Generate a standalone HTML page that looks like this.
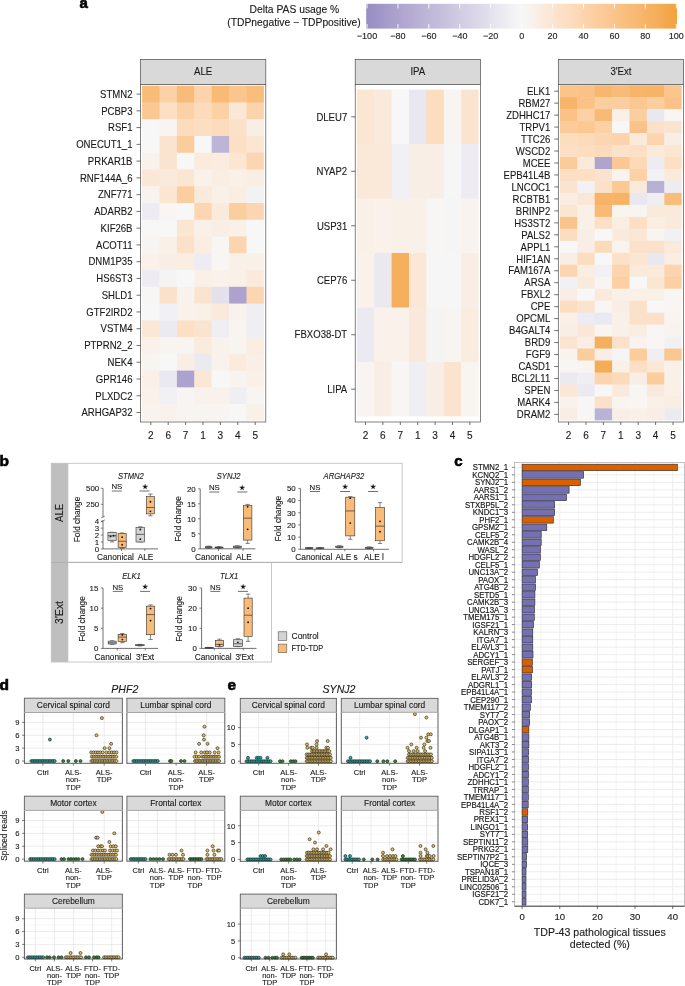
<!DOCTYPE html>
<html><head><meta charset="utf-8"><style>
html,body{margin:0;padding:0;background:#fff;}
body{width:685px;height:986px;overflow:hidden;}
svg{display:block;font-family:"Liberation Sans", sans-serif;will-change:transform;}
text{stroke:#1a1a1a;stroke-width:0.12px;}
</style></head><body>
<svg width="685" height="986" viewBox="0 0 685 986">
<rect width="685" height="986" fill="#fff"/>
<text x="79.5" y="8.3" font-size="15" text-anchor="start" fill="#000" font-weight="bold" style="stroke:#000;stroke-width:0.6px">a</text>
<text x="294.4" y="13.31" font-size="10.3" text-anchor="middle" fill="#1a1a1a">Delta PAS usage %</text>
<text x="294" y="25.51" font-size="10.3" text-anchor="middle" fill="#1a1a1a">(TDPnegative − TDPpositive)</text>
<defs><linearGradient id="cb" x1="0" x2="1" y1="0" y2="0"><stop offset="0" stop-color="#998ec3"/><stop offset="0.03" stop-color="#9e93c6"/><stop offset="0.05" stop-color="#a298c8"/><stop offset="0.07" stop-color="#a79dcb"/><stop offset="0.1" stop-color="#aca2cd"/><stop offset="0.12" stop-color="#b1a7d0"/><stop offset="0.15" stop-color="#b5acd3"/><stop offset="0.17" stop-color="#bab2d5"/><stop offset="0.2" stop-color="#bfb7d8"/><stop offset="0.23" stop-color="#c3bcda"/><stop offset="0.25" stop-color="#c8c1dd"/><stop offset="0.28" stop-color="#cdc7e0"/><stop offset="0.3" stop-color="#d1cce2"/><stop offset="0.33" stop-color="#d6d1e5"/><stop offset="0.35" stop-color="#dbd6e7"/><stop offset="0.38" stop-color="#dfdcea"/><stop offset="0.4" stop-color="#e4e1ed"/><stop offset="0.42" stop-color="#e9e7ef"/><stop offset="0.45" stop-color="#eeecf2"/><stop offset="0.47" stop-color="#f2f2f4"/><stop offset="0.5" stop-color="#f7f7f7"/><stop offset="0.53" stop-color="#f8f3ee"/><stop offset="0.55" stop-color="#f9eee5"/><stop offset="0.57" stop-color="#faeadb"/><stop offset="0.6" stop-color="#fbe6d2"/><stop offset="0.62" stop-color="#fbe1c9"/><stop offset="0.65" stop-color="#fcddc0"/><stop offset="0.68" stop-color="#fcd9b7"/><stop offset="0.7" stop-color="#fcd5ae"/><stop offset="0.72" stop-color="#fcd1a5"/><stop offset="0.75" stop-color="#fbcc9c"/><stop offset="0.78" stop-color="#fbc893"/><stop offset="0.8" stop-color="#fac48a"/><stop offset="0.82" stop-color="#fac081"/><stop offset="0.85" stop-color="#f9bc78"/><stop offset="0.88" stop-color="#f8b76f"/><stop offset="0.9" stop-color="#f7b366"/><stop offset="0.93" stop-color="#f5af5d"/><stop offset="0.95" stop-color="#f4ab54"/><stop offset="0.97" stop-color="#f3a74a"/><stop offset="1" stop-color="#f1a340"/></linearGradient></defs>
<rect x="366.2" y="3.8" width="310.8" height="24.8" fill="url(#cb)"/>
<line x1="367" y1="3.8" x2="367" y2="8.4" stroke="#ffffff" stroke-width="0.9"/>
<line x1="367" y1="24" x2="367" y2="28.6" stroke="#ffffff" stroke-width="0.9"/>
<text x="367" y="39.24" font-size="9" text-anchor="middle" fill="#222">−100</text>
<line x1="397.93" y1="3.8" x2="397.93" y2="8.4" stroke="#ffffff" stroke-width="0.9"/>
<line x1="397.93" y1="24" x2="397.93" y2="28.6" stroke="#ffffff" stroke-width="0.9"/>
<text x="397.93" y="39.24" font-size="9" text-anchor="middle" fill="#222">−80</text>
<line x1="428.86" y1="3.8" x2="428.86" y2="8.4" stroke="#ffffff" stroke-width="0.9"/>
<line x1="428.86" y1="24" x2="428.86" y2="28.6" stroke="#ffffff" stroke-width="0.9"/>
<text x="428.86" y="39.24" font-size="9" text-anchor="middle" fill="#222">−60</text>
<line x1="459.79" y1="3.8" x2="459.79" y2="8.4" stroke="#ffffff" stroke-width="0.9"/>
<line x1="459.79" y1="24" x2="459.79" y2="28.6" stroke="#ffffff" stroke-width="0.9"/>
<text x="459.79" y="39.24" font-size="9" text-anchor="middle" fill="#222">−40</text>
<line x1="490.72" y1="3.8" x2="490.72" y2="8.4" stroke="#ffffff" stroke-width="0.9"/>
<line x1="490.72" y1="24" x2="490.72" y2="28.6" stroke="#ffffff" stroke-width="0.9"/>
<text x="490.72" y="39.24" font-size="9" text-anchor="middle" fill="#222">−20</text>
<line x1="521.65" y1="3.8" x2="521.65" y2="8.4" stroke="#ffffff" stroke-width="0.9"/>
<line x1="521.65" y1="24" x2="521.65" y2="28.6" stroke="#ffffff" stroke-width="0.9"/>
<text x="521.65" y="39.24" font-size="9" text-anchor="middle" fill="#222">0</text>
<line x1="552.58" y1="3.8" x2="552.58" y2="8.4" stroke="#ffffff" stroke-width="0.9"/>
<line x1="552.58" y1="24" x2="552.58" y2="28.6" stroke="#ffffff" stroke-width="0.9"/>
<text x="552.58" y="39.24" font-size="9" text-anchor="middle" fill="#222">20</text>
<line x1="583.51" y1="3.8" x2="583.51" y2="8.4" stroke="#ffffff" stroke-width="0.9"/>
<line x1="583.51" y1="24" x2="583.51" y2="28.6" stroke="#ffffff" stroke-width="0.9"/>
<text x="583.51" y="39.24" font-size="9" text-anchor="middle" fill="#222">40</text>
<line x1="614.44" y1="3.8" x2="614.44" y2="8.4" stroke="#ffffff" stroke-width="0.9"/>
<line x1="614.44" y1="24" x2="614.44" y2="28.6" stroke="#ffffff" stroke-width="0.9"/>
<text x="614.44" y="39.24" font-size="9" text-anchor="middle" fill="#222">60</text>
<line x1="645.37" y1="3.8" x2="645.37" y2="8.4" stroke="#ffffff" stroke-width="0.9"/>
<line x1="645.37" y1="24" x2="645.37" y2="28.6" stroke="#ffffff" stroke-width="0.9"/>
<text x="645.37" y="39.24" font-size="9" text-anchor="middle" fill="#222">80</text>
<line x1="676.3" y1="3.8" x2="676.3" y2="8.4" stroke="#ffffff" stroke-width="0.9"/>
<line x1="676.3" y1="24" x2="676.3" y2="28.6" stroke="#ffffff" stroke-width="0.9"/>
<text x="676.3" y="39.24" font-size="9" text-anchor="middle" fill="#222">100</text>
<rect x="140.5" y="59.4" width="125.3" height="25" fill="#d9d9d9" stroke="#4d4d4d" stroke-width="0.7"/>
<text transform="translate(203.15 74.88) scale(0.92 1)" font-size="10.5" text-anchor="middle" fill="#1a1a1a">ALE</text>
<rect x="140.5" y="84.4" width="125.3" height="337.6" fill="#ffffff"/>
<rect x="142.1" y="85.7" width="17.9" height="17.26" fill="#f9bc78"/>
<rect x="159.5" y="85.7" width="17.9" height="17.26" fill="#fcd1a5"/>
<rect x="176.9" y="85.7" width="17.9" height="17.26" fill="#f9bc78"/>
<rect x="194.3" y="85.7" width="17.9" height="17.26" fill="#fcd3aa"/>
<rect x="211.7" y="85.7" width="17.9" height="17.26" fill="#f8ba75"/>
<rect x="229.1" y="85.7" width="17.9" height="17.26" fill="#fbc68e"/>
<rect x="246.5" y="85.7" width="17.4" height="17.26" fill="#f9bd7c"/>
<rect x="142.1" y="102.46" width="17.9" height="17.26" fill="#fbc893"/>
<rect x="159.5" y="102.46" width="17.9" height="17.26" fill="#fcdfc4"/>
<rect x="176.9" y="102.46" width="17.9" height="17.26" fill="#fcd1a5"/>
<rect x="194.3" y="102.46" width="17.9" height="17.26" fill="#fcdcbc"/>
<rect x="211.7" y="102.46" width="17.9" height="17.26" fill="#fcd1a5"/>
<rect x="229.1" y="102.46" width="17.9" height="17.26" fill="#fbe7d6"/>
<rect x="246.5" y="102.46" width="17.4" height="17.26" fill="#fcd3aa"/>
<rect x="142.1" y="119.22" width="17.9" height="17.26" fill="#f7f7f7"/>
<rect x="159.5" y="119.22" width="17.9" height="17.26" fill="#f8f4f1"/>
<rect x="176.9" y="119.22" width="17.9" height="17.26" fill="#fcdcbc"/>
<rect x="194.3" y="119.22" width="17.9" height="17.26" fill="#fcdec2"/>
<rect x="211.7" y="119.22" width="17.9" height="17.26" fill="#fcdcbc"/>
<rect x="229.1" y="119.22" width="17.9" height="17.26" fill="#fbe1c7"/>
<rect x="246.5" y="119.22" width="17.4" height="17.26" fill="#f9eee5"/>
<rect x="142.1" y="135.98" width="17.9" height="17.26" fill="#f7f7f7"/>
<rect x="159.5" y="135.98" width="17.9" height="17.26" fill="#fbe4cf"/>
<rect x="176.9" y="135.98" width="17.9" height="17.26" fill="#fbcc9c"/>
<rect x="194.3" y="135.98" width="17.9" height="17.26" fill="#f7f7f7"/>
<rect x="211.7" y="135.98" width="17.9" height="17.26" fill="#bdb5d7"/>
<rect x="229.1" y="135.98" width="17.9" height="17.26" fill="#fcdfc4"/>
<rect x="246.5" y="135.98" width="17.4" height="17.26" fill="#fbe6d2"/>
<rect x="142.1" y="152.74" width="17.9" height="17.26" fill="#f9f2ec"/>
<rect x="159.5" y="152.74" width="17.9" height="17.26" fill="#fbe4cf"/>
<rect x="176.9" y="152.74" width="17.9" height="17.26" fill="#f7f7f7"/>
<rect x="194.3" y="152.74" width="17.9" height="17.26" fill="#faebdd"/>
<rect x="211.7" y="152.74" width="17.9" height="17.26" fill="#faecdf"/>
<rect x="229.1" y="152.74" width="17.9" height="17.26" fill="#fbe6d2"/>
<rect x="246.5" y="152.74" width="17.4" height="17.26" fill="#fcd6b2"/>
<rect x="142.1" y="169.5" width="17.9" height="17.26" fill="#fbe7d6"/>
<rect x="159.5" y="169.5" width="17.9" height="17.26" fill="#faeadb"/>
<rect x="176.9" y="169.5" width="17.9" height="17.26" fill="#fbe6d2"/>
<rect x="194.3" y="169.5" width="17.9" height="17.26" fill="#f9f1ea"/>
<rect x="211.7" y="169.5" width="17.9" height="17.26" fill="#faede1"/>
<rect x="229.1" y="169.5" width="17.9" height="17.26" fill="#f9f0e8"/>
<rect x="246.5" y="169.5" width="17.4" height="17.26" fill="#faede1"/>
<rect x="142.1" y="186.26" width="17.9" height="17.26" fill="#f8f3ee"/>
<rect x="159.5" y="186.26" width="17.9" height="17.26" fill="#fbe6d2"/>
<rect x="176.9" y="186.26" width="17.9" height="17.26" fill="#fbcea0"/>
<rect x="194.3" y="186.26" width="17.9" height="17.26" fill="#faeadb"/>
<rect x="211.7" y="186.26" width="17.9" height="17.26" fill="#f9f0e8"/>
<rect x="229.1" y="186.26" width="17.9" height="17.26" fill="#faede1"/>
<rect x="246.5" y="186.26" width="17.4" height="17.26" fill="#f2f2f4"/>
<rect x="142.1" y="203.02" width="17.9" height="17.26" fill="#eeecf2"/>
<rect x="159.5" y="203.02" width="17.9" height="17.26" fill="#f8f5f3"/>
<rect x="176.9" y="203.02" width="17.9" height="17.26" fill="#f7f7f7"/>
<rect x="194.3" y="203.02" width="17.9" height="17.26" fill="#fcd6b2"/>
<rect x="211.7" y="203.02" width="17.9" height="17.26" fill="#faeadb"/>
<rect x="229.1" y="203.02" width="17.9" height="17.26" fill="#fbcea0"/>
<rect x="246.5" y="203.02" width="17.4" height="17.26" fill="#fcd6b2"/>
<rect x="142.1" y="219.78" width="17.9" height="17.26" fill="#f7f7f7"/>
<rect x="159.5" y="219.78" width="17.9" height="17.26" fill="#f7f7f7"/>
<rect x="176.9" y="219.78" width="17.9" height="17.26" fill="#fbe6d2"/>
<rect x="194.3" y="219.78" width="17.9" height="17.26" fill="#f9f0e8"/>
<rect x="211.7" y="219.78" width="17.9" height="17.26" fill="#f9eee5"/>
<rect x="229.1" y="219.78" width="17.9" height="17.26" fill="#f9f0e8"/>
<rect x="246.5" y="219.78" width="17.4" height="17.26" fill="#f7f7f7"/>
<rect x="142.1" y="236.54" width="17.9" height="17.26" fill="#f8f4f1"/>
<rect x="159.5" y="236.54" width="17.9" height="17.26" fill="#f9f0e8"/>
<rect x="176.9" y="236.54" width="17.9" height="17.26" fill="#fbe1c9"/>
<rect x="194.3" y="236.54" width="17.9" height="17.26" fill="#faede1"/>
<rect x="211.7" y="236.54" width="17.9" height="17.26" fill="#f8f5f3"/>
<rect x="229.1" y="236.54" width="17.9" height="17.26" fill="#fcd5ae"/>
<rect x="246.5" y="236.54" width="17.4" height="17.26" fill="#f7f7f7"/>
<rect x="142.1" y="253.3" width="17.9" height="17.26" fill="#f9f1ea"/>
<rect x="159.5" y="253.3" width="17.9" height="17.26" fill="#f9eee5"/>
<rect x="176.9" y="253.3" width="17.9" height="17.26" fill="#faede1"/>
<rect x="194.3" y="253.3" width="17.9" height="17.26" fill="#eeecf2"/>
<rect x="211.7" y="253.3" width="17.9" height="17.26" fill="#f8f5f3"/>
<rect x="229.1" y="253.3" width="17.9" height="17.26" fill="#f9f0e8"/>
<rect x="246.5" y="253.3" width="17.4" height="17.26" fill="#f9f0e8"/>
<rect x="142.1" y="270.06" width="17.9" height="17.26" fill="#eeecf2"/>
<rect x="159.5" y="270.06" width="17.9" height="17.26" fill="#f4f4f5"/>
<rect x="176.9" y="270.06" width="17.9" height="17.26" fill="#f7f7f7"/>
<rect x="194.3" y="270.06" width="17.9" height="17.26" fill="#f9f0e8"/>
<rect x="211.7" y="270.06" width="17.9" height="17.26" fill="#f9f1ea"/>
<rect x="229.1" y="270.06" width="17.9" height="17.26" fill="#f9f0e8"/>
<rect x="246.5" y="270.06" width="17.4" height="17.26" fill="#faeadb"/>
<rect x="142.1" y="286.82" width="17.9" height="17.26" fill="#f7f6f5"/>
<rect x="159.5" y="286.82" width="17.9" height="17.26" fill="#fbe1c9"/>
<rect x="176.9" y="286.82" width="17.9" height="17.26" fill="#f9f2ec"/>
<rect x="194.3" y="286.82" width="17.9" height="17.26" fill="#fbe4cf"/>
<rect x="211.7" y="286.82" width="17.9" height="17.26" fill="#e4e1ed"/>
<rect x="229.1" y="286.82" width="17.9" height="17.26" fill="#aca2cd"/>
<rect x="246.5" y="286.82" width="17.4" height="17.26" fill="#fcd6b2"/>
<rect x="142.1" y="303.58" width="17.9" height="17.26" fill="#f7f7f7"/>
<rect x="159.5" y="303.58" width="17.9" height="17.26" fill="#f1f0f4"/>
<rect x="176.9" y="303.58" width="17.9" height="17.26" fill="#f9f2ec"/>
<rect x="194.3" y="303.58" width="17.9" height="17.26" fill="#f9f0e8"/>
<rect x="211.7" y="303.58" width="17.9" height="17.26" fill="#faeadb"/>
<rect x="229.1" y="303.58" width="17.9" height="17.26" fill="#f9f2ec"/>
<rect x="246.5" y="303.58" width="17.4" height="17.26" fill="#efeef3"/>
<rect x="142.1" y="320.34" width="17.9" height="17.26" fill="#fbe7d6"/>
<rect x="159.5" y="320.34" width="17.9" height="17.26" fill="#eceaf1"/>
<rect x="176.9" y="320.34" width="17.9" height="17.26" fill="#fcdfc4"/>
<rect x="194.3" y="320.34" width="17.9" height="17.26" fill="#fbe4cf"/>
<rect x="211.7" y="320.34" width="17.9" height="17.26" fill="#efeef3"/>
<rect x="229.1" y="320.34" width="17.9" height="17.26" fill="#f8f4f0"/>
<rect x="246.5" y="320.34" width="17.4" height="17.26" fill="#efeef3"/>
<rect x="142.1" y="337.1" width="17.9" height="17.26" fill="#f9f1ea"/>
<rect x="159.5" y="337.1" width="17.9" height="17.26" fill="#f8f4f0"/>
<rect x="176.9" y="337.1" width="17.9" height="17.26" fill="#f8f4f1"/>
<rect x="194.3" y="337.1" width="17.9" height="17.26" fill="#faebdd"/>
<rect x="211.7" y="337.1" width="17.9" height="17.26" fill="#f9f2ec"/>
<rect x="229.1" y="337.1" width="17.9" height="17.26" fill="#f8f4f0"/>
<rect x="246.5" y="337.1" width="17.4" height="17.26" fill="#faede1"/>
<rect x="142.1" y="353.86" width="17.9" height="17.26" fill="#f8f4f0"/>
<rect x="159.5" y="353.86" width="17.9" height="17.26" fill="#f7f7f7"/>
<rect x="176.9" y="353.86" width="17.9" height="17.26" fill="#f9eee5"/>
<rect x="194.3" y="353.86" width="17.9" height="17.26" fill="#eceaf1"/>
<rect x="211.7" y="353.86" width="17.9" height="17.26" fill="#f9f2ec"/>
<rect x="229.1" y="353.86" width="17.9" height="17.26" fill="#faebdd"/>
<rect x="246.5" y="353.86" width="17.4" height="17.26" fill="#f9efe6"/>
<rect x="142.1" y="370.62" width="17.9" height="17.26" fill="#f9f0e8"/>
<rect x="159.5" y="370.62" width="17.9" height="17.26" fill="#eae8f0"/>
<rect x="176.9" y="370.62" width="17.9" height="17.26" fill="#aca2cd"/>
<rect x="194.3" y="370.62" width="17.9" height="17.26" fill="#fbe7d6"/>
<rect x="211.7" y="370.62" width="17.9" height="17.26" fill="#f7f7f7"/>
<rect x="229.1" y="370.62" width="17.9" height="17.26" fill="#f8f3ee"/>
<rect x="246.5" y="370.62" width="17.4" height="17.26" fill="#f9f0e8"/>
<rect x="142.1" y="387.38" width="17.9" height="17.26" fill="#f9f1ea"/>
<rect x="159.5" y="387.38" width="17.9" height="17.26" fill="#f1f0f4"/>
<rect x="176.9" y="387.38" width="17.9" height="17.26" fill="#f8f4f1"/>
<rect x="194.3" y="387.38" width="17.9" height="17.26" fill="#f9f2ec"/>
<rect x="211.7" y="387.38" width="17.9" height="17.26" fill="#f9f2ec"/>
<rect x="229.1" y="387.38" width="17.9" height="17.26" fill="#efeef3"/>
<rect x="246.5" y="387.38" width="17.4" height="17.26" fill="#f8f4f0"/>
<rect x="142.1" y="404.14" width="17.9" height="16.76" fill="#f8f3ee"/>
<rect x="159.5" y="404.14" width="17.9" height="16.76" fill="#f9f2ec"/>
<rect x="176.9" y="404.14" width="17.9" height="16.76" fill="#f8f4f1"/>
<rect x="194.3" y="404.14" width="17.9" height="16.76" fill="#f8f4f0"/>
<rect x="211.7" y="404.14" width="17.9" height="16.76" fill="#f8f4f1"/>
<rect x="229.1" y="404.14" width="17.9" height="16.76" fill="#f7f7f7"/>
<rect x="246.5" y="404.14" width="17.4" height="16.76" fill="#f9f0e8"/>
<rect x="140.5" y="84.4" width="125.3" height="337.6" fill="none" stroke="#4d4d4d" stroke-width="0.7"/>
<line x1="136.5" y1="94.08" x2="140.5" y2="94.08" stroke="#333" stroke-width="0.7"/>
<text transform="translate(132.5 97.82) scale(0.92 1)" font-size="10.4" text-anchor="end" fill="#1a1a1a">STMN2</text>
<line x1="136.5" y1="110.84" x2="140.5" y2="110.84" stroke="#333" stroke-width="0.7"/>
<text transform="translate(132.5 114.58) scale(0.92 1)" font-size="10.4" text-anchor="end" fill="#1a1a1a">PCBP3</text>
<line x1="136.5" y1="127.6" x2="140.5" y2="127.6" stroke="#333" stroke-width="0.7"/>
<text transform="translate(132.5 131.34) scale(0.92 1)" font-size="10.4" text-anchor="end" fill="#1a1a1a">RSF1</text>
<line x1="136.5" y1="144.36" x2="140.5" y2="144.36" stroke="#333" stroke-width="0.7"/>
<text transform="translate(132.5 148.1) scale(0.92 1)" font-size="10.4" text-anchor="end" fill="#1a1a1a">ONECUT1_1</text>
<line x1="136.5" y1="161.12" x2="140.5" y2="161.12" stroke="#333" stroke-width="0.7"/>
<text transform="translate(132.5 164.86) scale(0.92 1)" font-size="10.4" text-anchor="end" fill="#1a1a1a">PRKAR1B</text>
<line x1="136.5" y1="177.88" x2="140.5" y2="177.88" stroke="#333" stroke-width="0.7"/>
<text transform="translate(132.5 181.62) scale(0.92 1)" font-size="10.4" text-anchor="end" fill="#1a1a1a">RNF144A_6</text>
<line x1="136.5" y1="194.64" x2="140.5" y2="194.64" stroke="#333" stroke-width="0.7"/>
<text transform="translate(132.5 198.38) scale(0.92 1)" font-size="10.4" text-anchor="end" fill="#1a1a1a">ZNF771</text>
<line x1="136.5" y1="211.4" x2="140.5" y2="211.4" stroke="#333" stroke-width="0.7"/>
<text transform="translate(132.5 215.14) scale(0.92 1)" font-size="10.4" text-anchor="end" fill="#1a1a1a">ADARB2</text>
<line x1="136.5" y1="228.16" x2="140.5" y2="228.16" stroke="#333" stroke-width="0.7"/>
<text transform="translate(132.5 231.9) scale(0.92 1)" font-size="10.4" text-anchor="end" fill="#1a1a1a">KIF26B</text>
<line x1="136.5" y1="244.92" x2="140.5" y2="244.92" stroke="#333" stroke-width="0.7"/>
<text transform="translate(132.5 248.66) scale(0.92 1)" font-size="10.4" text-anchor="end" fill="#1a1a1a">ACOT11</text>
<line x1="136.5" y1="261.68" x2="140.5" y2="261.68" stroke="#333" stroke-width="0.7"/>
<text transform="translate(132.5 265.42) scale(0.92 1)" font-size="10.4" text-anchor="end" fill="#1a1a1a">DNM1P35</text>
<line x1="136.5" y1="278.44" x2="140.5" y2="278.44" stroke="#333" stroke-width="0.7"/>
<text transform="translate(132.5 282.18) scale(0.92 1)" font-size="10.4" text-anchor="end" fill="#1a1a1a">HS6ST3</text>
<line x1="136.5" y1="295.2" x2="140.5" y2="295.2" stroke="#333" stroke-width="0.7"/>
<text transform="translate(132.5 298.94) scale(0.92 1)" font-size="10.4" text-anchor="end" fill="#1a1a1a">SHLD1</text>
<line x1="136.5" y1="311.96" x2="140.5" y2="311.96" stroke="#333" stroke-width="0.7"/>
<text transform="translate(132.5 315.7) scale(0.92 1)" font-size="10.4" text-anchor="end" fill="#1a1a1a">GTF2IRD2</text>
<line x1="136.5" y1="328.72" x2="140.5" y2="328.72" stroke="#333" stroke-width="0.7"/>
<text transform="translate(132.5 332.46) scale(0.92 1)" font-size="10.4" text-anchor="end" fill="#1a1a1a">VSTM4</text>
<line x1="136.5" y1="345.48" x2="140.5" y2="345.48" stroke="#333" stroke-width="0.7"/>
<text transform="translate(132.5 349.22) scale(0.92 1)" font-size="10.4" text-anchor="end" fill="#1a1a1a">PTPRN2_2</text>
<line x1="136.5" y1="362.24" x2="140.5" y2="362.24" stroke="#333" stroke-width="0.7"/>
<text transform="translate(132.5 365.98) scale(0.92 1)" font-size="10.4" text-anchor="end" fill="#1a1a1a">NEK4</text>
<line x1="136.5" y1="379" x2="140.5" y2="379" stroke="#333" stroke-width="0.7"/>
<text transform="translate(132.5 382.74) scale(0.92 1)" font-size="10.4" text-anchor="end" fill="#1a1a1a">GPR146</text>
<line x1="136.5" y1="395.76" x2="140.5" y2="395.76" stroke="#333" stroke-width="0.7"/>
<text transform="translate(132.5 399.5) scale(0.92 1)" font-size="10.4" text-anchor="end" fill="#1a1a1a">PLXDC2</text>
<line x1="136.5" y1="412.52" x2="140.5" y2="412.52" stroke="#333" stroke-width="0.7"/>
<text transform="translate(132.5 416.26) scale(0.92 1)" font-size="10.4" text-anchor="end" fill="#1a1a1a">ARHGAP32</text>
<line x1="150.8" y1="422" x2="150.8" y2="425" stroke="#333" stroke-width="0.7"/>
<text x="150.8" y="438.8" font-size="10" text-anchor="middle" fill="#1a1a1a">2</text>
<line x1="168.2" y1="422" x2="168.2" y2="425" stroke="#333" stroke-width="0.7"/>
<text x="168.2" y="438.8" font-size="10" text-anchor="middle" fill="#1a1a1a">6</text>
<line x1="185.6" y1="422" x2="185.6" y2="425" stroke="#333" stroke-width="0.7"/>
<text x="185.6" y="438.8" font-size="10" text-anchor="middle" fill="#1a1a1a">7</text>
<line x1="203" y1="422" x2="203" y2="425" stroke="#333" stroke-width="0.7"/>
<text x="203" y="438.8" font-size="10" text-anchor="middle" fill="#1a1a1a">1</text>
<line x1="220.4" y1="422" x2="220.4" y2="425" stroke="#333" stroke-width="0.7"/>
<text x="220.4" y="438.8" font-size="10" text-anchor="middle" fill="#1a1a1a">3</text>
<line x1="237.8" y1="422" x2="237.8" y2="425" stroke="#333" stroke-width="0.7"/>
<text x="237.8" y="438.8" font-size="10" text-anchor="middle" fill="#1a1a1a">4</text>
<line x1="255.2" y1="422" x2="255.2" y2="425" stroke="#333" stroke-width="0.7"/>
<text x="255.2" y="438.8" font-size="10" text-anchor="middle" fill="#1a1a1a">5</text>
<rect x="355.2" y="59.4" width="125.3" height="25" fill="#d9d9d9" stroke="#4d4d4d" stroke-width="0.7"/>
<text transform="translate(417.85 74.88) scale(0.92 1)" font-size="10.5" text-anchor="middle" fill="#1a1a1a">IPA</text>
<rect x="355.2" y="84.4" width="125.3" height="337.6" fill="#ffffff"/>
<rect x="356.8" y="89.6" width="17.9" height="54.97" fill="#fbe6d2"/>
<rect x="374.2" y="89.6" width="17.9" height="54.97" fill="#faeadb"/>
<rect x="391.6" y="89.6" width="17.9" height="54.97" fill="#f7f7f7"/>
<rect x="409" y="89.6" width="17.9" height="54.97" fill="#e9e7ef"/>
<rect x="426.4" y="89.6" width="17.9" height="54.97" fill="#fcddc0"/>
<rect x="443.8" y="89.6" width="17.9" height="54.97" fill="#f8f4f1"/>
<rect x="461.2" y="89.6" width="17.4" height="54.97" fill="#fbe4cf"/>
<rect x="356.8" y="144.07" width="17.9" height="54.97" fill="#fae8d8"/>
<rect x="374.2" y="144.07" width="17.9" height="54.97" fill="#fae8d8"/>
<rect x="391.6" y="144.07" width="17.9" height="54.97" fill="#f1f0f4"/>
<rect x="409" y="144.07" width="17.9" height="54.97" fill="#f9eee5"/>
<rect x="426.4" y="144.07" width="17.9" height="54.97" fill="#f9eee5"/>
<rect x="443.8" y="144.07" width="17.9" height="54.97" fill="#f6f6f6"/>
<rect x="461.2" y="144.07" width="17.4" height="54.97" fill="#eeecf2"/>
<rect x="356.8" y="198.54" width="17.9" height="54.97" fill="#f9f0e8"/>
<rect x="374.2" y="198.54" width="17.9" height="54.97" fill="#f9f1ea"/>
<rect x="391.6" y="198.54" width="17.9" height="54.97" fill="#f9f0e8"/>
<rect x="409" y="198.54" width="17.9" height="54.97" fill="#f9f0e8"/>
<rect x="426.4" y="198.54" width="17.9" height="54.97" fill="#f7f6f5"/>
<rect x="443.8" y="198.54" width="17.9" height="54.97" fill="#f5f5f6"/>
<rect x="461.2" y="198.54" width="17.4" height="54.97" fill="#f8f3ee"/>
<rect x="356.8" y="253.01" width="17.9" height="54.97" fill="#f9f1ea"/>
<rect x="374.2" y="253.01" width="17.9" height="54.97" fill="#ebe9f0"/>
<rect x="391.6" y="253.01" width="17.9" height="54.97" fill="#f5af5d"/>
<rect x="409" y="253.01" width="17.9" height="54.97" fill="#fbe7d6"/>
<rect x="426.4" y="253.01" width="17.9" height="54.97" fill="#f6f6f6"/>
<rect x="443.8" y="253.01" width="17.9" height="54.97" fill="#f6f6f6"/>
<rect x="461.2" y="253.01" width="17.4" height="54.97" fill="#f9eee5"/>
<rect x="356.8" y="307.48" width="17.9" height="54.97" fill="#eceaf1"/>
<rect x="374.2" y="307.48" width="17.9" height="54.97" fill="#f9f1ea"/>
<rect x="391.6" y="307.48" width="17.9" height="54.97" fill="#f9f1ea"/>
<rect x="409" y="307.48" width="17.9" height="54.97" fill="#fae9da"/>
<rect x="426.4" y="307.48" width="17.9" height="54.97" fill="#f4f4f5"/>
<rect x="443.8" y="307.48" width="17.9" height="54.97" fill="#f8f4f1"/>
<rect x="461.2" y="307.48" width="17.4" height="54.97" fill="#faecdf"/>
<rect x="356.8" y="361.95" width="17.9" height="54.47" fill="#f8f4f1"/>
<rect x="374.2" y="361.95" width="17.9" height="54.47" fill="#f9eee5"/>
<rect x="391.6" y="361.95" width="17.9" height="54.47" fill="#f7f6f5"/>
<rect x="409" y="361.95" width="17.9" height="54.47" fill="#efeef3"/>
<rect x="426.4" y="361.95" width="17.9" height="54.47" fill="#f9eee5"/>
<rect x="443.8" y="361.95" width="17.9" height="54.47" fill="#fbe4cf"/>
<rect x="461.2" y="361.95" width="17.4" height="54.47" fill="#f8f4f0"/>
<rect x="355.2" y="84.4" width="125.3" height="337.6" fill="none" stroke="#4d4d4d" stroke-width="0.7"/>
<line x1="351.2" y1="116.83" x2="355.2" y2="116.83" stroke="#333" stroke-width="0.7"/>
<text transform="translate(347.2 120.58) scale(0.92 1)" font-size="10.4" text-anchor="end" fill="#1a1a1a">DLEU7</text>
<line x1="351.2" y1="171.31" x2="355.2" y2="171.31" stroke="#333" stroke-width="0.7"/>
<text transform="translate(347.2 175.05) scale(0.92 1)" font-size="10.4" text-anchor="end" fill="#1a1a1a">NYAP2</text>
<line x1="351.2" y1="225.78" x2="355.2" y2="225.78" stroke="#333" stroke-width="0.7"/>
<text transform="translate(347.2 229.52) scale(0.92 1)" font-size="10.4" text-anchor="end" fill="#1a1a1a">USP31</text>
<line x1="351.2" y1="280.25" x2="355.2" y2="280.25" stroke="#333" stroke-width="0.7"/>
<text transform="translate(347.2 283.99) scale(0.92 1)" font-size="10.4" text-anchor="end" fill="#1a1a1a">CEP76</text>
<line x1="351.2" y1="334.72" x2="355.2" y2="334.72" stroke="#333" stroke-width="0.7"/>
<text transform="translate(347.2 338.46) scale(0.92 1)" font-size="10.4" text-anchor="end" fill="#1a1a1a">FBXO38-DT</text>
<line x1="351.2" y1="389.18" x2="355.2" y2="389.18" stroke="#333" stroke-width="0.7"/>
<text transform="translate(347.2 392.93) scale(0.92 1)" font-size="10.4" text-anchor="end" fill="#1a1a1a">LIPA</text>
<line x1="365.5" y1="422" x2="365.5" y2="425" stroke="#333" stroke-width="0.7"/>
<text x="365.5" y="438.8" font-size="10" text-anchor="middle" fill="#1a1a1a">2</text>
<line x1="382.9" y1="422" x2="382.9" y2="425" stroke="#333" stroke-width="0.7"/>
<text x="382.9" y="438.8" font-size="10" text-anchor="middle" fill="#1a1a1a">6</text>
<line x1="400.3" y1="422" x2="400.3" y2="425" stroke="#333" stroke-width="0.7"/>
<text x="400.3" y="438.8" font-size="10" text-anchor="middle" fill="#1a1a1a">7</text>
<line x1="417.7" y1="422" x2="417.7" y2="425" stroke="#333" stroke-width="0.7"/>
<text x="417.7" y="438.8" font-size="10" text-anchor="middle" fill="#1a1a1a">1</text>
<line x1="435.1" y1="422" x2="435.1" y2="425" stroke="#333" stroke-width="0.7"/>
<text x="435.1" y="438.8" font-size="10" text-anchor="middle" fill="#1a1a1a">3</text>
<line x1="452.5" y1="422" x2="452.5" y2="425" stroke="#333" stroke-width="0.7"/>
<text x="452.5" y="438.8" font-size="10" text-anchor="middle" fill="#1a1a1a">4</text>
<line x1="469.9" y1="422" x2="469.9" y2="425" stroke="#333" stroke-width="0.7"/>
<text x="469.9" y="438.8" font-size="10" text-anchor="middle" fill="#1a1a1a">5</text>
<rect x="558.3" y="59.4" width="125.3" height="25" fill="#d9d9d9" stroke="#4d4d4d" stroke-width="0.7"/>
<text transform="translate(620.95 74.88) scale(0.92 1)" font-size="10.5" text-anchor="middle" fill="#1a1a1a">3′Ext</text>
<rect x="558.3" y="84.4" width="125.3" height="337.6" fill="#ffffff"/>
<rect x="559.9" y="85.2" width="17.9" height="12.47" fill="#fac48a"/>
<rect x="577.3" y="85.2" width="17.9" height="12.47" fill="#fac287"/>
<rect x="594.7" y="85.2" width="17.9" height="12.47" fill="#f8b76f"/>
<rect x="612.1" y="85.2" width="17.9" height="12.47" fill="#f9bc78"/>
<rect x="629.5" y="85.2" width="17.9" height="12.47" fill="#f7b56a"/>
<rect x="646.9" y="85.2" width="17.9" height="12.47" fill="#f7b366"/>
<rect x="664.3" y="85.2" width="17.4" height="12.47" fill="#fbc68e"/>
<rect x="559.9" y="97.17" width="17.9" height="12.47" fill="#f7b56a"/>
<rect x="577.3" y="97.17" width="17.9" height="12.47" fill="#fac287"/>
<rect x="594.7" y="97.17" width="17.9" height="12.47" fill="#fbcea0"/>
<rect x="612.1" y="97.17" width="17.9" height="12.47" fill="#fbcea0"/>
<rect x="629.5" y="97.17" width="17.9" height="12.47" fill="#fbc893"/>
<rect x="646.9" y="97.17" width="17.9" height="12.47" fill="#fbcea0"/>
<rect x="664.3" y="97.17" width="17.4" height="12.47" fill="#fac287"/>
<rect x="559.9" y="109.14" width="17.9" height="12.47" fill="#fac287"/>
<rect x="577.3" y="109.14" width="17.9" height="12.47" fill="#fcd1a5"/>
<rect x="594.7" y="109.14" width="17.9" height="12.47" fill="#f8ba75"/>
<rect x="612.1" y="109.14" width="17.9" height="12.47" fill="#f9f0e8"/>
<rect x="629.5" y="109.14" width="17.9" height="12.47" fill="#fbcea0"/>
<rect x="646.9" y="109.14" width="17.9" height="12.47" fill="#e9e7ef"/>
<rect x="664.3" y="109.14" width="17.4" height="12.47" fill="#f8f5f3"/>
<rect x="559.9" y="121.11" width="17.9" height="12.47" fill="#fbcb99"/>
<rect x="577.3" y="121.11" width="17.9" height="12.47" fill="#fbc893"/>
<rect x="594.7" y="121.11" width="17.9" height="12.47" fill="#fcd1a5"/>
<rect x="612.1" y="121.11" width="17.9" height="12.47" fill="#f7f7f7"/>
<rect x="629.5" y="121.11" width="17.9" height="12.47" fill="#fac287"/>
<rect x="646.9" y="121.11" width="17.9" height="12.47" fill="#fbe1c9"/>
<rect x="664.3" y="121.11" width="17.4" height="12.47" fill="#fbe4cf"/>
<rect x="559.9" y="133.08" width="17.9" height="12.47" fill="#fcddc0"/>
<rect x="577.3" y="133.08" width="17.9" height="12.47" fill="#fcdbbb"/>
<rect x="594.7" y="133.08" width="17.9" height="12.47" fill="#fcd6b2"/>
<rect x="612.1" y="133.08" width="17.9" height="12.47" fill="#fcd3aa"/>
<rect x="629.5" y="133.08" width="17.9" height="12.47" fill="#faeadb"/>
<rect x="646.9" y="133.08" width="17.9" height="12.47" fill="#fcd5ae"/>
<rect x="664.3" y="133.08" width="17.4" height="12.47" fill="#f9eee5"/>
<rect x="559.9" y="145.05" width="17.9" height="12.47" fill="#fcdfc4"/>
<rect x="577.3" y="145.05" width="17.9" height="12.47" fill="#fcddc0"/>
<rect x="594.7" y="145.05" width="17.9" height="12.47" fill="#fcdbbb"/>
<rect x="612.1" y="145.05" width="17.9" height="12.47" fill="#fbe2cb"/>
<rect x="629.5" y="145.05" width="17.9" height="12.47" fill="#fcdfc4"/>
<rect x="646.9" y="145.05" width="17.9" height="12.47" fill="#faeadb"/>
<rect x="664.3" y="145.05" width="17.4" height="12.47" fill="#fbe6d2"/>
<rect x="559.9" y="157.02" width="17.9" height="12.47" fill="#fbcb99"/>
<rect x="577.3" y="157.02" width="17.9" height="12.47" fill="#faeadb"/>
<rect x="594.7" y="157.02" width="17.9" height="12.47" fill="#aea4ce"/>
<rect x="612.1" y="157.02" width="17.9" height="12.47" fill="#fbc893"/>
<rect x="629.5" y="157.02" width="17.9" height="12.47" fill="#fcd9b7"/>
<rect x="646.9" y="157.02" width="17.9" height="12.47" fill="#eeecf2"/>
<rect x="664.3" y="157.02" width="17.4" height="12.47" fill="#fcdfc4"/>
<rect x="559.9" y="168.99" width="17.9" height="12.47" fill="#fcdfc4"/>
<rect x="577.3" y="168.99" width="17.9" height="12.47" fill="#fcdfc4"/>
<rect x="594.7" y="168.99" width="17.9" height="12.47" fill="#fbe4cf"/>
<rect x="612.1" y="168.99" width="17.9" height="12.47" fill="#f8f3ee"/>
<rect x="629.5" y="168.99" width="17.9" height="12.47" fill="#fcd1a5"/>
<rect x="646.9" y="168.99" width="17.9" height="12.47" fill="#f2f2f4"/>
<rect x="664.3" y="168.99" width="17.4" height="12.47" fill="#faeadb"/>
<rect x="559.9" y="180.96" width="17.9" height="12.47" fill="#fbe4cf"/>
<rect x="577.3" y="180.96" width="17.9" height="12.47" fill="#f2f2f4"/>
<rect x="594.7" y="180.96" width="17.9" height="12.47" fill="#fbe1c9"/>
<rect x="612.1" y="180.96" width="17.9" height="12.47" fill="#fbc996"/>
<rect x="629.5" y="180.96" width="17.9" height="12.47" fill="#faeadb"/>
<rect x="646.9" y="180.96" width="17.9" height="12.47" fill="#b9b1d5"/>
<rect x="664.3" y="180.96" width="17.4" height="12.47" fill="#eeecf2"/>
<rect x="559.9" y="192.93" width="17.9" height="12.47" fill="#faede1"/>
<rect x="577.3" y="192.93" width="17.9" height="12.47" fill="#fbe7d6"/>
<rect x="594.7" y="192.93" width="17.9" height="12.47" fill="#f7b467"/>
<rect x="612.1" y="192.93" width="17.9" height="12.47" fill="#f7b467"/>
<rect x="629.5" y="192.93" width="17.9" height="12.47" fill="#e9e7ef"/>
<rect x="646.9" y="192.93" width="17.9" height="12.47" fill="#efeef3"/>
<rect x="664.3" y="192.93" width="17.4" height="12.47" fill="#f9bc7a"/>
<rect x="559.9" y="204.9" width="17.9" height="12.47" fill="#fbe6d2"/>
<rect x="577.3" y="204.9" width="17.9" height="12.47" fill="#f9f0e8"/>
<rect x="594.7" y="204.9" width="17.9" height="12.47" fill="#f8ba75"/>
<rect x="612.1" y="204.9" width="17.9" height="12.47" fill="#f8f4f0"/>
<rect x="629.5" y="204.9" width="17.9" height="12.47" fill="#f8f4f0"/>
<rect x="646.9" y="204.9" width="17.9" height="12.47" fill="#faeadb"/>
<rect x="664.3" y="204.9" width="17.4" height="12.47" fill="#faeadb"/>
<rect x="559.9" y="216.87" width="17.9" height="12.47" fill="#fac58d"/>
<rect x="577.3" y="216.87" width="17.9" height="12.47" fill="#f9f0e8"/>
<rect x="594.7" y="216.87" width="17.9" height="12.47" fill="#fcdfc4"/>
<rect x="612.1" y="216.87" width="17.9" height="12.47" fill="#faede1"/>
<rect x="629.5" y="216.87" width="17.9" height="12.47" fill="#fcdfc4"/>
<rect x="646.9" y="216.87" width="17.9" height="12.47" fill="#faede1"/>
<rect x="664.3" y="216.87" width="17.4" height="12.47" fill="#faeadb"/>
<rect x="559.9" y="228.84" width="17.9" height="12.47" fill="#fcddc0"/>
<rect x="577.3" y="228.84" width="17.9" height="12.47" fill="#f9eee5"/>
<rect x="594.7" y="228.84" width="17.9" height="12.47" fill="#f7f7f7"/>
<rect x="612.1" y="228.84" width="17.9" height="12.47" fill="#faeadb"/>
<rect x="629.5" y="228.84" width="17.9" height="12.47" fill="#fbe7d6"/>
<rect x="646.9" y="228.84" width="17.9" height="12.47" fill="#f8f4f0"/>
<rect x="664.3" y="228.84" width="17.4" height="12.47" fill="#f1f0f4"/>
<rect x="559.9" y="240.81" width="17.9" height="12.47" fill="#f7f7f7"/>
<rect x="577.3" y="240.81" width="17.9" height="12.47" fill="#f9eee5"/>
<rect x="594.7" y="240.81" width="17.9" height="12.47" fill="#fcdbbb"/>
<rect x="612.1" y="240.81" width="17.9" height="12.47" fill="#f8f3ee"/>
<rect x="629.5" y="240.81" width="17.9" height="12.47" fill="#fbe1c9"/>
<rect x="646.9" y="240.81" width="17.9" height="12.47" fill="#fbe1c9"/>
<rect x="664.3" y="240.81" width="17.4" height="12.47" fill="#faeadb"/>
<rect x="559.9" y="252.78" width="17.9" height="12.47" fill="#f9eee5"/>
<rect x="577.3" y="252.78" width="17.9" height="12.47" fill="#fcddc0"/>
<rect x="594.7" y="252.78" width="17.9" height="12.47" fill="#f7f7f7"/>
<rect x="612.1" y="252.78" width="17.9" height="12.47" fill="#fbe1c9"/>
<rect x="629.5" y="252.78" width="17.9" height="12.47" fill="#fbe6d2"/>
<rect x="646.9" y="252.78" width="17.9" height="12.47" fill="#e9e7ef"/>
<rect x="664.3" y="252.78" width="17.4" height="12.47" fill="#faede1"/>
<rect x="559.9" y="264.75" width="17.9" height="12.47" fill="#fcd4ad"/>
<rect x="577.3" y="264.75" width="17.9" height="12.47" fill="#faede1"/>
<rect x="594.7" y="264.75" width="17.9" height="12.47" fill="#f1f0f4"/>
<rect x="612.1" y="264.75" width="17.9" height="12.47" fill="#fcd4ad"/>
<rect x="629.5" y="264.75" width="17.9" height="12.47" fill="#faeadb"/>
<rect x="646.9" y="264.75" width="17.9" height="12.47" fill="#faeadb"/>
<rect x="664.3" y="264.75" width="17.4" height="12.47" fill="#fcd4ad"/>
<rect x="559.9" y="276.72" width="17.9" height="12.47" fill="#f1f0f4"/>
<rect x="577.3" y="276.72" width="17.9" height="12.47" fill="#faeadb"/>
<rect x="594.7" y="276.72" width="17.9" height="12.47" fill="#f8f4f1"/>
<rect x="612.1" y="276.72" width="17.9" height="12.47" fill="#fcd0a4"/>
<rect x="629.5" y="276.72" width="17.9" height="12.47" fill="#f7f7f7"/>
<rect x="646.9" y="276.72" width="17.9" height="12.47" fill="#fbe6d2"/>
<rect x="664.3" y="276.72" width="17.4" height="12.47" fill="#fcd0a4"/>
<rect x="559.9" y="288.69" width="17.9" height="12.47" fill="#f9eee5"/>
<rect x="577.3" y="288.69" width="17.9" height="12.47" fill="#f7f7f7"/>
<rect x="594.7" y="288.69" width="17.9" height="12.47" fill="#faeadb"/>
<rect x="612.1" y="288.69" width="17.9" height="12.47" fill="#f9f0e8"/>
<rect x="629.5" y="288.69" width="17.9" height="12.47" fill="#f9f0e8"/>
<rect x="646.9" y="288.69" width="17.9" height="12.47" fill="#f9f0e8"/>
<rect x="664.3" y="288.69" width="17.4" height="12.47" fill="#f8f5f3"/>
<rect x="559.9" y="300.66" width="17.9" height="12.47" fill="#fcddc0"/>
<rect x="577.3" y="300.66" width="17.9" height="12.47" fill="#fbe4cf"/>
<rect x="594.7" y="300.66" width="17.9" height="12.47" fill="#f8f5f3"/>
<rect x="612.1" y="300.66" width="17.9" height="12.47" fill="#f9eee5"/>
<rect x="629.5" y="300.66" width="17.9" height="12.47" fill="#fbe1c9"/>
<rect x="646.9" y="300.66" width="17.9" height="12.47" fill="#f7f7f7"/>
<rect x="664.3" y="300.66" width="17.4" height="12.47" fill="#f8f5f3"/>
<rect x="559.9" y="312.63" width="17.9" height="12.47" fill="#f9f0e8"/>
<rect x="577.3" y="312.63" width="17.9" height="12.47" fill="#eeecf2"/>
<rect x="594.7" y="312.63" width="17.9" height="12.47" fill="#eae8f0"/>
<rect x="612.1" y="312.63" width="17.9" height="12.47" fill="#f9f0e8"/>
<rect x="629.5" y="312.63" width="17.9" height="12.47" fill="#fbe1c9"/>
<rect x="646.9" y="312.63" width="17.9" height="12.47" fill="#fbe1c9"/>
<rect x="664.3" y="312.63" width="17.4" height="12.47" fill="#f8f4f0"/>
<rect x="559.9" y="324.6" width="17.9" height="12.47" fill="#f9eee5"/>
<rect x="577.3" y="324.6" width="17.9" height="12.47" fill="#fbe7d6"/>
<rect x="594.7" y="324.6" width="17.9" height="12.47" fill="#f8f4f0"/>
<rect x="612.1" y="324.6" width="17.9" height="12.47" fill="#f9f0e8"/>
<rect x="629.5" y="324.6" width="17.9" height="12.47" fill="#faede1"/>
<rect x="646.9" y="324.6" width="17.9" height="12.47" fill="#f7f6f5"/>
<rect x="664.3" y="324.6" width="17.4" height="12.47" fill="#f8f3ee"/>
<rect x="559.9" y="336.57" width="17.9" height="12.47" fill="#fbe4cf"/>
<rect x="577.3" y="336.57" width="17.9" height="12.47" fill="#f9eee5"/>
<rect x="594.7" y="336.57" width="17.9" height="12.47" fill="#f5b05e"/>
<rect x="612.1" y="336.57" width="17.9" height="12.47" fill="#fbe1c9"/>
<rect x="629.5" y="336.57" width="17.9" height="12.47" fill="#f8f3ee"/>
<rect x="646.9" y="336.57" width="17.9" height="12.47" fill="#f8f5f3"/>
<rect x="664.3" y="336.57" width="17.4" height="12.47" fill="#f1f0f4"/>
<rect x="559.9" y="348.54" width="17.9" height="12.47" fill="#f8f3ee"/>
<rect x="577.3" y="348.54" width="17.9" height="12.47" fill="#fbcd9d"/>
<rect x="594.7" y="348.54" width="17.9" height="12.47" fill="#f9eee5"/>
<rect x="612.1" y="348.54" width="17.9" height="12.47" fill="#f5f5f6"/>
<rect x="629.5" y="348.54" width="17.9" height="12.47" fill="#fbcd9d"/>
<rect x="646.9" y="348.54" width="17.9" height="12.47" fill="#efeef3"/>
<rect x="664.3" y="348.54" width="17.4" height="12.47" fill="#fbc791"/>
<rect x="559.9" y="360.51" width="17.9" height="12.47" fill="#f8f5f3"/>
<rect x="577.3" y="360.51" width="17.9" height="12.47" fill="#f8f4f0"/>
<rect x="594.7" y="360.51" width="17.9" height="12.47" fill="#f4ac56"/>
<rect x="612.1" y="360.51" width="17.9" height="12.47" fill="#f9f0e8"/>
<rect x="629.5" y="360.51" width="17.9" height="12.47" fill="#fcdfc4"/>
<rect x="646.9" y="360.51" width="17.9" height="12.47" fill="#fbe7d6"/>
<rect x="664.3" y="360.51" width="17.4" height="12.47" fill="#f9f0e8"/>
<rect x="559.9" y="372.48" width="17.9" height="12.47" fill="#eceaf1"/>
<rect x="577.3" y="372.48" width="17.9" height="12.47" fill="#efeef3"/>
<rect x="594.7" y="372.48" width="17.9" height="12.47" fill="#fcd4ad"/>
<rect x="612.1" y="372.48" width="17.9" height="12.47" fill="#fcdbbb"/>
<rect x="629.5" y="372.48" width="17.9" height="12.47" fill="#f9eee5"/>
<rect x="646.9" y="372.48" width="17.9" height="12.47" fill="#fbcd9d"/>
<rect x="664.3" y="372.48" width="17.4" height="12.47" fill="#f9f0e8"/>
<rect x="559.9" y="384.45" width="17.9" height="12.47" fill="#fbe7d6"/>
<rect x="577.3" y="384.45" width="17.9" height="12.47" fill="#eceaf1"/>
<rect x="594.7" y="384.45" width="17.9" height="12.47" fill="#f7f7f7"/>
<rect x="612.1" y="384.45" width="17.9" height="12.47" fill="#faeadb"/>
<rect x="629.5" y="384.45" width="17.9" height="12.47" fill="#f7f6f5"/>
<rect x="646.9" y="384.45" width="17.9" height="12.47" fill="#faeadb"/>
<rect x="664.3" y="384.45" width="17.4" height="12.47" fill="#f9f0e8"/>
<rect x="559.9" y="396.42" width="17.9" height="12.47" fill="#f9f2ec"/>
<rect x="577.3" y="396.42" width="17.9" height="12.47" fill="#f7f6f5"/>
<rect x="594.7" y="396.42" width="17.9" height="12.47" fill="#fbe1c9"/>
<rect x="612.1" y="396.42" width="17.9" height="12.47" fill="#f8f4f0"/>
<rect x="629.5" y="396.42" width="17.9" height="12.47" fill="#f8f5f3"/>
<rect x="646.9" y="396.42" width="17.9" height="12.47" fill="#f9f0e8"/>
<rect x="664.3" y="396.42" width="17.4" height="12.47" fill="#faede1"/>
<rect x="559.9" y="408.39" width="17.9" height="11.97" fill="#f9eee5"/>
<rect x="577.3" y="408.39" width="17.9" height="11.97" fill="#f7f6f5"/>
<rect x="594.7" y="408.39" width="17.9" height="11.97" fill="#bbb3d6"/>
<rect x="612.1" y="408.39" width="17.9" height="11.97" fill="#f9eee5"/>
<rect x="629.5" y="408.39" width="17.9" height="11.97" fill="#f9f0e8"/>
<rect x="646.9" y="408.39" width="17.9" height="11.97" fill="#f9eee5"/>
<rect x="664.3" y="408.39" width="17.4" height="11.97" fill="#eceaf1"/>
<rect x="558.3" y="84.4" width="125.3" height="337.6" fill="none" stroke="#4d4d4d" stroke-width="0.7"/>
<line x1="554.3" y1="91.19" x2="558.3" y2="91.19" stroke="#333" stroke-width="0.7"/>
<text transform="translate(550.3 94.93) scale(0.92 1)" font-size="10.4" text-anchor="end" fill="#1a1a1a">ELK1</text>
<line x1="554.3" y1="103.16" x2="558.3" y2="103.16" stroke="#333" stroke-width="0.7"/>
<text transform="translate(550.3 106.9) scale(0.92 1)" font-size="10.4" text-anchor="end" fill="#1a1a1a">RBM27</text>
<line x1="554.3" y1="115.12" x2="558.3" y2="115.12" stroke="#333" stroke-width="0.7"/>
<text transform="translate(550.3 118.87) scale(0.92 1)" font-size="10.4" text-anchor="end" fill="#1a1a1a">ZDHHC17</text>
<line x1="554.3" y1="127.09" x2="558.3" y2="127.09" stroke="#333" stroke-width="0.7"/>
<text transform="translate(550.3 130.84) scale(0.92 1)" font-size="10.4" text-anchor="end" fill="#1a1a1a">TRPV1</text>
<line x1="554.3" y1="139.06" x2="558.3" y2="139.06" stroke="#333" stroke-width="0.7"/>
<text transform="translate(550.3 142.81) scale(0.92 1)" font-size="10.4" text-anchor="end" fill="#1a1a1a">TTC26</text>
<line x1="554.3" y1="151.04" x2="558.3" y2="151.04" stroke="#333" stroke-width="0.7"/>
<text transform="translate(550.3 154.78) scale(0.92 1)" font-size="10.4" text-anchor="end" fill="#1a1a1a">WSCD2</text>
<line x1="554.3" y1="163" x2="558.3" y2="163" stroke="#333" stroke-width="0.7"/>
<text transform="translate(550.3 166.75) scale(0.92 1)" font-size="10.4" text-anchor="end" fill="#1a1a1a">MCEE</text>
<line x1="554.3" y1="174.98" x2="558.3" y2="174.98" stroke="#333" stroke-width="0.7"/>
<text transform="translate(550.3 178.72) scale(0.92 1)" font-size="10.4" text-anchor="end" fill="#1a1a1a">EPB41L4B</text>
<line x1="554.3" y1="186.94" x2="558.3" y2="186.94" stroke="#333" stroke-width="0.7"/>
<text transform="translate(550.3 190.69) scale(0.92 1)" font-size="10.4" text-anchor="end" fill="#1a1a1a">LNCOC1</text>
<line x1="554.3" y1="198.92" x2="558.3" y2="198.92" stroke="#333" stroke-width="0.7"/>
<text transform="translate(550.3 202.66) scale(0.92 1)" font-size="10.4" text-anchor="end" fill="#1a1a1a">RCBTB1</text>
<line x1="554.3" y1="210.88" x2="558.3" y2="210.88" stroke="#333" stroke-width="0.7"/>
<text transform="translate(550.3 214.63) scale(0.92 1)" font-size="10.4" text-anchor="end" fill="#1a1a1a">BRINP2</text>
<line x1="554.3" y1="222.86" x2="558.3" y2="222.86" stroke="#333" stroke-width="0.7"/>
<text transform="translate(550.3 226.6) scale(0.92 1)" font-size="10.4" text-anchor="end" fill="#1a1a1a">HS3ST2</text>
<line x1="554.3" y1="234.82" x2="558.3" y2="234.82" stroke="#333" stroke-width="0.7"/>
<text transform="translate(550.3 238.57) scale(0.92 1)" font-size="10.4" text-anchor="end" fill="#1a1a1a">PALS2</text>
<line x1="554.3" y1="246.8" x2="558.3" y2="246.8" stroke="#333" stroke-width="0.7"/>
<text transform="translate(550.3 250.54) scale(0.92 1)" font-size="10.4" text-anchor="end" fill="#1a1a1a">APPL1</text>
<line x1="554.3" y1="258.76" x2="558.3" y2="258.76" stroke="#333" stroke-width="0.7"/>
<text transform="translate(550.3 262.51) scale(0.92 1)" font-size="10.4" text-anchor="end" fill="#1a1a1a">HIF1AN</text>
<line x1="554.3" y1="270.74" x2="558.3" y2="270.74" stroke="#333" stroke-width="0.7"/>
<text transform="translate(550.3 274.48) scale(0.92 1)" font-size="10.4" text-anchor="end" fill="#1a1a1a">FAM167A</text>
<line x1="554.3" y1="282.71" x2="558.3" y2="282.71" stroke="#333" stroke-width="0.7"/>
<text transform="translate(550.3 286.45) scale(0.92 1)" font-size="10.4" text-anchor="end" fill="#1a1a1a">ARSA</text>
<line x1="554.3" y1="294.68" x2="558.3" y2="294.68" stroke="#333" stroke-width="0.7"/>
<text transform="translate(550.3 298.42) scale(0.92 1)" font-size="10.4" text-anchor="end" fill="#1a1a1a">FBXL2</text>
<line x1="554.3" y1="306.65" x2="558.3" y2="306.65" stroke="#333" stroke-width="0.7"/>
<text transform="translate(550.3 310.39) scale(0.92 1)" font-size="10.4" text-anchor="end" fill="#1a1a1a">CPE</text>
<line x1="554.3" y1="318.62" x2="558.3" y2="318.62" stroke="#333" stroke-width="0.7"/>
<text transform="translate(550.3 322.36) scale(0.92 1)" font-size="10.4" text-anchor="end" fill="#1a1a1a">OPCML</text>
<line x1="554.3" y1="330.59" x2="558.3" y2="330.59" stroke="#333" stroke-width="0.7"/>
<text transform="translate(550.3 334.33) scale(0.92 1)" font-size="10.4" text-anchor="end" fill="#1a1a1a">B4GALT4</text>
<line x1="554.3" y1="342.56" x2="558.3" y2="342.56" stroke="#333" stroke-width="0.7"/>
<text transform="translate(550.3 346.3) scale(0.92 1)" font-size="10.4" text-anchor="end" fill="#1a1a1a">BRD9</text>
<line x1="554.3" y1="354.52" x2="558.3" y2="354.52" stroke="#333" stroke-width="0.7"/>
<text transform="translate(550.3 358.27) scale(0.92 1)" font-size="10.4" text-anchor="end" fill="#1a1a1a">FGF9</text>
<line x1="554.3" y1="366.5" x2="558.3" y2="366.5" stroke="#333" stroke-width="0.7"/>
<text transform="translate(550.3 370.24) scale(0.92 1)" font-size="10.4" text-anchor="end" fill="#1a1a1a">CASD1</text>
<line x1="554.3" y1="378.47" x2="558.3" y2="378.47" stroke="#333" stroke-width="0.7"/>
<text transform="translate(550.3 382.21) scale(0.92 1)" font-size="10.4" text-anchor="end" fill="#1a1a1a">BCL2L11</text>
<line x1="554.3" y1="390.44" x2="558.3" y2="390.44" stroke="#333" stroke-width="0.7"/>
<text transform="translate(550.3 394.18) scale(0.92 1)" font-size="10.4" text-anchor="end" fill="#1a1a1a">SPEN</text>
<line x1="554.3" y1="402.41" x2="558.3" y2="402.41" stroke="#333" stroke-width="0.7"/>
<text transform="translate(550.3 406.15) scale(0.92 1)" font-size="10.4" text-anchor="end" fill="#1a1a1a">MARK4</text>
<line x1="554.3" y1="414.38" x2="558.3" y2="414.38" stroke="#333" stroke-width="0.7"/>
<text transform="translate(550.3 418.12) scale(0.92 1)" font-size="10.4" text-anchor="end" fill="#1a1a1a">DRAM2</text>
<line x1="568.6" y1="422" x2="568.6" y2="425" stroke="#333" stroke-width="0.7"/>
<text x="568.6" y="438.8" font-size="10" text-anchor="middle" fill="#1a1a1a">2</text>
<line x1="586" y1="422" x2="586" y2="425" stroke="#333" stroke-width="0.7"/>
<text x="586" y="438.8" font-size="10" text-anchor="middle" fill="#1a1a1a">6</text>
<line x1="603.4" y1="422" x2="603.4" y2="425" stroke="#333" stroke-width="0.7"/>
<text x="603.4" y="438.8" font-size="10" text-anchor="middle" fill="#1a1a1a">7</text>
<line x1="620.8" y1="422" x2="620.8" y2="425" stroke="#333" stroke-width="0.7"/>
<text x="620.8" y="438.8" font-size="10" text-anchor="middle" fill="#1a1a1a">1</text>
<line x1="638.2" y1="422" x2="638.2" y2="425" stroke="#333" stroke-width="0.7"/>
<text x="638.2" y="438.8" font-size="10" text-anchor="middle" fill="#1a1a1a">3</text>
<line x1="655.6" y1="422" x2="655.6" y2="425" stroke="#333" stroke-width="0.7"/>
<text x="655.6" y="438.8" font-size="10" text-anchor="middle" fill="#1a1a1a">4</text>
<line x1="673" y1="422" x2="673" y2="425" stroke="#333" stroke-width="0.7"/>
<text x="673" y="438.8" font-size="10" text-anchor="middle" fill="#1a1a1a">5</text>
<text x="-0.6" y="466.1" font-size="15.5" text-anchor="start" fill="#000" font-weight="bold" style="stroke:#000;stroke-width:0.6px">b</text>
<rect x="51.3" y="463.3" width="350.9" height="99.1" fill="#ffffff" stroke="#c2c2c2" stroke-width="0.9"/>
<rect x="51.3" y="562.4" width="220.2" height="99.6" fill="#ffffff" stroke="#c2c2c2" stroke-width="0.9"/>
<rect x="51.3" y="463.3" width="16.6" height="198.7" fill="#bfbfbf"/>
<line x1="51.3" y1="562.4" x2="402.2" y2="562.4" stroke="#b0b0b0" stroke-width="1"/>
<line x1="67.9" y1="463.3" x2="67.9" y2="662" stroke="#b3b3b3" stroke-width="0.6"/>
<text transform="translate(62.96 512.9) rotate(-90) scale(0.87 1)" font-size="11" text-anchor="middle" fill="#1a1a1a">ALE</text>
<text transform="translate(62.96 612.5) rotate(-90) scale(0.94 1)" font-size="11" text-anchor="middle" fill="#1a1a1a">3’Ext</text>
<text transform="translate(130.8 478.85) scale(0.93 1)" font-size="8.2" text-anchor="middle" fill="#1a1a1a" font-style="italic">STMN2</text>
<line x1="103" y1="488.3" x2="103" y2="517" stroke="#333" stroke-width="0.7"/>
<line x1="101.2" y1="517.8" x2="104.8" y2="516.2" stroke="#333" stroke-width="0.6"/>
<line x1="101.2" y1="521.6" x2="104.8" y2="520" stroke="#333" stroke-width="0.6"/>
<line x1="103" y1="520.8" x2="103" y2="548.9" stroke="#333" stroke-width="0.7"/>
<line x1="100.8" y1="488.3" x2="103" y2="488.3" stroke="#333" stroke-width="0.6"/>
<text x="99.2" y="491.14" font-size="7.9" text-anchor="end" fill="#222">500</text>
<line x1="100.8" y1="504.3" x2="103" y2="504.3" stroke="#333" stroke-width="0.6"/>
<text x="99.2" y="507.14" font-size="7.9" text-anchor="end" fill="#222">250</text>
<line x1="100.8" y1="548.9" x2="103" y2="548.9" stroke="#333" stroke-width="0.6"/>
<text x="99.2" y="551.74" font-size="7.9" text-anchor="end" fill="#222">0</text>
<line x1="100.8" y1="541.98" x2="103" y2="541.98" stroke="#333" stroke-width="0.6"/>
<text x="99.2" y="544.82" font-size="7.9" text-anchor="end" fill="#222">1</text>
<line x1="100.8" y1="535.06" x2="103" y2="535.06" stroke="#333" stroke-width="0.6"/>
<text x="99.2" y="537.9" font-size="7.9" text-anchor="end" fill="#222">2</text>
<line x1="100.8" y1="528.14" x2="103" y2="528.14" stroke="#333" stroke-width="0.6"/>
<text x="99.2" y="530.98" font-size="7.9" text-anchor="end" fill="#222">3</text>
<line x1="100.8" y1="521.22" x2="103" y2="521.22" stroke="#333" stroke-width="0.6"/>
<text x="99.2" y="524.06" font-size="7.9" text-anchor="end" fill="#222">4</text>
<line x1="103" y1="548.9" x2="158" y2="548.9" stroke="#333" stroke-width="0.7"/>
<line x1="121.5" y1="548.9" x2="121.5" y2="551" stroke="#333" stroke-width="0.6"/>
<line x1="144.8" y1="548.9" x2="144.8" y2="551" stroke="#333" stroke-width="0.6"/>
<text transform="translate(79.89 519.5) rotate(-90) scale(1 1)" font-size="8.3" text-anchor="middle" fill="#1a1a1a">Fold change</text>
<text x="115.4" y="560.19" font-size="8.3" text-anchor="middle" fill="#1a1a1a">Canonical</text>
<text x="145.5" y="560.19" font-size="8.3" text-anchor="middle" fill="#1a1a1a">ALE</text>
<line x1="112.05" y1="532.29" x2="112.05" y2="532.29" stroke="#333" stroke-width="0.6"/>
<line x1="112.05" y1="540.6" x2="112.05" y2="541.98" stroke="#333" stroke-width="0.6"/>
<line x1="109.85" y1="532.29" x2="114.25" y2="532.29" stroke="#333" stroke-width="0.6"/>
<line x1="109.85" y1="541.98" x2="114.25" y2="541.98" stroke="#333" stroke-width="0.6"/>
<rect x="107.9" y="532.29" width="8.3" height="8.3" fill="#d3d3d3" stroke="#333" stroke-width="0.6"/>
<line x1="107.9" y1="535.75" x2="116.2" y2="535.75" stroke="#333" stroke-width="0.7"/>
<circle cx="110.55" cy="536.44" r="0.9" fill="#111"/>
<circle cx="113.55" cy="535.75" r="0.9" fill="#111"/>
<line x1="122.15" y1="532.98" x2="122.15" y2="533.68" stroke="#333" stroke-width="0.6"/>
<line x1="122.15" y1="547.52" x2="122.15" y2="548.21" stroke="#333" stroke-width="0.6"/>
<line x1="119.95" y1="532.98" x2="124.35" y2="532.98" stroke="#333" stroke-width="0.6"/>
<line x1="119.95" y1="548.21" x2="124.35" y2="548.21" stroke="#333" stroke-width="0.6"/>
<rect x="118.1" y="533.68" width="8.1" height="13.84" fill="#f9bb78" stroke="#333" stroke-width="0.6"/>
<line x1="118.1" y1="541.29" x2="126.2" y2="541.29" stroke="#333" stroke-width="0.7"/>
<circle cx="122.15" cy="537.14" r="0.9" fill="#111"/>
<circle cx="122.15" cy="544.75" r="0.9" fill="#111"/>
<line x1="140.3" y1="526.76" x2="140.3" y2="527.45" stroke="#333" stroke-width="0.6"/>
<line x1="140.3" y1="541.98" x2="140.3" y2="541.98" stroke="#333" stroke-width="0.6"/>
<line x1="138.1" y1="526.76" x2="142.5" y2="526.76" stroke="#333" stroke-width="0.6"/>
<line x1="138.1" y1="541.98" x2="142.5" y2="541.98" stroke="#333" stroke-width="0.6"/>
<rect x="136" y="527.45" width="8.6" height="14.53" fill="#d3d3d3" stroke="#333" stroke-width="0.6"/>
<line x1="136" y1="534.37" x2="144.6" y2="534.37" stroke="#333" stroke-width="0.7"/>
<circle cx="140.3" cy="529.52" r="0.9" fill="#111"/>
<circle cx="140.3" cy="539.21" r="0.9" fill="#111"/>
<line x1="150.4" y1="494.06" x2="150.4" y2="496.62" stroke="#333" stroke-width="0.6"/>
<line x1="150.4" y1="513.9" x2="150.4" y2="515.82" stroke="#333" stroke-width="0.6"/>
<line x1="148.2" y1="494.06" x2="152.6" y2="494.06" stroke="#333" stroke-width="0.6"/>
<line x1="148.2" y1="515.82" x2="152.6" y2="515.82" stroke="#333" stroke-width="0.6"/>
<rect x="146.4" y="496.62" width="8" height="17.28" fill="#f9bb78" stroke="#333" stroke-width="0.6"/>
<line x1="146.4" y1="507.5" x2="154.4" y2="507.5" stroke="#333" stroke-width="0.7"/>
<circle cx="150.4" cy="501.74" r="0.9" fill="#111"/>
<circle cx="150.4" cy="511.34" r="0.9" fill="#111"/>
<text x="116.8" y="489.11" font-size="7.8" text-anchor="middle" fill="#1a1a1a">NS</text>
<line x1="111.8" y1="491" x2="121.8" y2="491" stroke="#222" stroke-width="0.65"/>
<text x="144.5" y="488.66" font-size="7.4" text-anchor="middle" fill="#111">★</text>
<line x1="139.5" y1="491" x2="149.5" y2="491" stroke="#222" stroke-width="0.65"/>
<text transform="translate(228.6 478.85) scale(0.93 1)" font-size="8.2" text-anchor="middle" fill="#1a1a1a" font-style="italic">SYNJ2</text>
<line x1="200.2" y1="488.8" x2="200.2" y2="548.8" stroke="#333" stroke-width="0.7"/>
<line x1="198" y1="548.8" x2="200.2" y2="548.8" stroke="#333" stroke-width="0.6"/>
<text x="195.7" y="551.64" font-size="7.9" text-anchor="end" fill="#222">0</text>
<line x1="198" y1="533.8" x2="200.2" y2="533.8" stroke="#333" stroke-width="0.6"/>
<text x="195.7" y="536.64" font-size="7.9" text-anchor="end" fill="#222">5</text>
<line x1="198" y1="518.8" x2="200.2" y2="518.8" stroke="#333" stroke-width="0.6"/>
<text x="195.7" y="521.64" font-size="7.9" text-anchor="end" fill="#222">10</text>
<line x1="198" y1="503.8" x2="200.2" y2="503.8" stroke="#333" stroke-width="0.6"/>
<text x="195.7" y="506.64" font-size="7.9" text-anchor="end" fill="#222">15</text>
<line x1="198" y1="488.8" x2="200.2" y2="488.8" stroke="#333" stroke-width="0.6"/>
<text x="195.7" y="491.64" font-size="7.9" text-anchor="end" fill="#222">20</text>
<line x1="200.2" y1="548.8" x2="255.4" y2="548.8" stroke="#333" stroke-width="0.7"/>
<text transform="translate(181.29 519) rotate(-90) scale(1 1)" font-size="8.3" text-anchor="middle" fill="#1a1a1a">Fold change</text>
<text x="213.4" y="560.19" font-size="8.3" text-anchor="middle" fill="#1a1a1a">Canonical</text>
<text x="243.9" y="560.19" font-size="8.3" text-anchor="middle" fill="#1a1a1a">ALE</text>
<line x1="218.5" y1="548.8" x2="218.5" y2="551" stroke="#333" stroke-width="0.6"/>
<line x1="243" y1="548.8" x2="243" y2="551" stroke="#333" stroke-width="0.6"/>
<line x1="208.65" y1="546.1" x2="208.65" y2="546.7" stroke="#333" stroke-width="0.6"/>
<line x1="208.65" y1="547.9" x2="208.65" y2="548.2" stroke="#333" stroke-width="0.6"/>
<line x1="206.45" y1="546.1" x2="210.85" y2="546.1" stroke="#333" stroke-width="0.6"/>
<line x1="206.45" y1="548.2" x2="210.85" y2="548.2" stroke="#333" stroke-width="0.6"/>
<rect x="205.3" y="546.7" width="6.7" height="1.2" fill="#d3d3d3" stroke="#333" stroke-width="0.6"/>
<line x1="205.3" y1="547.3" x2="212" y2="547.3" stroke="#333" stroke-width="0.7"/>
<line x1="219" y1="546.7" x2="219" y2="547" stroke="#333" stroke-width="0.6"/>
<line x1="219" y1="547.9" x2="219" y2="548.2" stroke="#333" stroke-width="0.6"/>
<line x1="216.8" y1="546.7" x2="221.2" y2="546.7" stroke="#333" stroke-width="0.6"/>
<line x1="216.8" y1="548.2" x2="221.2" y2="548.2" stroke="#333" stroke-width="0.6"/>
<rect x="215" y="547" width="8" height="0.9" fill="#f9bb78" stroke="#333" stroke-width="0.6"/>
<line x1="215" y1="547.6" x2="223" y2="547.6" stroke="#333" stroke-width="0.7"/>
<line x1="237.45" y1="545.8" x2="237.45" y2="546.1" stroke="#333" stroke-width="0.6"/>
<line x1="237.45" y1="547.6" x2="237.45" y2="547.9" stroke="#333" stroke-width="0.6"/>
<line x1="235.25" y1="545.8" x2="239.65" y2="545.8" stroke="#333" stroke-width="0.6"/>
<line x1="235.25" y1="547.9" x2="239.65" y2="547.9" stroke="#333" stroke-width="0.6"/>
<rect x="233.4" y="546.1" width="8.1" height="1.5" fill="#d3d3d3" stroke="#333" stroke-width="0.6"/>
<line x1="233.4" y1="547" x2="241.5" y2="547" stroke="#333" stroke-width="0.7"/>
<line x1="247.65" y1="504.4" x2="247.65" y2="505.6" stroke="#333" stroke-width="0.6"/>
<line x1="247.65" y1="540.1" x2="247.65" y2="543.4" stroke="#333" stroke-width="0.6"/>
<line x1="245.45" y1="504.4" x2="249.85" y2="504.4" stroke="#333" stroke-width="0.6"/>
<line x1="245.45" y1="543.4" x2="249.85" y2="543.4" stroke="#333" stroke-width="0.6"/>
<rect x="243.4" y="505.6" width="8.5" height="34.5" fill="#f9bb78" stroke="#333" stroke-width="0.6"/>
<line x1="243.4" y1="518.2" x2="251.9" y2="518.2" stroke="#333" stroke-width="0.7"/>
<circle cx="247.65" cy="506.8" r="0.9" fill="#111"/>
<circle cx="247.65" cy="529.3" r="0.9" fill="#111"/>
<text x="214.3" y="490.11" font-size="7.8" text-anchor="middle" fill="#1a1a1a">NS</text>
<line x1="209.3" y1="492" x2="219.3" y2="492" stroke="#222" stroke-width="0.65"/>
<text x="242.3" y="489.66" font-size="7.4" text-anchor="middle" fill="#111">★</text>
<line x1="237.3" y1="492" x2="247.3" y2="492" stroke="#222" stroke-width="0.65"/>
<text transform="translate(343.9 478.95) scale(0.93 1)" font-size="8.2" text-anchor="middle" fill="#1a1a1a" font-style="italic">ARGHAP32</text>
<line x1="300.4" y1="488.4" x2="300.4" y2="549.3" stroke="#333" stroke-width="0.7"/>
<line x1="298.2" y1="549.3" x2="300.4" y2="549.3" stroke="#333" stroke-width="0.6"/>
<text x="295.7" y="552.14" font-size="7.9" text-anchor="end" fill="#222">0</text>
<line x1="298.2" y1="537.12" x2="300.4" y2="537.12" stroke="#333" stroke-width="0.6"/>
<text x="295.7" y="539.96" font-size="7.9" text-anchor="end" fill="#222">10</text>
<line x1="298.2" y1="524.94" x2="300.4" y2="524.94" stroke="#333" stroke-width="0.6"/>
<text x="295.7" y="527.78" font-size="7.9" text-anchor="end" fill="#222">20</text>
<line x1="298.2" y1="512.76" x2="300.4" y2="512.76" stroke="#333" stroke-width="0.6"/>
<text x="295.7" y="515.6" font-size="7.9" text-anchor="end" fill="#222">30</text>
<line x1="298.2" y1="500.58" x2="300.4" y2="500.58" stroke="#333" stroke-width="0.6"/>
<text x="295.7" y="503.42" font-size="7.9" text-anchor="end" fill="#222">40</text>
<line x1="298.2" y1="488.4" x2="300.4" y2="488.4" stroke="#333" stroke-width="0.6"/>
<text x="295.7" y="491.24" font-size="7.9" text-anchor="end" fill="#222">50</text>
<line x1="300.4" y1="549.3" x2="389.1" y2="549.3" stroke="#333" stroke-width="0.7"/>
<text transform="translate(281.19 518.6) rotate(-90) scale(1 1)" font-size="8.3" text-anchor="middle" fill="#1a1a1a">Fold change</text>
<text x="313.8" y="560.19" font-size="8.3" text-anchor="middle" fill="#1a1a1a">Canonical</text>
<text x="346.6" y="560.19" font-size="8.3" text-anchor="middle" fill="#1a1a1a">ALE s</text>
<text x="374" y="560.19" font-size="8.3" text-anchor="middle" fill="#1a1a1a">ALE l</text>
<line x1="314.8" y1="549.3" x2="314.8" y2="551.4" stroke="#333" stroke-width="0.6"/>
<line x1="344.8" y1="549.3" x2="344.8" y2="551.4" stroke="#333" stroke-width="0.6"/>
<line x1="373.5" y1="549.3" x2="373.5" y2="551.4" stroke="#333" stroke-width="0.6"/>
<line x1="309.25" y1="547.47" x2="309.25" y2="547.72" stroke="#333" stroke-width="0.6"/>
<line x1="309.25" y1="548.33" x2="309.25" y2="548.57" stroke="#333" stroke-width="0.6"/>
<line x1="307.05" y1="547.47" x2="311.45" y2="547.47" stroke="#333" stroke-width="0.6"/>
<line x1="307.05" y1="548.57" x2="311.45" y2="548.57" stroke="#333" stroke-width="0.6"/>
<rect x="305.5" y="547.72" width="7.5" height="0.61" fill="#d3d3d3" stroke="#333" stroke-width="0.6"/>
<line x1="305.5" y1="548.08" x2="313" y2="548.08" stroke="#333" stroke-width="0.7"/>
<line x1="320" y1="547.59" x2="320" y2="547.84" stroke="#333" stroke-width="0.6"/>
<line x1="320" y1="548.33" x2="320" y2="548.57" stroke="#333" stroke-width="0.6"/>
<line x1="317.8" y1="547.59" x2="322.2" y2="547.59" stroke="#333" stroke-width="0.6"/>
<line x1="317.8" y1="548.57" x2="322.2" y2="548.57" stroke="#333" stroke-width="0.6"/>
<rect x="316" y="547.84" width="8" height="0.6" fill="#f9bb78" stroke="#333" stroke-width="0.6"/>
<line x1="316" y1="548.08" x2="324" y2="548.08" stroke="#333" stroke-width="0.7"/>
<line x1="339.35" y1="545.77" x2="339.35" y2="546.13" stroke="#333" stroke-width="0.6"/>
<line x1="339.35" y1="547.47" x2="339.35" y2="547.84" stroke="#333" stroke-width="0.6"/>
<line x1="337.15" y1="545.77" x2="341.55" y2="545.77" stroke="#333" stroke-width="0.6"/>
<line x1="337.15" y1="547.84" x2="341.55" y2="547.84" stroke="#333" stroke-width="0.6"/>
<rect x="335.7" y="546.13" width="7.3" height="1.34" fill="#d3d3d3" stroke="#333" stroke-width="0.6"/>
<line x1="335.7" y1="546.86" x2="343" y2="546.86" stroke="#333" stroke-width="0.7"/>
<line x1="350.25" y1="496.68" x2="350.25" y2="497.17" stroke="#333" stroke-width="0.6"/>
<line x1="350.25" y1="535.9" x2="350.25" y2="539.31" stroke="#333" stroke-width="0.6"/>
<line x1="348.05" y1="496.68" x2="352.45" y2="496.68" stroke="#333" stroke-width="0.6"/>
<line x1="348.05" y1="539.31" x2="352.45" y2="539.31" stroke="#333" stroke-width="0.6"/>
<rect x="345.7" y="497.17" width="9.1" height="38.73" fill="#f9bb78" stroke="#333" stroke-width="0.6"/>
<line x1="345.7" y1="510.93" x2="354.8" y2="510.93" stroke="#333" stroke-width="0.7"/>
<circle cx="350.25" cy="498.14" r="0.9" fill="#111"/>
<circle cx="350.25" cy="523.11" r="0.9" fill="#111"/>
<line x1="369.2" y1="546.86" x2="369.2" y2="547.23" stroke="#333" stroke-width="0.6"/>
<line x1="369.2" y1="548.33" x2="369.2" y2="548.69" stroke="#333" stroke-width="0.6"/>
<line x1="367" y1="546.86" x2="371.4" y2="546.86" stroke="#333" stroke-width="0.6"/>
<line x1="367" y1="548.69" x2="371.4" y2="548.69" stroke="#333" stroke-width="0.6"/>
<rect x="365.4" y="547.23" width="7.6" height="1.1" fill="#d3d3d3" stroke="#333" stroke-width="0.6"/>
<line x1="365.4" y1="547.84" x2="373" y2="547.84" stroke="#333" stroke-width="0.7"/>
<line x1="380" y1="502.65" x2="380" y2="507.52" stroke="#333" stroke-width="0.6"/>
<line x1="380" y1="540.77" x2="380" y2="543.45" stroke="#333" stroke-width="0.6"/>
<line x1="377.8" y1="502.65" x2="382.2" y2="502.65" stroke="#333" stroke-width="0.6"/>
<line x1="377.8" y1="543.45" x2="382.2" y2="543.45" stroke="#333" stroke-width="0.6"/>
<rect x="375.4" y="507.52" width="9.2" height="33.25" fill="#f9bb78" stroke="#333" stroke-width="0.6"/>
<line x1="375.4" y1="526.16" x2="384.6" y2="526.16" stroke="#333" stroke-width="0.7"/>
<circle cx="380" cy="521.29" r="0.9" fill="#111"/>
<circle cx="380" cy="531.64" r="0.9" fill="#111"/>
<text x="315" y="489.61" font-size="7.8" text-anchor="middle" fill="#1a1a1a">NS</text>
<line x1="310" y1="491.5" x2="320" y2="491.5" stroke="#222" stroke-width="0.65"/>
<text x="345.1" y="489.16" font-size="7.4" text-anchor="middle" fill="#111">★</text>
<line x1="340.1" y1="491.5" x2="350.1" y2="491.5" stroke="#222" stroke-width="0.65"/>
<text x="373.1" y="489.16" font-size="7.4" text-anchor="middle" fill="#111">★</text>
<line x1="368.1" y1="491.5" x2="378.1" y2="491.5" stroke="#222" stroke-width="0.65"/>
<text transform="translate(131.5 579.05) scale(0.93 1)" font-size="8.2" text-anchor="middle" fill="#1a1a1a" font-style="italic">ELK1</text>
<line x1="103" y1="588" x2="103" y2="648.4" stroke="#333" stroke-width="0.7"/>
<line x1="100.8" y1="648.4" x2="103" y2="648.4" stroke="#333" stroke-width="0.6"/>
<text x="98.3" y="651.24" font-size="7.9" text-anchor="end" fill="#222">0</text>
<line x1="100.8" y1="628.26" x2="103" y2="628.26" stroke="#333" stroke-width="0.6"/>
<text x="98.3" y="631.11" font-size="7.9" text-anchor="end" fill="#222">5</text>
<line x1="100.8" y1="608.13" x2="103" y2="608.13" stroke="#333" stroke-width="0.6"/>
<text x="98.3" y="610.97" font-size="7.9" text-anchor="end" fill="#222">10</text>
<line x1="100.8" y1="588" x2="103" y2="588" stroke="#333" stroke-width="0.6"/>
<text x="98.3" y="590.84" font-size="7.9" text-anchor="end" fill="#222">15</text>
<line x1="103" y1="648.4" x2="158" y2="648.4" stroke="#333" stroke-width="0.7"/>
<text transform="translate(84.59 619) rotate(-90) scale(1 1)" font-size="8.3" text-anchor="middle" fill="#1a1a1a">Fold change</text>
<text x="113" y="659.69" font-size="8.3" text-anchor="middle" fill="#1a1a1a">Canonical</text>
<text x="145.1" y="659.69" font-size="8.3" text-anchor="middle" fill="#1a1a1a">3′Ext</text>
<line x1="117.3" y1="648.4" x2="117.3" y2="650.5" stroke="#333" stroke-width="0.6"/>
<line x1="145.3" y1="648.4" x2="145.3" y2="650.5" stroke="#333" stroke-width="0.6"/>
<line x1="112.2" y1="640.75" x2="112.2" y2="641.15" stroke="#333" stroke-width="0.6"/>
<line x1="112.2" y1="643.97" x2="112.2" y2="644.37" stroke="#333" stroke-width="0.6"/>
<line x1="110" y1="640.75" x2="114.4" y2="640.75" stroke="#333" stroke-width="0.6"/>
<line x1="110" y1="644.37" x2="114.4" y2="644.37" stroke="#333" stroke-width="0.6"/>
<rect x="108.2" y="641.15" width="8" height="2.82" fill="#d3d3d3" stroke="#333" stroke-width="0.6"/>
<line x1="108.2" y1="642.76" x2="116.2" y2="642.76" stroke="#333" stroke-width="0.7"/>
<line x1="122.35" y1="633.5" x2="122.35" y2="634.31" stroke="#333" stroke-width="0.6"/>
<line x1="122.35" y1="641.55" x2="122.35" y2="642.76" stroke="#333" stroke-width="0.6"/>
<line x1="120.15" y1="633.5" x2="124.55" y2="633.5" stroke="#333" stroke-width="0.6"/>
<line x1="120.15" y1="642.76" x2="124.55" y2="642.76" stroke="#333" stroke-width="0.6"/>
<rect x="118.1" y="634.31" width="8.5" height="7.25" fill="#f9bb78" stroke="#333" stroke-width="0.6"/>
<line x1="118.1" y1="637.12" x2="126.6" y2="637.12" stroke="#333" stroke-width="0.7"/>
<circle cx="122.35" cy="635.11" r="0.9" fill="#111"/>
<circle cx="122.35" cy="639.54" r="0.9" fill="#111"/>
<line x1="139.9" y1="644.37" x2="139.9" y2="644.78" stroke="#333" stroke-width="0.6"/>
<line x1="139.9" y1="645.58" x2="139.9" y2="645.98" stroke="#333" stroke-width="0.6"/>
<line x1="137.7" y1="644.37" x2="142.1" y2="644.37" stroke="#333" stroke-width="0.6"/>
<line x1="137.7" y1="645.98" x2="142.1" y2="645.98" stroke="#333" stroke-width="0.6"/>
<rect x="135.5" y="644.78" width="8.8" height="0.81" fill="#d3d3d3" stroke="#333" stroke-width="0.6"/>
<line x1="135.5" y1="645.18" x2="144.3" y2="645.18" stroke="#333" stroke-width="0.7"/>
<line x1="150.55" y1="604.91" x2="150.55" y2="606.12" stroke="#333" stroke-width="0.6"/>
<line x1="150.55" y1="634.71" x2="150.55" y2="639.54" stroke="#333" stroke-width="0.6"/>
<line x1="148.35" y1="604.91" x2="152.75" y2="604.91" stroke="#333" stroke-width="0.6"/>
<line x1="148.35" y1="639.54" x2="152.75" y2="639.54" stroke="#333" stroke-width="0.6"/>
<rect x="146.4" y="606.12" width="8.3" height="28.59" fill="#f9bb78" stroke="#333" stroke-width="0.6"/>
<line x1="146.4" y1="614.57" x2="154.7" y2="614.57" stroke="#333" stroke-width="0.7"/>
<circle cx="150.55" cy="608.53" r="0.9" fill="#111"/>
<circle cx="150.55" cy="620.61" r="0.9" fill="#111"/>
<text x="117.8" y="589.51" font-size="7.8" text-anchor="middle" fill="#1a1a1a">NS</text>
<line x1="112.8" y1="591.4" x2="122.8" y2="591.4" stroke="#222" stroke-width="0.65"/>
<text x="145.1" y="589.06" font-size="7.4" text-anchor="middle" fill="#111">★</text>
<line x1="140.1" y1="591.4" x2="150.1" y2="591.4" stroke="#222" stroke-width="0.65"/>
<text transform="translate(229.2 579.05) scale(0.93 1)" font-size="8.2" text-anchor="middle" fill="#1a1a1a" font-style="italic">TLX1</text>
<line x1="201.6" y1="588" x2="201.6" y2="648.4" stroke="#333" stroke-width="0.7"/>
<line x1="199.4" y1="648.4" x2="201.6" y2="648.4" stroke="#333" stroke-width="0.6"/>
<text x="196.9" y="651.24" font-size="7.9" text-anchor="end" fill="#222">0</text>
<line x1="199.4" y1="628.27" x2="201.6" y2="628.27" stroke="#333" stroke-width="0.6"/>
<text x="196.9" y="631.11" font-size="7.9" text-anchor="end" fill="#222">10</text>
<line x1="199.4" y1="608.14" x2="201.6" y2="608.14" stroke="#333" stroke-width="0.6"/>
<text x="196.9" y="610.98" font-size="7.9" text-anchor="end" fill="#222">20</text>
<line x1="199.4" y1="588.01" x2="201.6" y2="588.01" stroke="#333" stroke-width="0.6"/>
<text x="196.9" y="590.85" font-size="7.9" text-anchor="end" fill="#222">30</text>
<line x1="201.6" y1="648.4" x2="256.5" y2="648.4" stroke="#333" stroke-width="0.7"/>
<text transform="translate(182.09 619) rotate(-90) scale(1 1)" font-size="8.3" text-anchor="middle" fill="#1a1a1a">Fold change</text>
<text x="213.2" y="659.69" font-size="8.3" text-anchor="middle" fill="#1a1a1a">Canonical</text>
<text x="244.5" y="659.69" font-size="8.3" text-anchor="middle" fill="#1a1a1a">3′Ext</text>
<line x1="214.3" y1="648.4" x2="214.3" y2="650.5" stroke="#333" stroke-width="0.6"/>
<line x1="243.2" y1="648.4" x2="243.2" y2="650.5" stroke="#333" stroke-width="0.6"/>
<line x1="209.15" y1="647.39" x2="209.15" y2="647.59" stroke="#333" stroke-width="0.6"/>
<line x1="209.15" y1="648" x2="209.15" y2="648.2" stroke="#333" stroke-width="0.6"/>
<line x1="206.95" y1="647.39" x2="211.35" y2="647.39" stroke="#333" stroke-width="0.6"/>
<line x1="206.95" y1="648.2" x2="211.35" y2="648.2" stroke="#333" stroke-width="0.6"/>
<rect x="205.1" y="647.59" width="8.1" height="0.6" fill="#d3d3d3" stroke="#333" stroke-width="0.6"/>
<line x1="205.1" y1="647.8" x2="213.2" y2="647.8" stroke="#333" stroke-width="0.7"/>
<line x1="219.45" y1="639.14" x2="219.45" y2="640.35" stroke="#333" stroke-width="0.6"/>
<line x1="219.45" y1="646.39" x2="219.45" y2="646.79" stroke="#333" stroke-width="0.6"/>
<line x1="217.25" y1="639.14" x2="221.65" y2="639.14" stroke="#333" stroke-width="0.6"/>
<line x1="217.25" y1="646.79" x2="221.65" y2="646.79" stroke="#333" stroke-width="0.6"/>
<rect x="215.3" y="640.35" width="8.3" height="6.04" fill="#f9bb78" stroke="#333" stroke-width="0.6"/>
<line x1="215.3" y1="644.37" x2="223.6" y2="644.37" stroke="#333" stroke-width="0.7"/>
<circle cx="219.45" cy="644.78" r="0.9" fill="#111"/>
<line x1="237.95" y1="638.74" x2="237.95" y2="639.74" stroke="#333" stroke-width="0.6"/>
<line x1="237.95" y1="646.39" x2="237.95" y2="646.59" stroke="#333" stroke-width="0.6"/>
<line x1="235.75" y1="638.74" x2="240.15" y2="638.74" stroke="#333" stroke-width="0.6"/>
<line x1="235.75" y1="646.59" x2="240.15" y2="646.59" stroke="#333" stroke-width="0.6"/>
<rect x="233.3" y="639.74" width="9.3" height="6.64" fill="#d3d3d3" stroke="#333" stroke-width="0.6"/>
<line x1="233.3" y1="643.77" x2="242.6" y2="643.77" stroke="#333" stroke-width="0.7"/>
<circle cx="237.95" cy="642.36" r="0.9" fill="#111"/>
<line x1="248.1" y1="594.05" x2="248.1" y2="598.07" stroke="#333" stroke-width="0.6"/>
<line x1="248.1" y1="636.32" x2="248.1" y2="641.35" stroke="#333" stroke-width="0.6"/>
<line x1="245.9" y1="594.05" x2="250.3" y2="594.05" stroke="#333" stroke-width="0.6"/>
<line x1="245.9" y1="641.35" x2="250.3" y2="641.35" stroke="#333" stroke-width="0.6"/>
<rect x="244" y="598.07" width="8.2" height="38.25" fill="#f9bb78" stroke="#333" stroke-width="0.6"/>
<line x1="244" y1="615.19" x2="252.2" y2="615.19" stroke="#333" stroke-width="0.7"/>
<circle cx="248.1" cy="608.14" r="0.9" fill="#111"/>
<circle cx="248.1" cy="622.23" r="0.9" fill="#111"/>
<text x="215.3" y="589.51" font-size="7.8" text-anchor="middle" fill="#1a1a1a">NS</text>
<line x1="210.3" y1="591.4" x2="220.3" y2="591.4" stroke="#222" stroke-width="0.65"/>
<text x="242.9" y="589.06" font-size="7.4" text-anchor="middle" fill="#111">★</text>
<line x1="237.9" y1="591.4" x2="247.9" y2="591.4" stroke="#222" stroke-width="0.65"/>
<rect x="278.2" y="631.8" width="8.6" height="8.6" fill="#d3d3d3" stroke="#555" stroke-width="0.6"/>
<rect x="278.2" y="644.1" width="8.6" height="8.6" fill="#f9bb78" stroke="#555" stroke-width="0.6"/>
<text transform="translate(291.6 639.3) scale(0.98 1)" font-size="8.6" text-anchor="start" fill="#1a1a1a">Control</text>
<text transform="translate(291.6 651.42) scale(0.88 1)" font-size="8.4" text-anchor="start" fill="#1a1a1a">FTD-TDP</text>
<text x="454.3" y="466.3" font-size="15" text-anchor="start" fill="#000" font-weight="bold" style="stroke:#000;stroke-width:0.6px">c</text>
<rect x="514.5" y="462.4" width="170.1" height="443.8" fill="#ffffff"/>
<line x1="522.1" y1="462.4" x2="522.1" y2="906.2" stroke="#ebebeb" stroke-width="0.9"/>
<line x1="540.93" y1="462.4" x2="540.93" y2="906.2" stroke="#ebebeb" stroke-width="0.5"/>
<line x1="559.75" y1="462.4" x2="559.75" y2="906.2" stroke="#ebebeb" stroke-width="0.9"/>
<line x1="578.58" y1="462.4" x2="578.58" y2="906.2" stroke="#ebebeb" stroke-width="0.5"/>
<line x1="597.4" y1="462.4" x2="597.4" y2="906.2" stroke="#ebebeb" stroke-width="0.9"/>
<line x1="616.23" y1="462.4" x2="616.23" y2="906.2" stroke="#ebebeb" stroke-width="0.5"/>
<line x1="635.05" y1="462.4" x2="635.05" y2="906.2" stroke="#ebebeb" stroke-width="0.9"/>
<line x1="653.88" y1="462.4" x2="653.88" y2="906.2" stroke="#ebebeb" stroke-width="0.5"/>
<line x1="672.7" y1="462.4" x2="672.7" y2="906.2" stroke="#ebebeb" stroke-width="0.9"/>
<line x1="514.5" y1="467.35" x2="684.6" y2="467.35" stroke="#ebebeb" stroke-width="0.9"/>
<line x1="514.5" y1="474.84" x2="684.6" y2="474.84" stroke="#ebebeb" stroke-width="0.9"/>
<line x1="514.5" y1="482.33" x2="684.6" y2="482.33" stroke="#ebebeb" stroke-width="0.9"/>
<line x1="514.5" y1="489.82" x2="684.6" y2="489.82" stroke="#ebebeb" stroke-width="0.9"/>
<line x1="514.5" y1="497.31" x2="684.6" y2="497.31" stroke="#ebebeb" stroke-width="0.9"/>
<line x1="514.5" y1="504.8" x2="684.6" y2="504.8" stroke="#ebebeb" stroke-width="0.9"/>
<line x1="514.5" y1="512.29" x2="684.6" y2="512.29" stroke="#ebebeb" stroke-width="0.9"/>
<line x1="514.5" y1="519.78" x2="684.6" y2="519.78" stroke="#ebebeb" stroke-width="0.9"/>
<line x1="514.5" y1="527.27" x2="684.6" y2="527.27" stroke="#ebebeb" stroke-width="0.9"/>
<line x1="514.5" y1="534.76" x2="684.6" y2="534.76" stroke="#ebebeb" stroke-width="0.9"/>
<line x1="514.5" y1="542.25" x2="684.6" y2="542.25" stroke="#ebebeb" stroke-width="0.9"/>
<line x1="514.5" y1="549.74" x2="684.6" y2="549.74" stroke="#ebebeb" stroke-width="0.9"/>
<line x1="514.5" y1="557.23" x2="684.6" y2="557.23" stroke="#ebebeb" stroke-width="0.9"/>
<line x1="514.5" y1="564.72" x2="684.6" y2="564.72" stroke="#ebebeb" stroke-width="0.9"/>
<line x1="514.5" y1="572.21" x2="684.6" y2="572.21" stroke="#ebebeb" stroke-width="0.9"/>
<line x1="514.5" y1="579.7" x2="684.6" y2="579.7" stroke="#ebebeb" stroke-width="0.9"/>
<line x1="514.5" y1="587.19" x2="684.6" y2="587.19" stroke="#ebebeb" stroke-width="0.9"/>
<line x1="514.5" y1="594.68" x2="684.6" y2="594.68" stroke="#ebebeb" stroke-width="0.9"/>
<line x1="514.5" y1="602.17" x2="684.6" y2="602.17" stroke="#ebebeb" stroke-width="0.9"/>
<line x1="514.5" y1="609.66" x2="684.6" y2="609.66" stroke="#ebebeb" stroke-width="0.9"/>
<line x1="514.5" y1="617.15" x2="684.6" y2="617.15" stroke="#ebebeb" stroke-width="0.9"/>
<line x1="514.5" y1="624.64" x2="684.6" y2="624.64" stroke="#ebebeb" stroke-width="0.9"/>
<line x1="514.5" y1="632.13" x2="684.6" y2="632.13" stroke="#ebebeb" stroke-width="0.9"/>
<line x1="514.5" y1="639.62" x2="684.6" y2="639.62" stroke="#ebebeb" stroke-width="0.9"/>
<line x1="514.5" y1="647.11" x2="684.6" y2="647.11" stroke="#ebebeb" stroke-width="0.9"/>
<line x1="514.5" y1="654.6" x2="684.6" y2="654.6" stroke="#ebebeb" stroke-width="0.9"/>
<line x1="514.5" y1="662.09" x2="684.6" y2="662.09" stroke="#ebebeb" stroke-width="0.9"/>
<line x1="514.5" y1="669.58" x2="684.6" y2="669.58" stroke="#ebebeb" stroke-width="0.9"/>
<line x1="514.5" y1="677.07" x2="684.6" y2="677.07" stroke="#ebebeb" stroke-width="0.9"/>
<line x1="514.5" y1="684.56" x2="684.6" y2="684.56" stroke="#ebebeb" stroke-width="0.9"/>
<line x1="514.5" y1="692.05" x2="684.6" y2="692.05" stroke="#ebebeb" stroke-width="0.9"/>
<line x1="514.5" y1="699.54" x2="684.6" y2="699.54" stroke="#ebebeb" stroke-width="0.9"/>
<line x1="514.5" y1="707.03" x2="684.6" y2="707.03" stroke="#ebebeb" stroke-width="0.9"/>
<line x1="514.5" y1="714.52" x2="684.6" y2="714.52" stroke="#ebebeb" stroke-width="0.9"/>
<line x1="514.5" y1="722.01" x2="684.6" y2="722.01" stroke="#ebebeb" stroke-width="0.9"/>
<line x1="514.5" y1="729.5" x2="684.6" y2="729.5" stroke="#ebebeb" stroke-width="0.9"/>
<line x1="514.5" y1="736.99" x2="684.6" y2="736.99" stroke="#ebebeb" stroke-width="0.9"/>
<line x1="514.5" y1="744.48" x2="684.6" y2="744.48" stroke="#ebebeb" stroke-width="0.9"/>
<line x1="514.5" y1="751.97" x2="684.6" y2="751.97" stroke="#ebebeb" stroke-width="0.9"/>
<line x1="514.5" y1="759.46" x2="684.6" y2="759.46" stroke="#ebebeb" stroke-width="0.9"/>
<line x1="514.5" y1="766.95" x2="684.6" y2="766.95" stroke="#ebebeb" stroke-width="0.9"/>
<line x1="514.5" y1="774.44" x2="684.6" y2="774.44" stroke="#ebebeb" stroke-width="0.9"/>
<line x1="514.5" y1="781.93" x2="684.6" y2="781.93" stroke="#ebebeb" stroke-width="0.9"/>
<line x1="514.5" y1="789.42" x2="684.6" y2="789.42" stroke="#ebebeb" stroke-width="0.9"/>
<line x1="514.5" y1="796.91" x2="684.6" y2="796.91" stroke="#ebebeb" stroke-width="0.9"/>
<line x1="514.5" y1="804.4" x2="684.6" y2="804.4" stroke="#ebebeb" stroke-width="0.9"/>
<line x1="514.5" y1="811.89" x2="684.6" y2="811.89" stroke="#ebebeb" stroke-width="0.9"/>
<line x1="514.5" y1="819.38" x2="684.6" y2="819.38" stroke="#ebebeb" stroke-width="0.9"/>
<line x1="514.5" y1="826.87" x2="684.6" y2="826.87" stroke="#ebebeb" stroke-width="0.9"/>
<line x1="514.5" y1="834.36" x2="684.6" y2="834.36" stroke="#ebebeb" stroke-width="0.9"/>
<line x1="514.5" y1="841.85" x2="684.6" y2="841.85" stroke="#ebebeb" stroke-width="0.9"/>
<line x1="514.5" y1="849.34" x2="684.6" y2="849.34" stroke="#ebebeb" stroke-width="0.9"/>
<line x1="514.5" y1="856.83" x2="684.6" y2="856.83" stroke="#ebebeb" stroke-width="0.9"/>
<line x1="514.5" y1="864.32" x2="684.6" y2="864.32" stroke="#ebebeb" stroke-width="0.9"/>
<line x1="514.5" y1="871.81" x2="684.6" y2="871.81" stroke="#ebebeb" stroke-width="0.9"/>
<line x1="514.5" y1="879.3" x2="684.6" y2="879.3" stroke="#ebebeb" stroke-width="0.9"/>
<line x1="514.5" y1="886.79" x2="684.6" y2="886.79" stroke="#ebebeb" stroke-width="0.9"/>
<line x1="514.5" y1="894.28" x2="684.6" y2="894.28" stroke="#ebebeb" stroke-width="0.9"/>
<line x1="514.5" y1="901.77" x2="684.6" y2="901.77" stroke="#ebebeb" stroke-width="0.9"/>
<rect x="522.1" y="464.2" width="155.2" height="6.5" fill="#d95f02" stroke="#262626" stroke-width="0.6"/>
<rect x="522.1" y="471.69" width="61.5" height="6.5" fill="#7570b3" stroke="#262626" stroke-width="0.6"/>
<rect x="522.1" y="479.18" width="58.4" height="6.5" fill="#d95f02" stroke="#262626" stroke-width="0.6"/>
<rect x="522.1" y="486.67" width="47" height="6.5" fill="#7570b3" stroke="#262626" stroke-width="0.6"/>
<rect x="522.1" y="494.16" width="44.5" height="6.5" fill="#7570b3" stroke="#262626" stroke-width="0.6"/>
<rect x="522.1" y="501.65" width="32.6" height="6.5" fill="#7570b3" stroke="#262626" stroke-width="0.6"/>
<rect x="522.1" y="509.14" width="32.6" height="6.5" fill="#7570b3" stroke="#262626" stroke-width="0.6"/>
<rect x="522.1" y="516.63" width="31.2" height="6.5" fill="#d95f02" stroke="#262626" stroke-width="0.6"/>
<rect x="522.1" y="524.12" width="24.7" height="6.5" fill="#7570b3" stroke="#262626" stroke-width="0.6"/>
<rect x="522.1" y="531.61" width="19.1" height="6.5" fill="#7570b3" stroke="#262626" stroke-width="0.6"/>
<rect x="522.1" y="539.1" width="19.1" height="6.5" fill="#7570b3" stroke="#262626" stroke-width="0.6"/>
<rect x="522.1" y="546.59" width="18.3" height="6.5" fill="#7570b3" stroke="#262626" stroke-width="0.6"/>
<rect x="522.1" y="554.08" width="18.2" height="6.5" fill="#7570b3" stroke="#262626" stroke-width="0.6"/>
<rect x="522.1" y="561.57" width="17.2" height="6.5" fill="#7570b3" stroke="#262626" stroke-width="0.6"/>
<rect x="522.1" y="569.06" width="15.4" height="6.5" fill="#7570b3" stroke="#262626" stroke-width="0.6"/>
<rect x="522.1" y="576.55" width="13.4" height="6.5" fill="#7570b3" stroke="#262626" stroke-width="0.6"/>
<rect x="522.1" y="584.04" width="13.5" height="6.5" fill="#7570b3" stroke="#262626" stroke-width="0.6"/>
<rect x="522.1" y="591.53" width="12.8" height="6.5" fill="#7570b3" stroke="#262626" stroke-width="0.6"/>
<rect x="522.1" y="599.02" width="12.8" height="6.5" fill="#7570b3" stroke="#262626" stroke-width="0.6"/>
<rect x="522.1" y="606.51" width="12.4" height="6.5" fill="#7570b3" stroke="#262626" stroke-width="0.6"/>
<rect x="522.1" y="614" width="12.2" height="6.5" fill="#7570b3" stroke="#262626" stroke-width="0.6"/>
<rect x="522.1" y="621.49" width="11.4" height="6.5" fill="#7570b3" stroke="#262626" stroke-width="0.6"/>
<rect x="522.1" y="628.98" width="10.7" height="6.5" fill="#7570b3" stroke="#262626" stroke-width="0.6"/>
<rect x="522.1" y="636.47" width="10.7" height="6.5" fill="#7570b3" stroke="#262626" stroke-width="0.6"/>
<rect x="522.1" y="643.96" width="10.7" height="6.5" fill="#7570b3" stroke="#262626" stroke-width="0.6"/>
<rect x="522.1" y="651.45" width="10.9" height="6.5" fill="#7570b3" stroke="#262626" stroke-width="0.6"/>
<rect x="522.1" y="658.94" width="10.4" height="6.5" fill="#d95f02" stroke="#262626" stroke-width="0.6"/>
<rect x="522.1" y="666.43" width="10.4" height="6.5" fill="#d95f02" stroke="#262626" stroke-width="0.6"/>
<rect x="522.1" y="673.92" width="9.6" height="6.5" fill="#7570b3" stroke="#262626" stroke-width="0.6"/>
<rect x="522.1" y="681.41" width="9.6" height="6.5" fill="#7570b3" stroke="#262626" stroke-width="0.6"/>
<rect x="522.1" y="688.9" width="9.4" height="6.5" fill="#7570b3" stroke="#262626" stroke-width="0.6"/>
<rect x="522.1" y="696.39" width="9.4" height="6.5" fill="#7570b3" stroke="#262626" stroke-width="0.6"/>
<rect x="522.1" y="703.88" width="8.3" height="6.5" fill="#7570b3" stroke="#262626" stroke-width="0.6"/>
<rect x="522.1" y="711.37" width="7.6" height="6.5" fill="#7570b3" stroke="#262626" stroke-width="0.6"/>
<rect x="522.1" y="718.86" width="7.6" height="6.5" fill="#7570b3" stroke="#262626" stroke-width="0.6"/>
<rect x="522.1" y="726.35" width="6.8" height="6.5" fill="#d95f02" stroke="#262626" stroke-width="0.6"/>
<rect x="522.1" y="733.84" width="6.8" height="6.5" fill="#7570b3" stroke="#262626" stroke-width="0.6"/>
<rect x="522.1" y="741.33" width="6.8" height="6.5" fill="#7570b3" stroke="#262626" stroke-width="0.6"/>
<rect x="522.1" y="748.82" width="6.6" height="6.5" fill="#7570b3" stroke="#262626" stroke-width="0.6"/>
<rect x="522.1" y="756.31" width="6.5" height="6.5" fill="#7570b3" stroke="#262626" stroke-width="0.6"/>
<rect x="522.1" y="763.8" width="6.5" height="6.5" fill="#7570b3" stroke="#262626" stroke-width="0.6"/>
<rect x="522.1" y="771.29" width="6.4" height="6.5" fill="#7570b3" stroke="#262626" stroke-width="0.6"/>
<rect x="522.1" y="778.78" width="6.3" height="6.5" fill="#7570b3" stroke="#262626" stroke-width="0.6"/>
<rect x="522.1" y="786.27" width="6.2" height="6.5" fill="#7570b3" stroke="#262626" stroke-width="0.6"/>
<rect x="522.1" y="793.76" width="6.2" height="6.5" fill="#7570b3" stroke="#262626" stroke-width="0.6"/>
<rect x="522.1" y="801.25" width="6.1" height="6.5" fill="#7570b3" stroke="#262626" stroke-width="0.6"/>
<rect x="522.1" y="808.74" width="5.7" height="6.5" fill="#d95f02" stroke="#262626" stroke-width="0.6"/>
<rect x="522.1" y="816.23" width="5.6" height="6.5" fill="#7570b3" stroke="#262626" stroke-width="0.6"/>
<rect x="522.1" y="823.72" width="5.6" height="6.5" fill="#7570b3" stroke="#262626" stroke-width="0.6"/>
<rect x="522.1" y="831.21" width="5.6" height="6.5" fill="#7570b3" stroke="#262626" stroke-width="0.6"/>
<rect x="522.1" y="838.7" width="5.7" height="6.5" fill="#7570b3" stroke="#262626" stroke-width="0.6"/>
<rect x="522.1" y="846.19" width="5.7" height="6.5" fill="#7570b3" stroke="#262626" stroke-width="0.6"/>
<rect x="522.1" y="853.68" width="4.5" height="6.5" fill="#7570b3" stroke="#262626" stroke-width="0.6"/>
<rect x="522.1" y="861.17" width="4.5" height="6.5" fill="#7570b3" stroke="#262626" stroke-width="0.6"/>
<rect x="522.1" y="868.66" width="3.9" height="6.5" fill="#7570b3" stroke="#262626" stroke-width="0.6"/>
<rect x="522.1" y="876.15" width="3.9" height="6.5" fill="#7570b3" stroke="#262626" stroke-width="0.6"/>
<rect x="522.1" y="883.64" width="3.9" height="6.5" fill="#7570b3" stroke="#262626" stroke-width="0.6"/>
<rect x="522.1" y="891.13" width="3.9" height="6.5" fill="#7570b3" stroke="#262626" stroke-width="0.6"/>
<rect x="522.1" y="898.62" width="3.9" height="6.5" fill="#7570b3" stroke="#262626" stroke-width="0.6"/>
<rect x="514.5" y="462.4" width="170.1" height="443.8" fill="none" stroke="#b3b3b3" stroke-width="0.8"/>
<line x1="514.5" y1="906.2" x2="684.6" y2="906.2" stroke="#333" stroke-width="0.9"/>
<line x1="511.9" y1="467.35" x2="514.5" y2="467.35" stroke="#333" stroke-width="0.6"/>
<text transform="translate(508.0 470.45) scale(0.91 1)" font-size="8.6" text-anchor="end" fill="#1a1a1a" style="stroke-width:0.18px">STMN2_1</text>
<line x1="511.9" y1="474.84" x2="514.5" y2="474.84" stroke="#333" stroke-width="0.6"/>
<text transform="translate(508.0 477.94) scale(0.91 1)" font-size="8.6" text-anchor="end" fill="#1a1a1a" style="stroke-width:0.18px">KCNQ2_1</text>
<line x1="511.9" y1="482.33" x2="514.5" y2="482.33" stroke="#333" stroke-width="0.6"/>
<text transform="translate(508.0 485.43) scale(0.91 1)" font-size="8.6" text-anchor="end" fill="#1a1a1a" style="stroke-width:0.18px">SYNJ2_1</text>
<line x1="511.9" y1="489.82" x2="514.5" y2="489.82" stroke="#333" stroke-width="0.6"/>
<text transform="translate(508.0 492.92) scale(0.91 1)" font-size="8.6" text-anchor="end" fill="#1a1a1a" style="stroke-width:0.18px">AARS1_2</text>
<line x1="511.9" y1="497.31" x2="514.5" y2="497.31" stroke="#333" stroke-width="0.6"/>
<text transform="translate(508.0 500.41) scale(0.91 1)" font-size="8.6" text-anchor="end" fill="#1a1a1a" style="stroke-width:0.18px">AARS1_1</text>
<line x1="511.9" y1="504.8" x2="514.5" y2="504.8" stroke="#333" stroke-width="0.6"/>
<text transform="translate(508.0 507.9) scale(0.91 1)" font-size="8.6" text-anchor="end" fill="#1a1a1a" style="stroke-width:0.18px">STXBP5L_2</text>
<line x1="511.9" y1="512.29" x2="514.5" y2="512.29" stroke="#333" stroke-width="0.6"/>
<text transform="translate(508.0 515.39) scale(0.91 1)" font-size="8.6" text-anchor="end" fill="#1a1a1a" style="stroke-width:0.18px">KNDC1_3</text>
<line x1="511.9" y1="519.78" x2="514.5" y2="519.78" stroke="#333" stroke-width="0.6"/>
<text transform="translate(508.0 522.88) scale(0.91 1)" font-size="8.6" text-anchor="end" fill="#1a1a1a" style="stroke-width:0.18px">PHF2_1</text>
<line x1="511.9" y1="527.27" x2="514.5" y2="527.27" stroke="#333" stroke-width="0.6"/>
<text transform="translate(508.0 530.37) scale(0.91 1)" font-size="8.6" text-anchor="end" fill="#1a1a1a" style="stroke-width:0.18px">GPSM2_1</text>
<line x1="511.9" y1="534.76" x2="514.5" y2="534.76" stroke="#333" stroke-width="0.6"/>
<text transform="translate(508.0 537.86) scale(0.91 1)" font-size="8.6" text-anchor="end" fill="#1a1a1a" style="stroke-width:0.18px">CELF5_2</text>
<line x1="511.9" y1="542.25" x2="514.5" y2="542.25" stroke="#333" stroke-width="0.6"/>
<text transform="translate(508.0 545.35) scale(0.91 1)" font-size="8.6" text-anchor="end" fill="#1a1a1a" style="stroke-width:0.18px">CAMK2B_4</text>
<line x1="511.9" y1="549.74" x2="514.5" y2="549.74" stroke="#333" stroke-width="0.6"/>
<text transform="translate(508.0 552.84) scale(0.91 1)" font-size="8.6" text-anchor="end" fill="#1a1a1a" style="stroke-width:0.18px">WASL_2</text>
<line x1="511.9" y1="557.23" x2="514.5" y2="557.23" stroke="#333" stroke-width="0.6"/>
<text transform="translate(508.0 560.33) scale(0.91 1)" font-size="8.6" text-anchor="end" fill="#1a1a1a" style="stroke-width:0.18px">HDGFL2_2</text>
<line x1="511.9" y1="564.72" x2="514.5" y2="564.72" stroke="#333" stroke-width="0.6"/>
<text transform="translate(508.0 567.82) scale(0.91 1)" font-size="8.6" text-anchor="end" fill="#1a1a1a" style="stroke-width:0.18px">CELF5_1</text>
<line x1="511.9" y1="572.21" x2="514.5" y2="572.21" stroke="#333" stroke-width="0.6"/>
<text transform="translate(508.0 575.31) scale(0.91 1)" font-size="8.6" text-anchor="end" fill="#1a1a1a" style="stroke-width:0.18px">UNC13A_2</text>
<line x1="511.9" y1="579.7" x2="514.5" y2="579.7" stroke="#333" stroke-width="0.6"/>
<text transform="translate(508.0 582.8) scale(0.91 1)" font-size="8.6" text-anchor="end" fill="#1a1a1a" style="stroke-width:0.18px">PAOX_1</text>
<line x1="511.9" y1="587.19" x2="514.5" y2="587.19" stroke="#333" stroke-width="0.6"/>
<text transform="translate(508.0 590.29) scale(0.91 1)" font-size="8.6" text-anchor="end" fill="#1a1a1a" style="stroke-width:0.18px">ATG4B_2</text>
<line x1="511.9" y1="594.68" x2="514.5" y2="594.68" stroke="#333" stroke-width="0.6"/>
<text transform="translate(508.0 597.78) scale(0.91 1)" font-size="8.6" text-anchor="end" fill="#1a1a1a" style="stroke-width:0.18px">SETD5_1</text>
<line x1="511.9" y1="602.17" x2="514.5" y2="602.17" stroke="#333" stroke-width="0.6"/>
<text transform="translate(508.0 605.27) scale(0.91 1)" font-size="8.6" text-anchor="end" fill="#1a1a1a" style="stroke-width:0.18px">CAMK2B_3</text>
<line x1="511.9" y1="609.66" x2="514.5" y2="609.66" stroke="#333" stroke-width="0.6"/>
<text transform="translate(508.0 612.76) scale(0.91 1)" font-size="8.6" text-anchor="end" fill="#1a1a1a" style="stroke-width:0.18px">UNC13A_3</text>
<line x1="511.9" y1="617.15" x2="514.5" y2="617.15" stroke="#333" stroke-width="0.6"/>
<text transform="translate(508.0 620.25) scale(0.91 1)" font-size="8.6" text-anchor="end" fill="#1a1a1a" style="stroke-width:0.18px">TMEM175_1</text>
<line x1="511.9" y1="624.64" x2="514.5" y2="624.64" stroke="#333" stroke-width="0.6"/>
<text transform="translate(508.0 627.74) scale(0.91 1)" font-size="8.6" text-anchor="end" fill="#1a1a1a" style="stroke-width:0.18px">IGSF21_1</text>
<line x1="511.9" y1="632.13" x2="514.5" y2="632.13" stroke="#333" stroke-width="0.6"/>
<text transform="translate(508.0 635.23) scale(0.91 1)" font-size="8.6" text-anchor="end" fill="#1a1a1a" style="stroke-width:0.18px">KALRN_3</text>
<line x1="511.9" y1="639.62" x2="514.5" y2="639.62" stroke="#333" stroke-width="0.6"/>
<text transform="translate(508.0 642.72) scale(0.91 1)" font-size="8.6" text-anchor="end" fill="#1a1a1a" style="stroke-width:0.18px">ITGA7_1</text>
<line x1="511.9" y1="647.11" x2="514.5" y2="647.11" stroke="#333" stroke-width="0.6"/>
<text transform="translate(508.0 650.21) scale(0.91 1)" font-size="8.6" text-anchor="end" fill="#1a1a1a" style="stroke-width:0.18px">ELAVL3_1</text>
<line x1="511.9" y1="654.6" x2="514.5" y2="654.6" stroke="#333" stroke-width="0.6"/>
<text transform="translate(508.0 657.7) scale(0.91 1)" font-size="8.6" text-anchor="end" fill="#1a1a1a" style="stroke-width:0.18px">ADCY1_1</text>
<line x1="511.9" y1="662.09" x2="514.5" y2="662.09" stroke="#333" stroke-width="0.6"/>
<text transform="translate(508.0 665.19) scale(0.91 1)" font-size="8.6" text-anchor="end" fill="#1a1a1a" style="stroke-width:0.18px">SERGEF_3</text>
<line x1="511.9" y1="669.58" x2="514.5" y2="669.58" stroke="#333" stroke-width="0.6"/>
<text transform="translate(508.0 672.68) scale(0.91 1)" font-size="8.6" text-anchor="end" fill="#1a1a1a" style="stroke-width:0.18px">PATJ_1</text>
<line x1="511.9" y1="677.07" x2="514.5" y2="677.07" stroke="#333" stroke-width="0.6"/>
<text transform="translate(508.0 680.17) scale(0.91 1)" font-size="8.6" text-anchor="end" fill="#1a1a1a" style="stroke-width:0.18px">ELAVL3_2</text>
<line x1="511.9" y1="684.56" x2="514.5" y2="684.56" stroke="#333" stroke-width="0.6"/>
<text transform="translate(508.0 687.66) scale(0.91 1)" font-size="8.6" text-anchor="end" fill="#1a1a1a" style="stroke-width:0.18px">ADGRL1_1</text>
<line x1="511.9" y1="692.05" x2="514.5" y2="692.05" stroke="#333" stroke-width="0.6"/>
<text transform="translate(508.0 695.15) scale(0.91 1)" font-size="8.6" text-anchor="end" fill="#1a1a1a" style="stroke-width:0.18px">EPB41L4A_1</text>
<line x1="511.9" y1="699.54" x2="514.5" y2="699.54" stroke="#333" stroke-width="0.6"/>
<text transform="translate(508.0 702.64) scale(0.91 1)" font-size="8.6" text-anchor="end" fill="#1a1a1a" style="stroke-width:0.18px">CEP290_1</text>
<line x1="511.9" y1="707.03" x2="514.5" y2="707.03" stroke="#333" stroke-width="0.6"/>
<text transform="translate(508.0 710.13) scale(0.91 1)" font-size="8.6" text-anchor="end" fill="#1a1a1a" style="stroke-width:0.18px">TMEM117_2</text>
<line x1="511.9" y1="714.52" x2="514.5" y2="714.52" stroke="#333" stroke-width="0.6"/>
<text transform="translate(508.0 717.62) scale(0.91 1)" font-size="8.6" text-anchor="end" fill="#1a1a1a" style="stroke-width:0.18px">SYT7_2</text>
<line x1="511.9" y1="722.01" x2="514.5" y2="722.01" stroke="#333" stroke-width="0.6"/>
<text transform="translate(508.0 725.11) scale(0.91 1)" font-size="8.6" text-anchor="end" fill="#1a1a1a" style="stroke-width:0.18px">PAOX_2</text>
<line x1="511.9" y1="729.5" x2="514.5" y2="729.5" stroke="#333" stroke-width="0.6"/>
<text transform="translate(508.0 732.6) scale(0.91 1)" font-size="8.6" text-anchor="end" fill="#1a1a1a" style="stroke-width:0.18px">DLGAP1_1</text>
<line x1="511.9" y1="736.99" x2="514.5" y2="736.99" stroke="#333" stroke-width="0.6"/>
<text transform="translate(508.0 740.09) scale(0.91 1)" font-size="8.6" text-anchor="end" fill="#1a1a1a" style="stroke-width:0.18px">ATG4B_1</text>
<line x1="511.9" y1="744.48" x2="514.5" y2="744.48" stroke="#333" stroke-width="0.6"/>
<text transform="translate(508.0 747.58) scale(0.91 1)" font-size="8.6" text-anchor="end" fill="#1a1a1a" style="stroke-width:0.18px">AKT3_2</text>
<line x1="511.9" y1="751.97" x2="514.5" y2="751.97" stroke="#333" stroke-width="0.6"/>
<text transform="translate(508.0 755.07) scale(0.91 1)" font-size="8.6" text-anchor="end" fill="#1a1a1a" style="stroke-width:0.18px">SIPA1L3_1</text>
<line x1="511.9" y1="759.46" x2="514.5" y2="759.46" stroke="#333" stroke-width="0.6"/>
<text transform="translate(508.0 762.56) scale(0.91 1)" font-size="8.6" text-anchor="end" fill="#1a1a1a" style="stroke-width:0.18px">ITGA7_2</text>
<line x1="511.9" y1="766.95" x2="514.5" y2="766.95" stroke="#333" stroke-width="0.6"/>
<text transform="translate(508.0 770.05) scale(0.91 1)" font-size="8.6" text-anchor="end" fill="#1a1a1a" style="stroke-width:0.18px">HDGFL2_1</text>
<line x1="511.9" y1="774.44" x2="514.5" y2="774.44" stroke="#333" stroke-width="0.6"/>
<text transform="translate(508.0 777.54) scale(0.91 1)" font-size="8.6" text-anchor="end" fill="#1a1a1a" style="stroke-width:0.18px">ADCY1_2</text>
<line x1="511.9" y1="781.93" x2="514.5" y2="781.93" stroke="#333" stroke-width="0.6"/>
<text transform="translate(508.0 785.03) scale(0.91 1)" font-size="8.6" text-anchor="end" fill="#1a1a1a" style="stroke-width:0.18px">ZDHHC1_1</text>
<line x1="511.9" y1="789.42" x2="514.5" y2="789.42" stroke="#333" stroke-width="0.6"/>
<text transform="translate(508.0 792.52) scale(0.91 1)" font-size="8.6" text-anchor="end" fill="#1a1a1a" style="stroke-width:0.18px">TRRAP_1</text>
<line x1="511.9" y1="796.91" x2="514.5" y2="796.91" stroke="#333" stroke-width="0.6"/>
<text transform="translate(508.0 800.01) scale(0.91 1)" font-size="8.6" text-anchor="end" fill="#1a1a1a" style="stroke-width:0.18px">TMEM117_1</text>
<line x1="511.9" y1="804.4" x2="514.5" y2="804.4" stroke="#333" stroke-width="0.6"/>
<text transform="translate(508.0 807.5) scale(0.91 1)" font-size="8.6" text-anchor="end" fill="#1a1a1a" style="stroke-width:0.18px">EPB41L4A_2</text>
<line x1="511.9" y1="811.89" x2="514.5" y2="811.89" stroke="#333" stroke-width="0.6"/>
<text transform="translate(508.0 814.99) scale(0.91 1)" font-size="8.6" text-anchor="end" fill="#1a1a1a" style="stroke-width:0.18px">RSF1_2</text>
<line x1="511.9" y1="819.38" x2="514.5" y2="819.38" stroke="#333" stroke-width="0.6"/>
<text transform="translate(508.0 822.48) scale(0.91 1)" font-size="8.6" text-anchor="end" fill="#1a1a1a" style="stroke-width:0.18px">PREX1_1</text>
<line x1="511.9" y1="826.87" x2="514.5" y2="826.87" stroke="#333" stroke-width="0.6"/>
<text transform="translate(508.0 829.97) scale(0.91 1)" font-size="8.6" text-anchor="end" fill="#1a1a1a" style="stroke-width:0.18px">LINGO1_1</text>
<line x1="511.9" y1="834.36" x2="514.5" y2="834.36" stroke="#333" stroke-width="0.6"/>
<text transform="translate(508.0 837.46) scale(0.91 1)" font-size="8.6" text-anchor="end" fill="#1a1a1a" style="stroke-width:0.18px">SYT7_1</text>
<line x1="511.9" y1="841.85" x2="514.5" y2="841.85" stroke="#333" stroke-width="0.6"/>
<text transform="translate(508.0 844.95) scale(0.91 1)" font-size="8.6" text-anchor="end" fill="#1a1a1a" style="stroke-width:0.18px">SEPTIN11_2</text>
<line x1="511.9" y1="849.34" x2="514.5" y2="849.34" stroke="#333" stroke-width="0.6"/>
<text transform="translate(508.0 852.44) scale(0.91 1)" font-size="8.6" text-anchor="end" fill="#1a1a1a" style="stroke-width:0.18px">PRKG2_1</text>
<line x1="511.9" y1="856.83" x2="514.5" y2="856.83" stroke="#333" stroke-width="0.6"/>
<text transform="translate(508.0 859.93) scale(0.91 1)" font-size="8.6" text-anchor="end" fill="#1a1a1a" style="stroke-width:0.18px">SEPTIN7P2_1</text>
<line x1="511.9" y1="864.32" x2="514.5" y2="864.32" stroke="#333" stroke-width="0.6"/>
<text transform="translate(508.0 867.42) scale(0.91 1)" font-size="8.6" text-anchor="end" fill="#1a1a1a" style="stroke-width:0.18px">IQCE_3</text>
<line x1="511.9" y1="871.81" x2="514.5" y2="871.81" stroke="#333" stroke-width="0.6"/>
<text transform="translate(508.0 874.91) scale(0.91 1)" font-size="8.6" text-anchor="end" fill="#1a1a1a" style="stroke-width:0.18px">TSPAN18_1</text>
<line x1="511.9" y1="879.3" x2="514.5" y2="879.3" stroke="#333" stroke-width="0.6"/>
<text transform="translate(508.0 882.4) scale(0.91 1)" font-size="8.6" text-anchor="end" fill="#1a1a1a" style="stroke-width:0.18px">PRELID3A_2</text>
<line x1="511.9" y1="886.79" x2="514.5" y2="886.79" stroke="#333" stroke-width="0.6"/>
<text transform="translate(508.0 889.89) scale(0.91 1)" font-size="8.6" text-anchor="end" fill="#1a1a1a" style="stroke-width:0.18px">LINC02506_1</text>
<line x1="511.9" y1="894.28" x2="514.5" y2="894.28" stroke="#333" stroke-width="0.6"/>
<text transform="translate(508.0 897.38) scale(0.91 1)" font-size="8.6" text-anchor="end" fill="#1a1a1a" style="stroke-width:0.18px">IGSF21_2</text>
<line x1="511.9" y1="901.77" x2="514.5" y2="901.77" stroke="#333" stroke-width="0.6"/>
<text transform="translate(508.0 904.87) scale(0.91 1)" font-size="8.6" text-anchor="end" fill="#1a1a1a" style="stroke-width:0.18px">CDK7_1</text>
<line x1="522.1" y1="906.2" x2="522.1" y2="909" stroke="#333" stroke-width="0.7"/>
<text x="522.1" y="920.06" font-size="9.6" text-anchor="middle" fill="#1a1a1a">0</text>
<line x1="559.75" y1="906.2" x2="559.75" y2="909" stroke="#333" stroke-width="0.7"/>
<text x="559.75" y="920.06" font-size="9.6" text-anchor="middle" fill="#1a1a1a">10</text>
<line x1="597.4" y1="906.2" x2="597.4" y2="909" stroke="#333" stroke-width="0.7"/>
<text x="597.4" y="920.06" font-size="9.6" text-anchor="middle" fill="#1a1a1a">20</text>
<line x1="635.05" y1="906.2" x2="635.05" y2="909" stroke="#333" stroke-width="0.7"/>
<text x="635.05" y="920.06" font-size="9.6" text-anchor="middle" fill="#1a1a1a">30</text>
<line x1="672.7" y1="906.2" x2="672.7" y2="909" stroke="#333" stroke-width="0.7"/>
<text x="672.7" y="920.06" font-size="9.6" text-anchor="middle" fill="#1a1a1a">40</text>
<text x="599.8" y="936.22" font-size="10.6" text-anchor="middle" fill="#1a1a1a">TDP-43 pathological tissues</text>
<text x="599.8" y="947.62" font-size="10.6" text-anchor="middle" fill="#1a1a1a">detected (%)</text>
<text x="-0.4" y="689.6" font-size="15.5" text-anchor="start" fill="#000" font-weight="bold" style="stroke:#000;stroke-width:0.6px">d</text>
<text x="227.6" y="690.2" font-size="15.5" text-anchor="start" fill="#000" font-weight="bold" style="stroke:#000;stroke-width:0.6px">e</text>
<text x="124.8" y="692.62" font-size="10.6" text-anchor="middle" fill="#1a1a1a" font-style="italic">PHF2</text>
<text x="339" y="692.62" font-size="10.6" text-anchor="middle" fill="#1a1a1a" font-style="italic">SYNJ2</text>
<text transform="translate(7.29 835.6) rotate(-90) scale(1 1)" font-size="8.3" text-anchor="middle" fill="#1a1a1a">Spliced reads</text>
<rect x="24.4" y="698.2" width="98" height="14.3" fill="#d9d9d9"/>
<line x1="24.05" y1="698.2" x2="122.75" y2="698.2" stroke="#333" stroke-width="0.7"/>
<line x1="24.4" y1="698.2" x2="24.4" y2="712.5" stroke="#333" stroke-width="0.7"/>
<line x1="122.4" y1="698.2" x2="122.4" y2="712.5" stroke="#333" stroke-width="0.7"/>
<text x="73.4" y="707.77" font-size="8.4" text-anchor="middle" fill="#1a1a1a">Cervical spinal cord</text>
<rect x="24.4" y="712.5" width="98" height="50.8" fill="#ffffff"/>
<line x1="24.4" y1="754.57" x2="122.4" y2="754.57" stroke="#f0f0f0" stroke-width="0.5"/>
<line x1="24.4" y1="741.7" x2="122.4" y2="741.7" stroke="#f0f0f0" stroke-width="0.5"/>
<line x1="24.4" y1="728.83" x2="122.4" y2="728.83" stroke="#f0f0f0" stroke-width="0.5"/>
<line x1="24.4" y1="715.96" x2="122.4" y2="715.96" stroke="#f0f0f0" stroke-width="0.5"/>
<line x1="24.4" y1="761" x2="122.4" y2="761" stroke="#e6e6e6" stroke-width="0.8"/>
<line x1="24.4" y1="748.13" x2="122.4" y2="748.13" stroke="#e6e6e6" stroke-width="0.8"/>
<line x1="24.4" y1="735.26" x2="122.4" y2="735.26" stroke="#e6e6e6" stroke-width="0.8"/>
<line x1="24.4" y1="722.39" x2="122.4" y2="722.39" stroke="#e6e6e6" stroke-width="0.8"/>
<line x1="42.9" y1="712.5" x2="42.9" y2="763.3" stroke="#e6e6e6" stroke-width="0.8"/>
<line x1="73.3" y1="712.5" x2="73.3" y2="763.3" stroke="#e6e6e6" stroke-width="0.8"/>
<line x1="104.2" y1="712.5" x2="104.2" y2="763.3" stroke="#e6e6e6" stroke-width="0.8"/>
<circle cx="31.4" cy="761" r="1.5" fill="#22a8a0" stroke="#1a1a1a" stroke-width="0.6"/>
<circle cx="33.06" cy="761" r="1.5" fill="#22a8a0" stroke="#1a1a1a" stroke-width="0.6"/>
<circle cx="34.73" cy="761" r="1.5" fill="#22a8a0" stroke="#1a1a1a" stroke-width="0.6"/>
<circle cx="36.39" cy="761" r="1.5" fill="#22a8a0" stroke="#1a1a1a" stroke-width="0.6"/>
<circle cx="38.06" cy="761" r="1.5" fill="#22a8a0" stroke="#1a1a1a" stroke-width="0.6"/>
<circle cx="39.72" cy="761" r="1.5" fill="#22a8a0" stroke="#1a1a1a" stroke-width="0.6"/>
<circle cx="41.39" cy="761" r="1.5" fill="#22a8a0" stroke="#1a1a1a" stroke-width="0.6"/>
<circle cx="43.05" cy="761" r="1.5" fill="#22a8a0" stroke="#1a1a1a" stroke-width="0.6"/>
<circle cx="44.71" cy="761" r="1.5" fill="#22a8a0" stroke="#1a1a1a" stroke-width="0.6"/>
<circle cx="46.38" cy="761" r="1.5" fill="#22a8a0" stroke="#1a1a1a" stroke-width="0.6"/>
<circle cx="48.04" cy="761" r="1.5" fill="#22a8a0" stroke="#1a1a1a" stroke-width="0.6"/>
<circle cx="49.71" cy="761" r="1.5" fill="#22a8a0" stroke="#1a1a1a" stroke-width="0.6"/>
<circle cx="51.37" cy="761" r="1.5" fill="#22a8a0" stroke="#1a1a1a" stroke-width="0.6"/>
<circle cx="53.04" cy="761" r="1.5" fill="#22a8a0" stroke="#1a1a1a" stroke-width="0.6"/>
<circle cx="54.7" cy="761" r="1.5" fill="#22a8a0" stroke="#1a1a1a" stroke-width="0.6"/>
<circle cx="49.9" cy="739.55" r="1.5" fill="#22a8a0" stroke="#1a1a1a" stroke-width="0.6"/>
<circle cx="63.2" cy="761" r="1.5" fill="#2d8a34" stroke="#1a1a1a" stroke-width="0.6"/>
<circle cx="68.3" cy="761" r="1.5" fill="#2d8a34" stroke="#1a1a1a" stroke-width="0.6"/>
<circle cx="75.9" cy="761" r="1.5" fill="#2d8a34" stroke="#1a1a1a" stroke-width="0.6"/>
<circle cx="80.5" cy="761" r="1.5" fill="#2d8a34" stroke="#1a1a1a" stroke-width="0.6"/>
<circle cx="91.5" cy="761" r="1.5" fill="#e6bf58" stroke="#1a1a1a" stroke-width="0.6"/>
<circle cx="93.16" cy="761" r="1.5" fill="#e6bf58" stroke="#1a1a1a" stroke-width="0.6"/>
<circle cx="94.82" cy="761" r="1.5" fill="#e6bf58" stroke="#1a1a1a" stroke-width="0.6"/>
<circle cx="96.48" cy="761" r="1.5" fill="#e6bf58" stroke="#1a1a1a" stroke-width="0.6"/>
<circle cx="98.14" cy="761" r="1.5" fill="#e6bf58" stroke="#1a1a1a" stroke-width="0.6"/>
<circle cx="99.8" cy="761" r="1.5" fill="#e6bf58" stroke="#1a1a1a" stroke-width="0.6"/>
<circle cx="101.46" cy="761" r="1.5" fill="#e6bf58" stroke="#1a1a1a" stroke-width="0.6"/>
<circle cx="103.12" cy="761" r="1.5" fill="#e6bf58" stroke="#1a1a1a" stroke-width="0.6"/>
<circle cx="104.78" cy="761" r="1.5" fill="#e6bf58" stroke="#1a1a1a" stroke-width="0.6"/>
<circle cx="106.44" cy="761" r="1.5" fill="#e6bf58" stroke="#1a1a1a" stroke-width="0.6"/>
<circle cx="108.1" cy="761" r="1.5" fill="#e6bf58" stroke="#1a1a1a" stroke-width="0.6"/>
<circle cx="109.76" cy="761" r="1.5" fill="#e6bf58" stroke="#1a1a1a" stroke-width="0.6"/>
<circle cx="111.42" cy="761" r="1.5" fill="#e6bf58" stroke="#1a1a1a" stroke-width="0.6"/>
<circle cx="113.08" cy="761" r="1.5" fill="#e6bf58" stroke="#1a1a1a" stroke-width="0.6"/>
<circle cx="114.74" cy="761" r="1.5" fill="#e6bf58" stroke="#1a1a1a" stroke-width="0.6"/>
<circle cx="116.4" cy="761" r="1.5" fill="#e6bf58" stroke="#1a1a1a" stroke-width="0.6"/>
<circle cx="91.9" cy="756.71" r="1.5" fill="#e6bf58" stroke="#1a1a1a" stroke-width="0.6"/>
<circle cx="93.64" cy="756.71" r="1.5" fill="#e6bf58" stroke="#1a1a1a" stroke-width="0.6"/>
<circle cx="95.39" cy="756.71" r="1.5" fill="#e6bf58" stroke="#1a1a1a" stroke-width="0.6"/>
<circle cx="97.13" cy="756.71" r="1.5" fill="#e6bf58" stroke="#1a1a1a" stroke-width="0.6"/>
<circle cx="98.87" cy="756.71" r="1.5" fill="#e6bf58" stroke="#1a1a1a" stroke-width="0.6"/>
<circle cx="100.61" cy="756.71" r="1.5" fill="#e6bf58" stroke="#1a1a1a" stroke-width="0.6"/>
<circle cx="102.36" cy="756.71" r="1.5" fill="#e6bf58" stroke="#1a1a1a" stroke-width="0.6"/>
<circle cx="104.1" cy="756.71" r="1.5" fill="#e6bf58" stroke="#1a1a1a" stroke-width="0.6"/>
<circle cx="105.84" cy="756.71" r="1.5" fill="#e6bf58" stroke="#1a1a1a" stroke-width="0.6"/>
<circle cx="107.59" cy="756.71" r="1.5" fill="#e6bf58" stroke="#1a1a1a" stroke-width="0.6"/>
<circle cx="109.33" cy="756.71" r="1.5" fill="#e6bf58" stroke="#1a1a1a" stroke-width="0.6"/>
<circle cx="111.07" cy="756.71" r="1.5" fill="#e6bf58" stroke="#1a1a1a" stroke-width="0.6"/>
<circle cx="112.81" cy="756.71" r="1.5" fill="#e6bf58" stroke="#1a1a1a" stroke-width="0.6"/>
<circle cx="114.56" cy="756.71" r="1.5" fill="#e6bf58" stroke="#1a1a1a" stroke-width="0.6"/>
<circle cx="116.3" cy="756.71" r="1.5" fill="#e6bf58" stroke="#1a1a1a" stroke-width="0.6"/>
<circle cx="91.2" cy="752.42" r="1.5" fill="#e6bf58" stroke="#1a1a1a" stroke-width="0.6"/>
<circle cx="93.5" cy="752.42" r="1.5" fill="#e6bf58" stroke="#1a1a1a" stroke-width="0.6"/>
<circle cx="95.8" cy="752.42" r="1.5" fill="#e6bf58" stroke="#1a1a1a" stroke-width="0.6"/>
<circle cx="98.1" cy="752.42" r="1.5" fill="#e6bf58" stroke="#1a1a1a" stroke-width="0.6"/>
<circle cx="100.4" cy="752.42" r="1.5" fill="#e6bf58" stroke="#1a1a1a" stroke-width="0.6"/>
<circle cx="102.7" cy="752.42" r="1.5" fill="#e6bf58" stroke="#1a1a1a" stroke-width="0.6"/>
<circle cx="106.5" cy="752.42" r="1.5" fill="#e6bf58" stroke="#1a1a1a" stroke-width="0.6"/>
<circle cx="109.5" cy="752.42" r="1.5" fill="#e6bf58" stroke="#1a1a1a" stroke-width="0.6"/>
<circle cx="111.8" cy="752.42" r="1.5" fill="#e6bf58" stroke="#1a1a1a" stroke-width="0.6"/>
<circle cx="114.2" cy="752.42" r="1.5" fill="#e6bf58" stroke="#1a1a1a" stroke-width="0.6"/>
<circle cx="116.5" cy="752.42" r="1.5" fill="#e6bf58" stroke="#1a1a1a" stroke-width="0.6"/>
<circle cx="104.6" cy="748.13" r="1.5" fill="#e6bf58" stroke="#1a1a1a" stroke-width="0.6"/>
<circle cx="109.4" cy="748.13" r="1.5" fill="#e6bf58" stroke="#1a1a1a" stroke-width="0.6"/>
<circle cx="111.1" cy="743.84" r="1.5" fill="#e6bf58" stroke="#1a1a1a" stroke-width="0.6"/>
<circle cx="96.5" cy="735.26" r="1.5" fill="#e6bf58" stroke="#1a1a1a" stroke-width="0.6"/>
<circle cx="101.9" cy="718.1" r="1.5" fill="#e6bf58" stroke="#1a1a1a" stroke-width="0.6"/>
<line x1="24.4" y1="712.5" x2="24.4" y2="763.3" stroke="#333" stroke-width="0.8"/>
<line x1="122.4" y1="712.5" x2="122.4" y2="763.3" stroke="#333" stroke-width="0.8"/>
<line x1="24" y1="763.3" x2="122.8" y2="763.3" stroke="#333" stroke-width="0.8"/>
<line x1="24.4" y1="712.5" x2="122.4" y2="712.5" stroke="#a6a6a6" stroke-width="1"/>
<line x1="22" y1="761" x2="24.4" y2="761" stroke="#333" stroke-width="0.6"/>
<text x="19.4" y="763.74" font-size="7.6" text-anchor="end" fill="#222">0</text>
<line x1="22" y1="748.13" x2="24.4" y2="748.13" stroke="#333" stroke-width="0.6"/>
<text x="19.4" y="750.87" font-size="7.6" text-anchor="end" fill="#222">3</text>
<line x1="22" y1="735.26" x2="24.4" y2="735.26" stroke="#333" stroke-width="0.6"/>
<text x="19.4" y="738" font-size="7.6" text-anchor="end" fill="#222">6</text>
<line x1="22" y1="722.39" x2="24.4" y2="722.39" stroke="#333" stroke-width="0.6"/>
<text x="19.4" y="725.13" font-size="7.6" text-anchor="end" fill="#222">9</text>
<line x1="42.9" y1="763.3" x2="42.9" y2="765.7" stroke="#333" stroke-width="0.6"/>
<text x="42.9" y="774.8" font-size="7.5" text-anchor="middle" fill="#222">Ctrl</text>
<line x1="73.3" y1="763.3" x2="73.3" y2="765.7" stroke="#333" stroke-width="0.6"/>
<text x="73.3" y="774.8" font-size="7.5" text-anchor="middle" fill="#222">ALS-</text>
<text x="73.3" y="782.2" font-size="7.5" text-anchor="middle" fill="#222">non-</text>
<text x="73.3" y="789.6" font-size="7.5" text-anchor="middle" fill="#222">TDP</text>
<line x1="104.2" y1="763.3" x2="104.2" y2="765.7" stroke="#333" stroke-width="0.6"/>
<text x="104.2" y="774.8" font-size="7.5" text-anchor="middle" fill="#222">ALS-</text>
<text x="104.2" y="782.2" font-size="7.5" text-anchor="middle" fill="#222">TDP</text>
<rect x="126.9" y="698.2" width="97.9" height="14.3" fill="#d9d9d9"/>
<line x1="126.55" y1="698.2" x2="225.15" y2="698.2" stroke="#333" stroke-width="0.7"/>
<line x1="126.9" y1="698.2" x2="126.9" y2="712.5" stroke="#333" stroke-width="0.7"/>
<line x1="224.8" y1="698.2" x2="224.8" y2="712.5" stroke="#333" stroke-width="0.7"/>
<text x="175.85" y="707.77" font-size="8.4" text-anchor="middle" fill="#1a1a1a">Lumbar spinal cord</text>
<rect x="126.9" y="712.5" width="97.9" height="50.8" fill="#ffffff"/>
<line x1="126.9" y1="754.57" x2="224.8" y2="754.57" stroke="#f0f0f0" stroke-width="0.5"/>
<line x1="126.9" y1="741.7" x2="224.8" y2="741.7" stroke="#f0f0f0" stroke-width="0.5"/>
<line x1="126.9" y1="728.83" x2="224.8" y2="728.83" stroke="#f0f0f0" stroke-width="0.5"/>
<line x1="126.9" y1="715.96" x2="224.8" y2="715.96" stroke="#f0f0f0" stroke-width="0.5"/>
<line x1="126.9" y1="761" x2="224.8" y2="761" stroke="#e6e6e6" stroke-width="0.8"/>
<line x1="126.9" y1="748.13" x2="224.8" y2="748.13" stroke="#e6e6e6" stroke-width="0.8"/>
<line x1="126.9" y1="735.26" x2="224.8" y2="735.26" stroke="#e6e6e6" stroke-width="0.8"/>
<line x1="126.9" y1="722.39" x2="224.8" y2="722.39" stroke="#e6e6e6" stroke-width="0.8"/>
<line x1="145.5" y1="712.5" x2="145.5" y2="763.3" stroke="#e6e6e6" stroke-width="0.8"/>
<line x1="176.1" y1="712.5" x2="176.1" y2="763.3" stroke="#e6e6e6" stroke-width="0.8"/>
<line x1="206.6" y1="712.5" x2="206.6" y2="763.3" stroke="#e6e6e6" stroke-width="0.8"/>
<circle cx="133.4" cy="761" r="1.5" fill="#22a8a0" stroke="#1a1a1a" stroke-width="0.6"/>
<circle cx="135.14" cy="761" r="1.5" fill="#22a8a0" stroke="#1a1a1a" stroke-width="0.6"/>
<circle cx="136.89" cy="761" r="1.5" fill="#22a8a0" stroke="#1a1a1a" stroke-width="0.6"/>
<circle cx="138.63" cy="761" r="1.5" fill="#22a8a0" stroke="#1a1a1a" stroke-width="0.6"/>
<circle cx="140.37" cy="761" r="1.5" fill="#22a8a0" stroke="#1a1a1a" stroke-width="0.6"/>
<circle cx="142.11" cy="761" r="1.5" fill="#22a8a0" stroke="#1a1a1a" stroke-width="0.6"/>
<circle cx="143.86" cy="761" r="1.5" fill="#22a8a0" stroke="#1a1a1a" stroke-width="0.6"/>
<circle cx="145.6" cy="761" r="1.5" fill="#22a8a0" stroke="#1a1a1a" stroke-width="0.6"/>
<circle cx="147.34" cy="761" r="1.5" fill="#22a8a0" stroke="#1a1a1a" stroke-width="0.6"/>
<circle cx="149.09" cy="761" r="1.5" fill="#22a8a0" stroke="#1a1a1a" stroke-width="0.6"/>
<circle cx="150.83" cy="761" r="1.5" fill="#22a8a0" stroke="#1a1a1a" stroke-width="0.6"/>
<circle cx="152.57" cy="761" r="1.5" fill="#22a8a0" stroke="#1a1a1a" stroke-width="0.6"/>
<circle cx="154.31" cy="761" r="1.5" fill="#22a8a0" stroke="#1a1a1a" stroke-width="0.6"/>
<circle cx="156.06" cy="761" r="1.5" fill="#22a8a0" stroke="#1a1a1a" stroke-width="0.6"/>
<circle cx="157.8" cy="761" r="1.5" fill="#22a8a0" stroke="#1a1a1a" stroke-width="0.6"/>
<circle cx="170" cy="761" r="1.5" fill="#2d8a34" stroke="#1a1a1a" stroke-width="0.6"/>
<circle cx="171.4" cy="761" r="1.5" fill="#2d8a34" stroke="#1a1a1a" stroke-width="0.6"/>
<circle cx="181" cy="761" r="1.5" fill="#2d8a34" stroke="#1a1a1a" stroke-width="0.6"/>
<circle cx="184.5" cy="761" r="1.5" fill="#2d8a34" stroke="#1a1a1a" stroke-width="0.6"/>
<circle cx="195" cy="761" r="1.5" fill="#e6bf58" stroke="#1a1a1a" stroke-width="0.6"/>
<circle cx="196.61" cy="761" r="1.5" fill="#e6bf58" stroke="#1a1a1a" stroke-width="0.6"/>
<circle cx="198.21" cy="761" r="1.5" fill="#e6bf58" stroke="#1a1a1a" stroke-width="0.6"/>
<circle cx="199.82" cy="761" r="1.5" fill="#e6bf58" stroke="#1a1a1a" stroke-width="0.6"/>
<circle cx="201.43" cy="761" r="1.5" fill="#e6bf58" stroke="#1a1a1a" stroke-width="0.6"/>
<circle cx="203.03" cy="761" r="1.5" fill="#e6bf58" stroke="#1a1a1a" stroke-width="0.6"/>
<circle cx="204.64" cy="761" r="1.5" fill="#e6bf58" stroke="#1a1a1a" stroke-width="0.6"/>
<circle cx="206.25" cy="761" r="1.5" fill="#e6bf58" stroke="#1a1a1a" stroke-width="0.6"/>
<circle cx="207.85" cy="761" r="1.5" fill="#e6bf58" stroke="#1a1a1a" stroke-width="0.6"/>
<circle cx="209.46" cy="761" r="1.5" fill="#e6bf58" stroke="#1a1a1a" stroke-width="0.6"/>
<circle cx="211.07" cy="761" r="1.5" fill="#e6bf58" stroke="#1a1a1a" stroke-width="0.6"/>
<circle cx="212.67" cy="761" r="1.5" fill="#e6bf58" stroke="#1a1a1a" stroke-width="0.6"/>
<circle cx="214.28" cy="761" r="1.5" fill="#e6bf58" stroke="#1a1a1a" stroke-width="0.6"/>
<circle cx="215.89" cy="761" r="1.5" fill="#e6bf58" stroke="#1a1a1a" stroke-width="0.6"/>
<circle cx="217.49" cy="761" r="1.5" fill="#e6bf58" stroke="#1a1a1a" stroke-width="0.6"/>
<circle cx="219.1" cy="761" r="1.5" fill="#e6bf58" stroke="#1a1a1a" stroke-width="0.6"/>
<circle cx="194.5" cy="756.71" r="1.5" fill="#e6bf58" stroke="#1a1a1a" stroke-width="0.6"/>
<circle cx="196.8" cy="756.71" r="1.5" fill="#e6bf58" stroke="#1a1a1a" stroke-width="0.6"/>
<circle cx="199.1" cy="756.71" r="1.5" fill="#e6bf58" stroke="#1a1a1a" stroke-width="0.6"/>
<circle cx="202.5" cy="756.71" r="1.5" fill="#e6bf58" stroke="#1a1a1a" stroke-width="0.6"/>
<circle cx="204.15" cy="756.71" r="1.5" fill="#e6bf58" stroke="#1a1a1a" stroke-width="0.6"/>
<circle cx="205.8" cy="756.71" r="1.5" fill="#e6bf58" stroke="#1a1a1a" stroke-width="0.6"/>
<circle cx="207.45" cy="756.71" r="1.5" fill="#e6bf58" stroke="#1a1a1a" stroke-width="0.6"/>
<circle cx="209.1" cy="756.71" r="1.5" fill="#e6bf58" stroke="#1a1a1a" stroke-width="0.6"/>
<circle cx="210.75" cy="756.71" r="1.5" fill="#e6bf58" stroke="#1a1a1a" stroke-width="0.6"/>
<circle cx="212.4" cy="756.71" r="1.5" fill="#e6bf58" stroke="#1a1a1a" stroke-width="0.6"/>
<circle cx="214.05" cy="756.71" r="1.5" fill="#e6bf58" stroke="#1a1a1a" stroke-width="0.6"/>
<circle cx="215.7" cy="756.71" r="1.5" fill="#e6bf58" stroke="#1a1a1a" stroke-width="0.6"/>
<circle cx="217.35" cy="756.71" r="1.5" fill="#e6bf58" stroke="#1a1a1a" stroke-width="0.6"/>
<circle cx="219" cy="756.71" r="1.5" fill="#e6bf58" stroke="#1a1a1a" stroke-width="0.6"/>
<circle cx="195.6" cy="752.42" r="1.5" fill="#e6bf58" stroke="#1a1a1a" stroke-width="0.6"/>
<circle cx="201.2" cy="752.42" r="1.5" fill="#e6bf58" stroke="#1a1a1a" stroke-width="0.6"/>
<circle cx="204.8" cy="752.42" r="1.5" fill="#e6bf58" stroke="#1a1a1a" stroke-width="0.6"/>
<circle cx="207.1" cy="752.42" r="1.5" fill="#e6bf58" stroke="#1a1a1a" stroke-width="0.6"/>
<circle cx="209.7" cy="752.42" r="1.5" fill="#e6bf58" stroke="#1a1a1a" stroke-width="0.6"/>
<circle cx="214.7" cy="752.42" r="1.5" fill="#e6bf58" stroke="#1a1a1a" stroke-width="0.6"/>
<circle cx="218.6" cy="752.42" r="1.5" fill="#e6bf58" stroke="#1a1a1a" stroke-width="0.6"/>
<circle cx="217.5" cy="748.13" r="1.5" fill="#e6bf58" stroke="#1a1a1a" stroke-width="0.6"/>
<circle cx="199.1" cy="743.84" r="1.5" fill="#e6bf58" stroke="#1a1a1a" stroke-width="0.6"/>
<circle cx="207.5" cy="743.84" r="1.5" fill="#e6bf58" stroke="#1a1a1a" stroke-width="0.6"/>
<circle cx="204" cy="739.55" r="1.5" fill="#e6bf58" stroke="#1a1a1a" stroke-width="0.6"/>
<circle cx="203.7" cy="735.26" r="1.5" fill="#e6bf58" stroke="#1a1a1a" stroke-width="0.6"/>
<circle cx="204.5" cy="726.68" r="1.5" fill="#e6bf58" stroke="#1a1a1a" stroke-width="0.6"/>
<line x1="126.9" y1="712.5" x2="126.9" y2="763.3" stroke="#333" stroke-width="0.8"/>
<line x1="224.8" y1="712.5" x2="224.8" y2="763.3" stroke="#333" stroke-width="0.8"/>
<line x1="126.5" y1="763.3" x2="225.2" y2="763.3" stroke="#333" stroke-width="0.8"/>
<line x1="126.9" y1="712.5" x2="224.8" y2="712.5" stroke="#a6a6a6" stroke-width="1"/>
<line x1="145.5" y1="763.3" x2="145.5" y2="765.7" stroke="#333" stroke-width="0.6"/>
<text x="145.5" y="774.8" font-size="7.5" text-anchor="middle" fill="#222">Ctrl</text>
<line x1="176.1" y1="763.3" x2="176.1" y2="765.7" stroke="#333" stroke-width="0.6"/>
<text x="176.1" y="774.8" font-size="7.5" text-anchor="middle" fill="#222">ALS-</text>
<text x="176.1" y="782.2" font-size="7.5" text-anchor="middle" fill="#222">non-</text>
<text x="176.1" y="789.6" font-size="7.5" text-anchor="middle" fill="#222">TDP</text>
<line x1="206.6" y1="763.3" x2="206.6" y2="765.7" stroke="#333" stroke-width="0.6"/>
<text x="206.6" y="774.8" font-size="7.5" text-anchor="middle" fill="#222">ALS-</text>
<text x="206.6" y="782.2" font-size="7.5" text-anchor="middle" fill="#222">TDP</text>
<rect x="24.4" y="796.2" width="98" height="14.2" fill="#d9d9d9"/>
<line x1="24.05" y1="796.2" x2="122.75" y2="796.2" stroke="#333" stroke-width="0.7"/>
<line x1="24.4" y1="796.2" x2="24.4" y2="810.4" stroke="#333" stroke-width="0.7"/>
<line x1="122.4" y1="796.2" x2="122.4" y2="810.4" stroke="#333" stroke-width="0.7"/>
<text x="73.4" y="805.72" font-size="8.4" text-anchor="middle" fill="#1a1a1a">Motor cortex</text>
<rect x="24.4" y="810.4" width="98" height="50.8" fill="#ffffff"/>
<line x1="24.4" y1="852.67" x2="122.4" y2="852.67" stroke="#f0f0f0" stroke-width="0.5"/>
<line x1="24.4" y1="839.8" x2="122.4" y2="839.8" stroke="#f0f0f0" stroke-width="0.5"/>
<line x1="24.4" y1="826.93" x2="122.4" y2="826.93" stroke="#f0f0f0" stroke-width="0.5"/>
<line x1="24.4" y1="814.06" x2="122.4" y2="814.06" stroke="#f0f0f0" stroke-width="0.5"/>
<line x1="24.4" y1="859.1" x2="122.4" y2="859.1" stroke="#e6e6e6" stroke-width="0.8"/>
<line x1="24.4" y1="846.23" x2="122.4" y2="846.23" stroke="#e6e6e6" stroke-width="0.8"/>
<line x1="24.4" y1="833.36" x2="122.4" y2="833.36" stroke="#e6e6e6" stroke-width="0.8"/>
<line x1="24.4" y1="820.49" x2="122.4" y2="820.49" stroke="#e6e6e6" stroke-width="0.8"/>
<line x1="42.9" y1="810.4" x2="42.9" y2="861.2" stroke="#e6e6e6" stroke-width="0.8"/>
<line x1="73.3" y1="810.4" x2="73.3" y2="861.2" stroke="#e6e6e6" stroke-width="0.8"/>
<line x1="104.2" y1="810.4" x2="104.2" y2="861.2" stroke="#e6e6e6" stroke-width="0.8"/>
<circle cx="30.2" cy="859.1" r="1.5" fill="#22a8a0" stroke="#1a1a1a" stroke-width="0.6"/>
<circle cx="31.95" cy="859.1" r="1.5" fill="#22a8a0" stroke="#1a1a1a" stroke-width="0.6"/>
<circle cx="33.7" cy="859.1" r="1.5" fill="#22a8a0" stroke="#1a1a1a" stroke-width="0.6"/>
<circle cx="35.45" cy="859.1" r="1.5" fill="#22a8a0" stroke="#1a1a1a" stroke-width="0.6"/>
<circle cx="37.2" cy="859.1" r="1.5" fill="#22a8a0" stroke="#1a1a1a" stroke-width="0.6"/>
<circle cx="38.95" cy="859.1" r="1.5" fill="#22a8a0" stroke="#1a1a1a" stroke-width="0.6"/>
<circle cx="40.7" cy="859.1" r="1.5" fill="#22a8a0" stroke="#1a1a1a" stroke-width="0.6"/>
<circle cx="42.45" cy="859.1" r="1.5" fill="#22a8a0" stroke="#1a1a1a" stroke-width="0.6"/>
<circle cx="44.2" cy="859.1" r="1.5" fill="#22a8a0" stroke="#1a1a1a" stroke-width="0.6"/>
<circle cx="45.95" cy="859.1" r="1.5" fill="#22a8a0" stroke="#1a1a1a" stroke-width="0.6"/>
<circle cx="47.7" cy="859.1" r="1.5" fill="#22a8a0" stroke="#1a1a1a" stroke-width="0.6"/>
<circle cx="49.45" cy="859.1" r="1.5" fill="#22a8a0" stroke="#1a1a1a" stroke-width="0.6"/>
<circle cx="51.2" cy="859.1" r="1.5" fill="#22a8a0" stroke="#1a1a1a" stroke-width="0.6"/>
<circle cx="52.95" cy="859.1" r="1.5" fill="#22a8a0" stroke="#1a1a1a" stroke-width="0.6"/>
<circle cx="54.7" cy="859.1" r="1.5" fill="#22a8a0" stroke="#1a1a1a" stroke-width="0.6"/>
<circle cx="61.5" cy="859.1" r="1.5" fill="#2d8a34" stroke="#1a1a1a" stroke-width="0.6"/>
<circle cx="64" cy="859.1" r="1.5" fill="#2d8a34" stroke="#1a1a1a" stroke-width="0.6"/>
<circle cx="68.5" cy="859.1" r="1.5" fill="#2d8a34" stroke="#1a1a1a" stroke-width="0.6"/>
<circle cx="71" cy="859.1" r="1.5" fill="#2d8a34" stroke="#1a1a1a" stroke-width="0.6"/>
<circle cx="73.5" cy="859.1" r="1.5" fill="#2d8a34" stroke="#1a1a1a" stroke-width="0.6"/>
<circle cx="76" cy="859.1" r="1.5" fill="#2d8a34" stroke="#1a1a1a" stroke-width="0.6"/>
<circle cx="78.5" cy="859.1" r="1.5" fill="#2d8a34" stroke="#1a1a1a" stroke-width="0.6"/>
<circle cx="82.5" cy="859.1" r="1.5" fill="#2d8a34" stroke="#1a1a1a" stroke-width="0.6"/>
<circle cx="91.5" cy="859.1" r="1.5" fill="#e6bf58" stroke="#1a1a1a" stroke-width="0.6"/>
<circle cx="93.15" cy="859.1" r="1.5" fill="#e6bf58" stroke="#1a1a1a" stroke-width="0.6"/>
<circle cx="94.81" cy="859.1" r="1.5" fill="#e6bf58" stroke="#1a1a1a" stroke-width="0.6"/>
<circle cx="96.46" cy="859.1" r="1.5" fill="#e6bf58" stroke="#1a1a1a" stroke-width="0.6"/>
<circle cx="98.11" cy="859.1" r="1.5" fill="#e6bf58" stroke="#1a1a1a" stroke-width="0.6"/>
<circle cx="99.77" cy="859.1" r="1.5" fill="#e6bf58" stroke="#1a1a1a" stroke-width="0.6"/>
<circle cx="101.42" cy="859.1" r="1.5" fill="#e6bf58" stroke="#1a1a1a" stroke-width="0.6"/>
<circle cx="103.07" cy="859.1" r="1.5" fill="#e6bf58" stroke="#1a1a1a" stroke-width="0.6"/>
<circle cx="104.73" cy="859.1" r="1.5" fill="#e6bf58" stroke="#1a1a1a" stroke-width="0.6"/>
<circle cx="106.38" cy="859.1" r="1.5" fill="#e6bf58" stroke="#1a1a1a" stroke-width="0.6"/>
<circle cx="108.03" cy="859.1" r="1.5" fill="#e6bf58" stroke="#1a1a1a" stroke-width="0.6"/>
<circle cx="109.69" cy="859.1" r="1.5" fill="#e6bf58" stroke="#1a1a1a" stroke-width="0.6"/>
<circle cx="111.34" cy="859.1" r="1.5" fill="#e6bf58" stroke="#1a1a1a" stroke-width="0.6"/>
<circle cx="112.99" cy="859.1" r="1.5" fill="#e6bf58" stroke="#1a1a1a" stroke-width="0.6"/>
<circle cx="114.65" cy="859.1" r="1.5" fill="#e6bf58" stroke="#1a1a1a" stroke-width="0.6"/>
<circle cx="116.3" cy="859.1" r="1.5" fill="#e6bf58" stroke="#1a1a1a" stroke-width="0.6"/>
<circle cx="91.5" cy="854.81" r="1.5" fill="#e6bf58" stroke="#1a1a1a" stroke-width="0.6"/>
<circle cx="93.25" cy="854.81" r="1.5" fill="#e6bf58" stroke="#1a1a1a" stroke-width="0.6"/>
<circle cx="95" cy="854.81" r="1.5" fill="#e6bf58" stroke="#1a1a1a" stroke-width="0.6"/>
<circle cx="96.75" cy="854.81" r="1.5" fill="#e6bf58" stroke="#1a1a1a" stroke-width="0.6"/>
<circle cx="98.5" cy="854.81" r="1.5" fill="#e6bf58" stroke="#1a1a1a" stroke-width="0.6"/>
<circle cx="100.25" cy="854.81" r="1.5" fill="#e6bf58" stroke="#1a1a1a" stroke-width="0.6"/>
<circle cx="102" cy="854.81" r="1.5" fill="#e6bf58" stroke="#1a1a1a" stroke-width="0.6"/>
<circle cx="103.75" cy="854.81" r="1.5" fill="#e6bf58" stroke="#1a1a1a" stroke-width="0.6"/>
<circle cx="105.5" cy="854.81" r="1.5" fill="#e6bf58" stroke="#1a1a1a" stroke-width="0.6"/>
<circle cx="107.25" cy="854.81" r="1.5" fill="#e6bf58" stroke="#1a1a1a" stroke-width="0.6"/>
<circle cx="109" cy="854.81" r="1.5" fill="#e6bf58" stroke="#1a1a1a" stroke-width="0.6"/>
<circle cx="110.75" cy="854.81" r="1.5" fill="#e6bf58" stroke="#1a1a1a" stroke-width="0.6"/>
<circle cx="112.5" cy="854.81" r="1.5" fill="#e6bf58" stroke="#1a1a1a" stroke-width="0.6"/>
<circle cx="114.25" cy="854.81" r="1.5" fill="#e6bf58" stroke="#1a1a1a" stroke-width="0.6"/>
<circle cx="116" cy="854.81" r="1.5" fill="#e6bf58" stroke="#1a1a1a" stroke-width="0.6"/>
<circle cx="93" cy="850.52" r="1.5" fill="#e6bf58" stroke="#1a1a1a" stroke-width="0.6"/>
<circle cx="95.5" cy="850.52" r="1.5" fill="#e6bf58" stroke="#1a1a1a" stroke-width="0.6"/>
<circle cx="98" cy="850.52" r="1.5" fill="#e6bf58" stroke="#1a1a1a" stroke-width="0.6"/>
<circle cx="100.5" cy="850.52" r="1.5" fill="#e6bf58" stroke="#1a1a1a" stroke-width="0.6"/>
<circle cx="103" cy="850.52" r="1.5" fill="#e6bf58" stroke="#1a1a1a" stroke-width="0.6"/>
<circle cx="105" cy="850.52" r="1.5" fill="#e6bf58" stroke="#1a1a1a" stroke-width="0.6"/>
<circle cx="110" cy="850.52" r="1.5" fill="#e6bf58" stroke="#1a1a1a" stroke-width="0.6"/>
<circle cx="112.5" cy="850.52" r="1.5" fill="#e6bf58" stroke="#1a1a1a" stroke-width="0.6"/>
<circle cx="115" cy="850.52" r="1.5" fill="#e6bf58" stroke="#1a1a1a" stroke-width="0.6"/>
<circle cx="117" cy="850.52" r="1.5" fill="#e6bf58" stroke="#1a1a1a" stroke-width="0.6"/>
<circle cx="98.2" cy="846.23" r="1.5" fill="#e6bf58" stroke="#1a1a1a" stroke-width="0.6"/>
<circle cx="100.7" cy="846.23" r="1.5" fill="#e6bf58" stroke="#1a1a1a" stroke-width="0.6"/>
<circle cx="102" cy="846.23" r="1.5" fill="#e6bf58" stroke="#1a1a1a" stroke-width="0.6"/>
<circle cx="110.7" cy="846.23" r="1.5" fill="#e6bf58" stroke="#1a1a1a" stroke-width="0.6"/>
<circle cx="113.3" cy="846.23" r="1.5" fill="#e6bf58" stroke="#1a1a1a" stroke-width="0.6"/>
<circle cx="115.8" cy="846.23" r="1.5" fill="#e6bf58" stroke="#1a1a1a" stroke-width="0.6"/>
<circle cx="109.4" cy="841.94" r="1.5" fill="#e6bf58" stroke="#1a1a1a" stroke-width="0.6"/>
<circle cx="96.2" cy="837.65" r="1.5" fill="#e6bf58" stroke="#1a1a1a" stroke-width="0.6"/>
<circle cx="97.7" cy="837.65" r="1.5" fill="#e6bf58" stroke="#1a1a1a" stroke-width="0.6"/>
<circle cx="114.3" cy="833.36" r="1.5" fill="#e6bf58" stroke="#1a1a1a" stroke-width="0.6"/>
<circle cx="102.3" cy="811.91" r="1.5" fill="#e6bf58" stroke="#1a1a1a" stroke-width="0.6"/>
<line x1="24.4" y1="810.4" x2="24.4" y2="861.2" stroke="#333" stroke-width="0.8"/>
<line x1="122.4" y1="810.4" x2="122.4" y2="861.2" stroke="#333" stroke-width="0.8"/>
<line x1="24" y1="861.2" x2="122.8" y2="861.2" stroke="#333" stroke-width="0.8"/>
<line x1="24.4" y1="810.4" x2="122.4" y2="810.4" stroke="#a6a6a6" stroke-width="1"/>
<line x1="22" y1="859.1" x2="24.4" y2="859.1" stroke="#333" stroke-width="0.6"/>
<text x="19.4" y="861.84" font-size="7.6" text-anchor="end" fill="#222">0</text>
<line x1="22" y1="846.23" x2="24.4" y2="846.23" stroke="#333" stroke-width="0.6"/>
<text x="19.4" y="848.97" font-size="7.6" text-anchor="end" fill="#222">3</text>
<line x1="22" y1="833.36" x2="24.4" y2="833.36" stroke="#333" stroke-width="0.6"/>
<text x="19.4" y="836.1" font-size="7.6" text-anchor="end" fill="#222">6</text>
<line x1="22" y1="820.49" x2="24.4" y2="820.49" stroke="#333" stroke-width="0.6"/>
<text x="19.4" y="823.23" font-size="7.6" text-anchor="end" fill="#222">9</text>
<line x1="42.9" y1="861.2" x2="42.9" y2="863.6" stroke="#333" stroke-width="0.6"/>
<text x="42.9" y="872.7" font-size="7.5" text-anchor="middle" fill="#222">Ctrl</text>
<line x1="73.3" y1="861.2" x2="73.3" y2="863.6" stroke="#333" stroke-width="0.6"/>
<text x="73.3" y="872.7" font-size="7.5" text-anchor="middle" fill="#222">ALS-</text>
<text x="73.3" y="880.1" font-size="7.5" text-anchor="middle" fill="#222">non-</text>
<text x="73.3" y="887.5" font-size="7.5" text-anchor="middle" fill="#222">TDP</text>
<line x1="104.2" y1="861.2" x2="104.2" y2="863.6" stroke="#333" stroke-width="0.6"/>
<text x="104.2" y="872.7" font-size="7.5" text-anchor="middle" fill="#222">ALS-</text>
<text x="104.2" y="880.1" font-size="7.5" text-anchor="middle" fill="#222">TDP</text>
<rect x="126.9" y="796.2" width="97.9" height="14.2" fill="#d9d9d9"/>
<line x1="126.55" y1="796.2" x2="225.15" y2="796.2" stroke="#333" stroke-width="0.7"/>
<line x1="126.9" y1="796.2" x2="126.9" y2="810.4" stroke="#333" stroke-width="0.7"/>
<line x1="224.8" y1="796.2" x2="224.8" y2="810.4" stroke="#333" stroke-width="0.7"/>
<text x="175.85" y="805.72" font-size="8.4" text-anchor="middle" fill="#1a1a1a">Frontal cortex</text>
<rect x="126.9" y="810.4" width="97.9" height="50.8" fill="#ffffff"/>
<line x1="126.9" y1="852.67" x2="224.8" y2="852.67" stroke="#f0f0f0" stroke-width="0.5"/>
<line x1="126.9" y1="839.8" x2="224.8" y2="839.8" stroke="#f0f0f0" stroke-width="0.5"/>
<line x1="126.9" y1="826.93" x2="224.8" y2="826.93" stroke="#f0f0f0" stroke-width="0.5"/>
<line x1="126.9" y1="814.06" x2="224.8" y2="814.06" stroke="#f0f0f0" stroke-width="0.5"/>
<line x1="126.9" y1="859.1" x2="224.8" y2="859.1" stroke="#e6e6e6" stroke-width="0.8"/>
<line x1="126.9" y1="846.23" x2="224.8" y2="846.23" stroke="#e6e6e6" stroke-width="0.8"/>
<line x1="126.9" y1="833.36" x2="224.8" y2="833.36" stroke="#e6e6e6" stroke-width="0.8"/>
<line x1="126.9" y1="820.49" x2="224.8" y2="820.49" stroke="#e6e6e6" stroke-width="0.8"/>
<line x1="138.4" y1="810.4" x2="138.4" y2="861.2" stroke="#e6e6e6" stroke-width="0.8"/>
<line x1="157.3" y1="810.4" x2="157.3" y2="861.2" stroke="#e6e6e6" stroke-width="0.8"/>
<line x1="176.1" y1="810.4" x2="176.1" y2="861.2" stroke="#e6e6e6" stroke-width="0.8"/>
<line x1="195.1" y1="810.4" x2="195.1" y2="861.2" stroke="#e6e6e6" stroke-width="0.8"/>
<line x1="214" y1="810.4" x2="214" y2="861.2" stroke="#e6e6e6" stroke-width="0.8"/>
<circle cx="130.7" cy="859.1" r="1.5" fill="#22a8a0" stroke="#1a1a1a" stroke-width="0.6"/>
<circle cx="132.34" cy="859.1" r="1.5" fill="#22a8a0" stroke="#1a1a1a" stroke-width="0.6"/>
<circle cx="133.99" cy="859.1" r="1.5" fill="#22a8a0" stroke="#1a1a1a" stroke-width="0.6"/>
<circle cx="135.63" cy="859.1" r="1.5" fill="#22a8a0" stroke="#1a1a1a" stroke-width="0.6"/>
<circle cx="137.28" cy="859.1" r="1.5" fill="#22a8a0" stroke="#1a1a1a" stroke-width="0.6"/>
<circle cx="138.92" cy="859.1" r="1.5" fill="#22a8a0" stroke="#1a1a1a" stroke-width="0.6"/>
<circle cx="140.57" cy="859.1" r="1.5" fill="#22a8a0" stroke="#1a1a1a" stroke-width="0.6"/>
<circle cx="142.21" cy="859.1" r="1.5" fill="#22a8a0" stroke="#1a1a1a" stroke-width="0.6"/>
<circle cx="143.86" cy="859.1" r="1.5" fill="#22a8a0" stroke="#1a1a1a" stroke-width="0.6"/>
<circle cx="145.5" cy="859.1" r="1.5" fill="#22a8a0" stroke="#1a1a1a" stroke-width="0.6"/>
<circle cx="150.5" cy="859.1" r="1.5" fill="#2d8a34" stroke="#1a1a1a" stroke-width="0.6"/>
<circle cx="153.5" cy="859.1" r="1.5" fill="#2d8a34" stroke="#1a1a1a" stroke-width="0.6"/>
<circle cx="156.5" cy="859.1" r="1.5" fill="#2d8a34" stroke="#1a1a1a" stroke-width="0.6"/>
<circle cx="159.5" cy="859.1" r="1.5" fill="#2d8a34" stroke="#1a1a1a" stroke-width="0.6"/>
<circle cx="163" cy="859.1" r="1.5" fill="#2d8a34" stroke="#1a1a1a" stroke-width="0.6"/>
<circle cx="168.7" cy="859.1" r="1.5" fill="#e6bf58" stroke="#1a1a1a" stroke-width="0.6"/>
<circle cx="170.34" cy="859.1" r="1.5" fill="#e6bf58" stroke="#1a1a1a" stroke-width="0.6"/>
<circle cx="171.99" cy="859.1" r="1.5" fill="#e6bf58" stroke="#1a1a1a" stroke-width="0.6"/>
<circle cx="173.63" cy="859.1" r="1.5" fill="#e6bf58" stroke="#1a1a1a" stroke-width="0.6"/>
<circle cx="175.28" cy="859.1" r="1.5" fill="#e6bf58" stroke="#1a1a1a" stroke-width="0.6"/>
<circle cx="176.92" cy="859.1" r="1.5" fill="#e6bf58" stroke="#1a1a1a" stroke-width="0.6"/>
<circle cx="178.57" cy="859.1" r="1.5" fill="#e6bf58" stroke="#1a1a1a" stroke-width="0.6"/>
<circle cx="180.21" cy="859.1" r="1.5" fill="#e6bf58" stroke="#1a1a1a" stroke-width="0.6"/>
<circle cx="181.86" cy="859.1" r="1.5" fill="#e6bf58" stroke="#1a1a1a" stroke-width="0.6"/>
<circle cx="183.5" cy="859.1" r="1.5" fill="#e6bf58" stroke="#1a1a1a" stroke-width="0.6"/>
<circle cx="169.5" cy="854.81" r="1.5" fill="#e6bf58" stroke="#1a1a1a" stroke-width="0.6"/>
<circle cx="172.6" cy="854.81" r="1.5" fill="#e6bf58" stroke="#1a1a1a" stroke-width="0.6"/>
<circle cx="176" cy="854.81" r="1.5" fill="#e6bf58" stroke="#1a1a1a" stroke-width="0.6"/>
<circle cx="183" cy="854.81" r="1.5" fill="#e6bf58" stroke="#1a1a1a" stroke-width="0.6"/>
<circle cx="181.5" cy="850.52" r="1.5" fill="#e6bf58" stroke="#1a1a1a" stroke-width="0.6"/>
<circle cx="190" cy="859.1" r="1.5" fill="#2d8a34" stroke="#1a1a1a" stroke-width="0.6"/>
<circle cx="191.64" cy="859.1" r="1.5" fill="#2d8a34" stroke="#1a1a1a" stroke-width="0.6"/>
<circle cx="193.29" cy="859.1" r="1.5" fill="#2d8a34" stroke="#1a1a1a" stroke-width="0.6"/>
<circle cx="194.93" cy="859.1" r="1.5" fill="#2d8a34" stroke="#1a1a1a" stroke-width="0.6"/>
<circle cx="196.57" cy="859.1" r="1.5" fill="#2d8a34" stroke="#1a1a1a" stroke-width="0.6"/>
<circle cx="198.21" cy="859.1" r="1.5" fill="#2d8a34" stroke="#1a1a1a" stroke-width="0.6"/>
<circle cx="199.86" cy="859.1" r="1.5" fill="#2d8a34" stroke="#1a1a1a" stroke-width="0.6"/>
<circle cx="201.5" cy="859.1" r="1.5" fill="#2d8a34" stroke="#1a1a1a" stroke-width="0.6"/>
<circle cx="206.5" cy="859.1" r="1.5" fill="#e6bf58" stroke="#1a1a1a" stroke-width="0.6"/>
<circle cx="208.16" cy="859.1" r="1.5" fill="#e6bf58" stroke="#1a1a1a" stroke-width="0.6"/>
<circle cx="209.81" cy="859.1" r="1.5" fill="#e6bf58" stroke="#1a1a1a" stroke-width="0.6"/>
<circle cx="211.47" cy="859.1" r="1.5" fill="#e6bf58" stroke="#1a1a1a" stroke-width="0.6"/>
<circle cx="213.12" cy="859.1" r="1.5" fill="#e6bf58" stroke="#1a1a1a" stroke-width="0.6"/>
<circle cx="214.78" cy="859.1" r="1.5" fill="#e6bf58" stroke="#1a1a1a" stroke-width="0.6"/>
<circle cx="216.43" cy="859.1" r="1.5" fill="#e6bf58" stroke="#1a1a1a" stroke-width="0.6"/>
<circle cx="218.09" cy="859.1" r="1.5" fill="#e6bf58" stroke="#1a1a1a" stroke-width="0.6"/>
<circle cx="219.74" cy="859.1" r="1.5" fill="#e6bf58" stroke="#1a1a1a" stroke-width="0.6"/>
<circle cx="221.4" cy="859.1" r="1.5" fill="#e6bf58" stroke="#1a1a1a" stroke-width="0.6"/>
<circle cx="207.4" cy="854.81" r="1.5" fill="#e6bf58" stroke="#1a1a1a" stroke-width="0.6"/>
<circle cx="214.4" cy="854.81" r="1.5" fill="#e6bf58" stroke="#1a1a1a" stroke-width="0.6"/>
<circle cx="207.4" cy="850.52" r="1.5" fill="#e6bf58" stroke="#1a1a1a" stroke-width="0.6"/>
<circle cx="213.5" cy="850.52" r="1.5" fill="#e6bf58" stroke="#1a1a1a" stroke-width="0.6"/>
<circle cx="217.8" cy="850.52" r="1.5" fill="#e6bf58" stroke="#1a1a1a" stroke-width="0.6"/>
<circle cx="219" cy="850.52" r="1.5" fill="#e6bf58" stroke="#1a1a1a" stroke-width="0.6"/>
<circle cx="212.7" cy="846.23" r="1.5" fill="#e6bf58" stroke="#1a1a1a" stroke-width="0.6"/>
<line x1="126.9" y1="810.4" x2="126.9" y2="861.2" stroke="#333" stroke-width="0.8"/>
<line x1="224.8" y1="810.4" x2="224.8" y2="861.2" stroke="#333" stroke-width="0.8"/>
<line x1="126.5" y1="861.2" x2="225.2" y2="861.2" stroke="#333" stroke-width="0.8"/>
<line x1="126.9" y1="810.4" x2="224.8" y2="810.4" stroke="#a6a6a6" stroke-width="1"/>
<line x1="138.4" y1="861.2" x2="138.4" y2="863.6" stroke="#333" stroke-width="0.6"/>
<text x="138.4" y="872.7" font-size="7.5" text-anchor="middle" fill="#222">Ctrl</text>
<line x1="157.3" y1="861.2" x2="157.3" y2="863.6" stroke="#333" stroke-width="0.6"/>
<text x="157.3" y="872.7" font-size="7.5" text-anchor="middle" fill="#222">ALS-</text>
<text x="157.3" y="880.1" font-size="7.5" text-anchor="middle" fill="#222">non-</text>
<text x="157.3" y="887.5" font-size="7.5" text-anchor="middle" fill="#222">TDP</text>
<line x1="176.1" y1="861.2" x2="176.1" y2="863.6" stroke="#333" stroke-width="0.6"/>
<text x="176.1" y="872.7" font-size="7.5" text-anchor="middle" fill="#222">ALS-</text>
<text x="176.1" y="880.1" font-size="7.5" text-anchor="middle" fill="#222">TDP</text>
<line x1="195.1" y1="861.2" x2="195.1" y2="863.6" stroke="#333" stroke-width="0.6"/>
<text x="195.1" y="872.7" font-size="7.5" text-anchor="middle" fill="#222">FTD-</text>
<text x="195.1" y="880.1" font-size="7.5" text-anchor="middle" fill="#222">non-</text>
<text x="195.1" y="887.5" font-size="7.5" text-anchor="middle" fill="#222">TDP</text>
<line x1="214" y1="861.2" x2="214" y2="863.6" stroke="#333" stroke-width="0.6"/>
<text x="214" y="872.7" font-size="7.5" text-anchor="middle" fill="#222">FTD-</text>
<text x="214" y="880.1" font-size="7.5" text-anchor="middle" fill="#222">TDP</text>
<rect x="24.4" y="894.1" width="98" height="14.1" fill="#d9d9d9"/>
<line x1="24.05" y1="894.1" x2="122.75" y2="894.1" stroke="#333" stroke-width="0.7"/>
<line x1="24.4" y1="894.1" x2="24.4" y2="908.2" stroke="#333" stroke-width="0.7"/>
<line x1="122.4" y1="894.1" x2="122.4" y2="908.2" stroke="#333" stroke-width="0.7"/>
<text x="73.4" y="903.57" font-size="8.4" text-anchor="middle" fill="#1a1a1a">Cerebellum</text>
<rect x="24.4" y="908.2" width="98" height="50.8" fill="#ffffff"/>
<line x1="24.4" y1="950.87" x2="122.4" y2="950.87" stroke="#f0f0f0" stroke-width="0.5"/>
<line x1="24.4" y1="938" x2="122.4" y2="938" stroke="#f0f0f0" stroke-width="0.5"/>
<line x1="24.4" y1="925.12" x2="122.4" y2="925.12" stroke="#f0f0f0" stroke-width="0.5"/>
<line x1="24.4" y1="912.25" x2="122.4" y2="912.25" stroke="#f0f0f0" stroke-width="0.5"/>
<line x1="24.4" y1="957.3" x2="122.4" y2="957.3" stroke="#e6e6e6" stroke-width="0.8"/>
<line x1="24.4" y1="944.43" x2="122.4" y2="944.43" stroke="#e6e6e6" stroke-width="0.8"/>
<line x1="24.4" y1="931.56" x2="122.4" y2="931.56" stroke="#e6e6e6" stroke-width="0.8"/>
<line x1="24.4" y1="918.69" x2="122.4" y2="918.69" stroke="#e6e6e6" stroke-width="0.8"/>
<line x1="35.3" y1="908.2" x2="35.3" y2="959" stroke="#e6e6e6" stroke-width="0.8"/>
<line x1="54.5" y1="908.2" x2="54.5" y2="959" stroke="#e6e6e6" stroke-width="0.8"/>
<line x1="73.6" y1="908.2" x2="73.6" y2="959" stroke="#e6e6e6" stroke-width="0.8"/>
<line x1="92.5" y1="908.2" x2="92.5" y2="959" stroke="#e6e6e6" stroke-width="0.8"/>
<line x1="111.7" y1="908.2" x2="111.7" y2="959" stroke="#e6e6e6" stroke-width="0.8"/>
<circle cx="27.9" cy="957.3" r="1.5" fill="#22a8a0" stroke="#1a1a1a" stroke-width="0.6"/>
<circle cx="29.6" cy="957.3" r="1.5" fill="#22a8a0" stroke="#1a1a1a" stroke-width="0.6"/>
<circle cx="31.3" cy="957.3" r="1.5" fill="#22a8a0" stroke="#1a1a1a" stroke-width="0.6"/>
<circle cx="33" cy="957.3" r="1.5" fill="#22a8a0" stroke="#1a1a1a" stroke-width="0.6"/>
<circle cx="34.7" cy="957.3" r="1.5" fill="#22a8a0" stroke="#1a1a1a" stroke-width="0.6"/>
<circle cx="36.4" cy="957.3" r="1.5" fill="#22a8a0" stroke="#1a1a1a" stroke-width="0.6"/>
<circle cx="38.1" cy="957.3" r="1.5" fill="#22a8a0" stroke="#1a1a1a" stroke-width="0.6"/>
<circle cx="39.8" cy="957.3" r="1.5" fill="#22a8a0" stroke="#1a1a1a" stroke-width="0.6"/>
<circle cx="41.5" cy="957.3" r="1.5" fill="#22a8a0" stroke="#1a1a1a" stroke-width="0.6"/>
<circle cx="43.2" cy="957.3" r="1.5" fill="#22a8a0" stroke="#1a1a1a" stroke-width="0.6"/>
<circle cx="47" cy="957.3" r="1.5" fill="#2d8a34" stroke="#1a1a1a" stroke-width="0.6"/>
<circle cx="49.7" cy="957.3" r="1.5" fill="#2d8a34" stroke="#1a1a1a" stroke-width="0.6"/>
<circle cx="54" cy="957.3" r="1.5" fill="#2d8a34" stroke="#1a1a1a" stroke-width="0.6"/>
<circle cx="58.5" cy="957.3" r="1.5" fill="#2d8a34" stroke="#1a1a1a" stroke-width="0.6"/>
<circle cx="61.5" cy="957.3" r="1.5" fill="#2d8a34" stroke="#1a1a1a" stroke-width="0.6"/>
<circle cx="65.8" cy="957.3" r="1.5" fill="#e6bf58" stroke="#1a1a1a" stroke-width="0.6"/>
<circle cx="67.5" cy="957.3" r="1.5" fill="#e6bf58" stroke="#1a1a1a" stroke-width="0.6"/>
<circle cx="69.2" cy="957.3" r="1.5" fill="#e6bf58" stroke="#1a1a1a" stroke-width="0.6"/>
<circle cx="70.9" cy="957.3" r="1.5" fill="#e6bf58" stroke="#1a1a1a" stroke-width="0.6"/>
<circle cx="72.6" cy="957.3" r="1.5" fill="#e6bf58" stroke="#1a1a1a" stroke-width="0.6"/>
<circle cx="74.3" cy="957.3" r="1.5" fill="#e6bf58" stroke="#1a1a1a" stroke-width="0.6"/>
<circle cx="76" cy="957.3" r="1.5" fill="#e6bf58" stroke="#1a1a1a" stroke-width="0.6"/>
<circle cx="77.7" cy="957.3" r="1.5" fill="#e6bf58" stroke="#1a1a1a" stroke-width="0.6"/>
<circle cx="79.4" cy="957.3" r="1.5" fill="#e6bf58" stroke="#1a1a1a" stroke-width="0.6"/>
<circle cx="81.1" cy="957.3" r="1.5" fill="#e6bf58" stroke="#1a1a1a" stroke-width="0.6"/>
<circle cx="70.6" cy="953.01" r="1.5" fill="#e6bf58" stroke="#1a1a1a" stroke-width="0.6"/>
<circle cx="80.5" cy="953.01" r="1.5" fill="#e6bf58" stroke="#1a1a1a" stroke-width="0.6"/>
<circle cx="86" cy="957.3" r="1.5" fill="#2d8a34" stroke="#1a1a1a" stroke-width="0.6"/>
<circle cx="89" cy="957.3" r="1.5" fill="#2d8a34" stroke="#1a1a1a" stroke-width="0.6"/>
<circle cx="94" cy="957.3" r="1.5" fill="#2d8a34" stroke="#1a1a1a" stroke-width="0.6"/>
<circle cx="96.5" cy="957.3" r="1.5" fill="#2d8a34" stroke="#1a1a1a" stroke-width="0.6"/>
<circle cx="98.5" cy="957.3" r="1.5" fill="#2d8a34" stroke="#1a1a1a" stroke-width="0.6"/>
<circle cx="104.1" cy="957.3" r="1.5" fill="#e6bf58" stroke="#1a1a1a" stroke-width="0.6"/>
<circle cx="105.71" cy="957.3" r="1.5" fill="#e6bf58" stroke="#1a1a1a" stroke-width="0.6"/>
<circle cx="107.32" cy="957.3" r="1.5" fill="#e6bf58" stroke="#1a1a1a" stroke-width="0.6"/>
<circle cx="108.93" cy="957.3" r="1.5" fill="#e6bf58" stroke="#1a1a1a" stroke-width="0.6"/>
<circle cx="110.54" cy="957.3" r="1.5" fill="#e6bf58" stroke="#1a1a1a" stroke-width="0.6"/>
<circle cx="112.16" cy="957.3" r="1.5" fill="#e6bf58" stroke="#1a1a1a" stroke-width="0.6"/>
<circle cx="113.77" cy="957.3" r="1.5" fill="#e6bf58" stroke="#1a1a1a" stroke-width="0.6"/>
<circle cx="115.38" cy="957.3" r="1.5" fill="#e6bf58" stroke="#1a1a1a" stroke-width="0.6"/>
<circle cx="116.99" cy="957.3" r="1.5" fill="#e6bf58" stroke="#1a1a1a" stroke-width="0.6"/>
<circle cx="118.6" cy="957.3" r="1.5" fill="#e6bf58" stroke="#1a1a1a" stroke-width="0.6"/>
<line x1="24.4" y1="908.2" x2="24.4" y2="959" stroke="#333" stroke-width="0.8"/>
<line x1="122.4" y1="908.2" x2="122.4" y2="959" stroke="#333" stroke-width="0.8"/>
<line x1="24" y1="959" x2="122.8" y2="959" stroke="#333" stroke-width="0.8"/>
<line x1="24.4" y1="908.2" x2="122.4" y2="908.2" stroke="#a6a6a6" stroke-width="1"/>
<line x1="22" y1="957.3" x2="24.4" y2="957.3" stroke="#333" stroke-width="0.6"/>
<text x="19.4" y="960.04" font-size="7.6" text-anchor="end" fill="#222">0</text>
<line x1="22" y1="944.43" x2="24.4" y2="944.43" stroke="#333" stroke-width="0.6"/>
<text x="19.4" y="947.17" font-size="7.6" text-anchor="end" fill="#222">3</text>
<line x1="22" y1="931.56" x2="24.4" y2="931.56" stroke="#333" stroke-width="0.6"/>
<text x="19.4" y="934.3" font-size="7.6" text-anchor="end" fill="#222">6</text>
<line x1="22" y1="918.69" x2="24.4" y2="918.69" stroke="#333" stroke-width="0.6"/>
<text x="19.4" y="921.43" font-size="7.6" text-anchor="end" fill="#222">9</text>
<line x1="35.3" y1="959" x2="35.3" y2="961.4" stroke="#333" stroke-width="0.6"/>
<text x="35.3" y="970.5" font-size="7.5" text-anchor="middle" fill="#222">Ctrl</text>
<line x1="54.5" y1="959" x2="54.5" y2="961.4" stroke="#333" stroke-width="0.6"/>
<text x="54.5" y="970.5" font-size="7.5" text-anchor="middle" fill="#222">ALS-</text>
<text x="54.5" y="977.9" font-size="7.5" text-anchor="middle" fill="#222">non-</text>
<text x="54.5" y="985.3" font-size="7.5" text-anchor="middle" fill="#222">TDP</text>
<line x1="73.6" y1="959" x2="73.6" y2="961.4" stroke="#333" stroke-width="0.6"/>
<text x="73.6" y="970.5" font-size="7.5" text-anchor="middle" fill="#222">ALS-</text>
<text x="73.6" y="977.9" font-size="7.5" text-anchor="middle" fill="#222">TDP</text>
<line x1="92.5" y1="959" x2="92.5" y2="961.4" stroke="#333" stroke-width="0.6"/>
<text x="92.5" y="970.5" font-size="7.5" text-anchor="middle" fill="#222">FTD-</text>
<text x="92.5" y="977.9" font-size="7.5" text-anchor="middle" fill="#222">non-</text>
<text x="92.5" y="985.3" font-size="7.5" text-anchor="middle" fill="#222">TDP</text>
<line x1="111.7" y1="959" x2="111.7" y2="961.4" stroke="#333" stroke-width="0.6"/>
<text x="111.7" y="970.5" font-size="7.5" text-anchor="middle" fill="#222">FTD-</text>
<text x="111.7" y="977.9" font-size="7.5" text-anchor="middle" fill="#222">TDP</text>
<rect x="240.3" y="698.4" width="96.1" height="13.9" fill="#d9d9d9"/>
<line x1="239.95" y1="698.4" x2="336.75" y2="698.4" stroke="#333" stroke-width="0.7"/>
<line x1="240.3" y1="698.4" x2="240.3" y2="712.3" stroke="#333" stroke-width="0.7"/>
<line x1="336.4" y1="698.4" x2="336.4" y2="712.3" stroke="#333" stroke-width="0.7"/>
<text x="288.35" y="707.77" font-size="8.4" text-anchor="middle" fill="#1a1a1a">Cervical spinal cord</text>
<rect x="240.3" y="712.3" width="96.1" height="51" fill="#ffffff"/>
<line x1="240.3" y1="752.8" x2="336.4" y2="752.8" stroke="#f0f0f0" stroke-width="0.5"/>
<line x1="240.3" y1="736" x2="336.4" y2="736" stroke="#f0f0f0" stroke-width="0.5"/>
<line x1="240.3" y1="719.2" x2="336.4" y2="719.2" stroke="#f0f0f0" stroke-width="0.5"/>
<line x1="240.3" y1="761.2" x2="336.4" y2="761.2" stroke="#e6e6e6" stroke-width="0.8"/>
<line x1="240.3" y1="744.4" x2="336.4" y2="744.4" stroke="#e6e6e6" stroke-width="0.8"/>
<line x1="240.3" y1="727.6" x2="336.4" y2="727.6" stroke="#e6e6e6" stroke-width="0.8"/>
<line x1="258.7" y1="712.3" x2="258.7" y2="763.3" stroke="#e6e6e6" stroke-width="0.8"/>
<line x1="288.6" y1="712.3" x2="288.6" y2="763.3" stroke="#e6e6e6" stroke-width="0.8"/>
<line x1="318.5" y1="712.3" x2="318.5" y2="763.3" stroke="#e6e6e6" stroke-width="0.8"/>
<circle cx="246.5" cy="761.2" r="1.5" fill="#22a8a0" stroke="#1a1a1a" stroke-width="0.6"/>
<circle cx="248.22" cy="761.2" r="1.5" fill="#22a8a0" stroke="#1a1a1a" stroke-width="0.6"/>
<circle cx="249.94" cy="761.2" r="1.5" fill="#22a8a0" stroke="#1a1a1a" stroke-width="0.6"/>
<circle cx="251.66" cy="761.2" r="1.5" fill="#22a8a0" stroke="#1a1a1a" stroke-width="0.6"/>
<circle cx="253.39" cy="761.2" r="1.5" fill="#22a8a0" stroke="#1a1a1a" stroke-width="0.6"/>
<circle cx="255.11" cy="761.2" r="1.5" fill="#22a8a0" stroke="#1a1a1a" stroke-width="0.6"/>
<circle cx="256.83" cy="761.2" r="1.5" fill="#22a8a0" stroke="#1a1a1a" stroke-width="0.6"/>
<circle cx="258.55" cy="761.2" r="1.5" fill="#22a8a0" stroke="#1a1a1a" stroke-width="0.6"/>
<circle cx="260.27" cy="761.2" r="1.5" fill="#22a8a0" stroke="#1a1a1a" stroke-width="0.6"/>
<circle cx="261.99" cy="761.2" r="1.5" fill="#22a8a0" stroke="#1a1a1a" stroke-width="0.6"/>
<circle cx="263.71" cy="761.2" r="1.5" fill="#22a8a0" stroke="#1a1a1a" stroke-width="0.6"/>
<circle cx="265.44" cy="761.2" r="1.5" fill="#22a8a0" stroke="#1a1a1a" stroke-width="0.6"/>
<circle cx="267.16" cy="761.2" r="1.5" fill="#22a8a0" stroke="#1a1a1a" stroke-width="0.6"/>
<circle cx="268.88" cy="761.2" r="1.5" fill="#22a8a0" stroke="#1a1a1a" stroke-width="0.6"/>
<circle cx="270.6" cy="761.2" r="1.5" fill="#22a8a0" stroke="#1a1a1a" stroke-width="0.6"/>
<circle cx="248" cy="757.84" r="1.5" fill="#22a8a0" stroke="#1a1a1a" stroke-width="0.6"/>
<circle cx="256.7" cy="757.84" r="1.5" fill="#22a8a0" stroke="#1a1a1a" stroke-width="0.6"/>
<circle cx="258.6" cy="757.84" r="1.5" fill="#22a8a0" stroke="#1a1a1a" stroke-width="0.6"/>
<circle cx="260.5" cy="757.84" r="1.5" fill="#22a8a0" stroke="#1a1a1a" stroke-width="0.6"/>
<circle cx="267.4" cy="757.84" r="1.5" fill="#22a8a0" stroke="#1a1a1a" stroke-width="0.6"/>
<circle cx="280" cy="761.2" r="1.5" fill="#2d8a34" stroke="#1a1a1a" stroke-width="0.6"/>
<circle cx="282.5" cy="761.2" r="1.5" fill="#2d8a34" stroke="#1a1a1a" stroke-width="0.6"/>
<circle cx="290.8" cy="761.2" r="1.5" fill="#2d8a34" stroke="#1a1a1a" stroke-width="0.6"/>
<circle cx="293.3" cy="761.2" r="1.5" fill="#2d8a34" stroke="#1a1a1a" stroke-width="0.6"/>
<circle cx="295.5" cy="761.2" r="1.5" fill="#2d8a34" stroke="#1a1a1a" stroke-width="0.6"/>
<circle cx="306.7" cy="761.2" r="1.5" fill="#e6bf58" stroke="#1a1a1a" stroke-width="0.6"/>
<circle cx="308.31" cy="761.2" r="1.5" fill="#e6bf58" stroke="#1a1a1a" stroke-width="0.6"/>
<circle cx="309.91" cy="761.2" r="1.5" fill="#e6bf58" stroke="#1a1a1a" stroke-width="0.6"/>
<circle cx="311.52" cy="761.2" r="1.5" fill="#e6bf58" stroke="#1a1a1a" stroke-width="0.6"/>
<circle cx="313.13" cy="761.2" r="1.5" fill="#e6bf58" stroke="#1a1a1a" stroke-width="0.6"/>
<circle cx="314.73" cy="761.2" r="1.5" fill="#e6bf58" stroke="#1a1a1a" stroke-width="0.6"/>
<circle cx="316.34" cy="761.2" r="1.5" fill="#e6bf58" stroke="#1a1a1a" stroke-width="0.6"/>
<circle cx="317.95" cy="761.2" r="1.5" fill="#e6bf58" stroke="#1a1a1a" stroke-width="0.6"/>
<circle cx="319.55" cy="761.2" r="1.5" fill="#e6bf58" stroke="#1a1a1a" stroke-width="0.6"/>
<circle cx="321.16" cy="761.2" r="1.5" fill="#e6bf58" stroke="#1a1a1a" stroke-width="0.6"/>
<circle cx="322.77" cy="761.2" r="1.5" fill="#e6bf58" stroke="#1a1a1a" stroke-width="0.6"/>
<circle cx="324.37" cy="761.2" r="1.5" fill="#e6bf58" stroke="#1a1a1a" stroke-width="0.6"/>
<circle cx="325.98" cy="761.2" r="1.5" fill="#e6bf58" stroke="#1a1a1a" stroke-width="0.6"/>
<circle cx="327.59" cy="761.2" r="1.5" fill="#e6bf58" stroke="#1a1a1a" stroke-width="0.6"/>
<circle cx="329.19" cy="761.2" r="1.5" fill="#e6bf58" stroke="#1a1a1a" stroke-width="0.6"/>
<circle cx="330.8" cy="761.2" r="1.5" fill="#e6bf58" stroke="#1a1a1a" stroke-width="0.6"/>
<circle cx="306.7" cy="757.84" r="1.5" fill="#e6bf58" stroke="#1a1a1a" stroke-width="0.6"/>
<circle cx="308.31" cy="757.84" r="1.5" fill="#e6bf58" stroke="#1a1a1a" stroke-width="0.6"/>
<circle cx="309.91" cy="757.84" r="1.5" fill="#e6bf58" stroke="#1a1a1a" stroke-width="0.6"/>
<circle cx="311.52" cy="757.84" r="1.5" fill="#e6bf58" stroke="#1a1a1a" stroke-width="0.6"/>
<circle cx="313.13" cy="757.84" r="1.5" fill="#e6bf58" stroke="#1a1a1a" stroke-width="0.6"/>
<circle cx="314.73" cy="757.84" r="1.5" fill="#e6bf58" stroke="#1a1a1a" stroke-width="0.6"/>
<circle cx="316.34" cy="757.84" r="1.5" fill="#e6bf58" stroke="#1a1a1a" stroke-width="0.6"/>
<circle cx="317.95" cy="757.84" r="1.5" fill="#e6bf58" stroke="#1a1a1a" stroke-width="0.6"/>
<circle cx="319.55" cy="757.84" r="1.5" fill="#e6bf58" stroke="#1a1a1a" stroke-width="0.6"/>
<circle cx="321.16" cy="757.84" r="1.5" fill="#e6bf58" stroke="#1a1a1a" stroke-width="0.6"/>
<circle cx="322.77" cy="757.84" r="1.5" fill="#e6bf58" stroke="#1a1a1a" stroke-width="0.6"/>
<circle cx="324.37" cy="757.84" r="1.5" fill="#e6bf58" stroke="#1a1a1a" stroke-width="0.6"/>
<circle cx="325.98" cy="757.84" r="1.5" fill="#e6bf58" stroke="#1a1a1a" stroke-width="0.6"/>
<circle cx="327.59" cy="757.84" r="1.5" fill="#e6bf58" stroke="#1a1a1a" stroke-width="0.6"/>
<circle cx="329.19" cy="757.84" r="1.5" fill="#e6bf58" stroke="#1a1a1a" stroke-width="0.6"/>
<circle cx="330.8" cy="757.84" r="1.5" fill="#e6bf58" stroke="#1a1a1a" stroke-width="0.6"/>
<circle cx="306.7" cy="754.48" r="1.5" fill="#e6bf58" stroke="#1a1a1a" stroke-width="0.6"/>
<circle cx="308.36" cy="754.48" r="1.5" fill="#e6bf58" stroke="#1a1a1a" stroke-width="0.6"/>
<circle cx="310.03" cy="754.48" r="1.5" fill="#e6bf58" stroke="#1a1a1a" stroke-width="0.6"/>
<circle cx="311.69" cy="754.48" r="1.5" fill="#e6bf58" stroke="#1a1a1a" stroke-width="0.6"/>
<circle cx="313.36" cy="754.48" r="1.5" fill="#e6bf58" stroke="#1a1a1a" stroke-width="0.6"/>
<circle cx="315.02" cy="754.48" r="1.5" fill="#e6bf58" stroke="#1a1a1a" stroke-width="0.6"/>
<circle cx="316.69" cy="754.48" r="1.5" fill="#e6bf58" stroke="#1a1a1a" stroke-width="0.6"/>
<circle cx="318.35" cy="754.48" r="1.5" fill="#e6bf58" stroke="#1a1a1a" stroke-width="0.6"/>
<circle cx="320.01" cy="754.48" r="1.5" fill="#e6bf58" stroke="#1a1a1a" stroke-width="0.6"/>
<circle cx="321.68" cy="754.48" r="1.5" fill="#e6bf58" stroke="#1a1a1a" stroke-width="0.6"/>
<circle cx="323.34" cy="754.48" r="1.5" fill="#e6bf58" stroke="#1a1a1a" stroke-width="0.6"/>
<circle cx="325.01" cy="754.48" r="1.5" fill="#e6bf58" stroke="#1a1a1a" stroke-width="0.6"/>
<circle cx="326.67" cy="754.48" r="1.5" fill="#e6bf58" stroke="#1a1a1a" stroke-width="0.6"/>
<circle cx="328.34" cy="754.48" r="1.5" fill="#e6bf58" stroke="#1a1a1a" stroke-width="0.6"/>
<circle cx="330" cy="754.48" r="1.5" fill="#e6bf58" stroke="#1a1a1a" stroke-width="0.6"/>
<circle cx="312.1" cy="751.12" r="1.5" fill="#e6bf58" stroke="#1a1a1a" stroke-width="0.6"/>
<circle cx="313.66" cy="751.12" r="1.5" fill="#e6bf58" stroke="#1a1a1a" stroke-width="0.6"/>
<circle cx="315.23" cy="751.12" r="1.5" fill="#e6bf58" stroke="#1a1a1a" stroke-width="0.6"/>
<circle cx="316.79" cy="751.12" r="1.5" fill="#e6bf58" stroke="#1a1a1a" stroke-width="0.6"/>
<circle cx="318.35" cy="751.12" r="1.5" fill="#e6bf58" stroke="#1a1a1a" stroke-width="0.6"/>
<circle cx="319.92" cy="751.12" r="1.5" fill="#e6bf58" stroke="#1a1a1a" stroke-width="0.6"/>
<circle cx="321.48" cy="751.12" r="1.5" fill="#e6bf58" stroke="#1a1a1a" stroke-width="0.6"/>
<circle cx="323.05" cy="751.12" r="1.5" fill="#e6bf58" stroke="#1a1a1a" stroke-width="0.6"/>
<circle cx="324.61" cy="751.12" r="1.5" fill="#e6bf58" stroke="#1a1a1a" stroke-width="0.6"/>
<circle cx="326.17" cy="751.12" r="1.5" fill="#e6bf58" stroke="#1a1a1a" stroke-width="0.6"/>
<circle cx="327.74" cy="751.12" r="1.5" fill="#e6bf58" stroke="#1a1a1a" stroke-width="0.6"/>
<circle cx="329.3" cy="751.12" r="1.5" fill="#e6bf58" stroke="#1a1a1a" stroke-width="0.6"/>
<circle cx="307.3" cy="747.76" r="1.5" fill="#e6bf58" stroke="#1a1a1a" stroke-width="0.6"/>
<circle cx="311.1" cy="747.76" r="1.5" fill="#e6bf58" stroke="#1a1a1a" stroke-width="0.6"/>
<circle cx="312.6" cy="747.76" r="1.5" fill="#e6bf58" stroke="#1a1a1a" stroke-width="0.6"/>
<circle cx="316.5" cy="747.76" r="1.5" fill="#e6bf58" stroke="#1a1a1a" stroke-width="0.6"/>
<circle cx="326.4" cy="747.76" r="1.5" fill="#e6bf58" stroke="#1a1a1a" stroke-width="0.6"/>
<circle cx="328" cy="747.76" r="1.5" fill="#e6bf58" stroke="#1a1a1a" stroke-width="0.6"/>
<circle cx="307" cy="744.4" r="1.5" fill="#e6bf58" stroke="#1a1a1a" stroke-width="0.6"/>
<circle cx="316.5" cy="744.4" r="1.5" fill="#e6bf58" stroke="#1a1a1a" stroke-width="0.6"/>
<circle cx="317" cy="741.04" r="1.5" fill="#e6bf58" stroke="#1a1a1a" stroke-width="0.6"/>
<circle cx="327.7" cy="741.04" r="1.5" fill="#e6bf58" stroke="#1a1a1a" stroke-width="0.6"/>
<line x1="240.3" y1="712.3" x2="240.3" y2="763.3" stroke="#333" stroke-width="0.8"/>
<line x1="336.4" y1="712.3" x2="336.4" y2="763.3" stroke="#333" stroke-width="0.8"/>
<line x1="239.9" y1="763.3" x2="336.8" y2="763.3" stroke="#333" stroke-width="0.8"/>
<line x1="240.3" y1="712.3" x2="336.4" y2="712.3" stroke="#a6a6a6" stroke-width="1"/>
<line x1="237.9" y1="761.2" x2="240.3" y2="761.2" stroke="#333" stroke-width="0.6"/>
<text x="235.3" y="763.94" font-size="7.6" text-anchor="end" fill="#222">0</text>
<line x1="237.9" y1="744.4" x2="240.3" y2="744.4" stroke="#333" stroke-width="0.6"/>
<text x="235.3" y="747.14" font-size="7.6" text-anchor="end" fill="#222">5</text>
<line x1="237.9" y1="727.6" x2="240.3" y2="727.6" stroke="#333" stroke-width="0.6"/>
<text x="235.3" y="730.34" font-size="7.6" text-anchor="end" fill="#222">10</text>
<line x1="258.7" y1="763.3" x2="258.7" y2="765.7" stroke="#333" stroke-width="0.6"/>
<text x="258.7" y="774.8" font-size="7.5" text-anchor="middle" fill="#222">Ctrl</text>
<line x1="288.6" y1="763.3" x2="288.6" y2="765.7" stroke="#333" stroke-width="0.6"/>
<text x="288.6" y="774.8" font-size="7.5" text-anchor="middle" fill="#222">ALS-</text>
<text x="288.6" y="782.2" font-size="7.5" text-anchor="middle" fill="#222">non-</text>
<text x="288.6" y="789.6" font-size="7.5" text-anchor="middle" fill="#222">TDP</text>
<line x1="318.5" y1="763.3" x2="318.5" y2="765.7" stroke="#333" stroke-width="0.6"/>
<text x="318.5" y="774.8" font-size="7.5" text-anchor="middle" fill="#222">ALS-</text>
<text x="318.5" y="782.2" font-size="7.5" text-anchor="middle" fill="#222">TDP</text>
<rect x="341.3" y="698.4" width="96.7" height="13.9" fill="#d9d9d9"/>
<line x1="340.95" y1="698.4" x2="438.35" y2="698.4" stroke="#333" stroke-width="0.7"/>
<line x1="341.3" y1="698.4" x2="341.3" y2="712.3" stroke="#333" stroke-width="0.7"/>
<line x1="438" y1="698.4" x2="438" y2="712.3" stroke="#333" stroke-width="0.7"/>
<text x="389.65" y="707.77" font-size="8.4" text-anchor="middle" fill="#1a1a1a">Lumbar spinal cord</text>
<rect x="341.3" y="712.3" width="96.7" height="51" fill="#ffffff"/>
<line x1="341.3" y1="752.8" x2="438" y2="752.8" stroke="#f0f0f0" stroke-width="0.5"/>
<line x1="341.3" y1="736" x2="438" y2="736" stroke="#f0f0f0" stroke-width="0.5"/>
<line x1="341.3" y1="719.2" x2="438" y2="719.2" stroke="#f0f0f0" stroke-width="0.5"/>
<line x1="341.3" y1="761.2" x2="438" y2="761.2" stroke="#e6e6e6" stroke-width="0.8"/>
<line x1="341.3" y1="744.4" x2="438" y2="744.4" stroke="#e6e6e6" stroke-width="0.8"/>
<line x1="341.3" y1="727.6" x2="438" y2="727.6" stroke="#e6e6e6" stroke-width="0.8"/>
<line x1="359.7" y1="712.3" x2="359.7" y2="763.3" stroke="#e6e6e6" stroke-width="0.8"/>
<line x1="389.6" y1="712.3" x2="389.6" y2="763.3" stroke="#e6e6e6" stroke-width="0.8"/>
<line x1="419.5" y1="712.3" x2="419.5" y2="763.3" stroke="#e6e6e6" stroke-width="0.8"/>
<circle cx="348" cy="761.2" r="1.5" fill="#22a8a0" stroke="#1a1a1a" stroke-width="0.6"/>
<circle cx="349.69" cy="761.2" r="1.5" fill="#22a8a0" stroke="#1a1a1a" stroke-width="0.6"/>
<circle cx="351.38" cy="761.2" r="1.5" fill="#22a8a0" stroke="#1a1a1a" stroke-width="0.6"/>
<circle cx="353.08" cy="761.2" r="1.5" fill="#22a8a0" stroke="#1a1a1a" stroke-width="0.6"/>
<circle cx="354.77" cy="761.2" r="1.5" fill="#22a8a0" stroke="#1a1a1a" stroke-width="0.6"/>
<circle cx="356.46" cy="761.2" r="1.5" fill="#22a8a0" stroke="#1a1a1a" stroke-width="0.6"/>
<circle cx="358.15" cy="761.2" r="1.5" fill="#22a8a0" stroke="#1a1a1a" stroke-width="0.6"/>
<circle cx="359.85" cy="761.2" r="1.5" fill="#22a8a0" stroke="#1a1a1a" stroke-width="0.6"/>
<circle cx="361.54" cy="761.2" r="1.5" fill="#22a8a0" stroke="#1a1a1a" stroke-width="0.6"/>
<circle cx="363.23" cy="761.2" r="1.5" fill="#22a8a0" stroke="#1a1a1a" stroke-width="0.6"/>
<circle cx="364.92" cy="761.2" r="1.5" fill="#22a8a0" stroke="#1a1a1a" stroke-width="0.6"/>
<circle cx="366.62" cy="761.2" r="1.5" fill="#22a8a0" stroke="#1a1a1a" stroke-width="0.6"/>
<circle cx="368.31" cy="761.2" r="1.5" fill="#22a8a0" stroke="#1a1a1a" stroke-width="0.6"/>
<circle cx="370" cy="761.2" r="1.5" fill="#22a8a0" stroke="#1a1a1a" stroke-width="0.6"/>
<circle cx="350.5" cy="757.84" r="1.5" fill="#22a8a0" stroke="#1a1a1a" stroke-width="0.6"/>
<circle cx="366.6" cy="737.68" r="1.5" fill="#22a8a0" stroke="#1a1a1a" stroke-width="0.6"/>
<circle cx="377.3" cy="761.2" r="1.5" fill="#2d8a34" stroke="#1a1a1a" stroke-width="0.6"/>
<circle cx="383.4" cy="761.2" r="1.5" fill="#2d8a34" stroke="#1a1a1a" stroke-width="0.6"/>
<circle cx="387.3" cy="761.2" r="1.5" fill="#2d8a34" stroke="#1a1a1a" stroke-width="0.6"/>
<circle cx="395.2" cy="761.2" r="1.5" fill="#2d8a34" stroke="#1a1a1a" stroke-width="0.6"/>
<circle cx="407.7" cy="761.2" r="1.5" fill="#e6bf58" stroke="#1a1a1a" stroke-width="0.6"/>
<circle cx="409.31" cy="761.2" r="1.5" fill="#e6bf58" stroke="#1a1a1a" stroke-width="0.6"/>
<circle cx="410.91" cy="761.2" r="1.5" fill="#e6bf58" stroke="#1a1a1a" stroke-width="0.6"/>
<circle cx="412.52" cy="761.2" r="1.5" fill="#e6bf58" stroke="#1a1a1a" stroke-width="0.6"/>
<circle cx="414.13" cy="761.2" r="1.5" fill="#e6bf58" stroke="#1a1a1a" stroke-width="0.6"/>
<circle cx="415.73" cy="761.2" r="1.5" fill="#e6bf58" stroke="#1a1a1a" stroke-width="0.6"/>
<circle cx="417.34" cy="761.2" r="1.5" fill="#e6bf58" stroke="#1a1a1a" stroke-width="0.6"/>
<circle cx="418.95" cy="761.2" r="1.5" fill="#e6bf58" stroke="#1a1a1a" stroke-width="0.6"/>
<circle cx="420.55" cy="761.2" r="1.5" fill="#e6bf58" stroke="#1a1a1a" stroke-width="0.6"/>
<circle cx="422.16" cy="761.2" r="1.5" fill="#e6bf58" stroke="#1a1a1a" stroke-width="0.6"/>
<circle cx="423.77" cy="761.2" r="1.5" fill="#e6bf58" stroke="#1a1a1a" stroke-width="0.6"/>
<circle cx="425.37" cy="761.2" r="1.5" fill="#e6bf58" stroke="#1a1a1a" stroke-width="0.6"/>
<circle cx="426.98" cy="761.2" r="1.5" fill="#e6bf58" stroke="#1a1a1a" stroke-width="0.6"/>
<circle cx="428.59" cy="761.2" r="1.5" fill="#e6bf58" stroke="#1a1a1a" stroke-width="0.6"/>
<circle cx="430.19" cy="761.2" r="1.5" fill="#e6bf58" stroke="#1a1a1a" stroke-width="0.6"/>
<circle cx="431.8" cy="761.2" r="1.5" fill="#e6bf58" stroke="#1a1a1a" stroke-width="0.6"/>
<circle cx="407.7" cy="757.84" r="1.5" fill="#e6bf58" stroke="#1a1a1a" stroke-width="0.6"/>
<circle cx="409.42" cy="757.84" r="1.5" fill="#e6bf58" stroke="#1a1a1a" stroke-width="0.6"/>
<circle cx="411.14" cy="757.84" r="1.5" fill="#e6bf58" stroke="#1a1a1a" stroke-width="0.6"/>
<circle cx="412.86" cy="757.84" r="1.5" fill="#e6bf58" stroke="#1a1a1a" stroke-width="0.6"/>
<circle cx="414.59" cy="757.84" r="1.5" fill="#e6bf58" stroke="#1a1a1a" stroke-width="0.6"/>
<circle cx="416.31" cy="757.84" r="1.5" fill="#e6bf58" stroke="#1a1a1a" stroke-width="0.6"/>
<circle cx="418.03" cy="757.84" r="1.5" fill="#e6bf58" stroke="#1a1a1a" stroke-width="0.6"/>
<circle cx="419.75" cy="757.84" r="1.5" fill="#e6bf58" stroke="#1a1a1a" stroke-width="0.6"/>
<circle cx="421.47" cy="757.84" r="1.5" fill="#e6bf58" stroke="#1a1a1a" stroke-width="0.6"/>
<circle cx="423.19" cy="757.84" r="1.5" fill="#e6bf58" stroke="#1a1a1a" stroke-width="0.6"/>
<circle cx="424.91" cy="757.84" r="1.5" fill="#e6bf58" stroke="#1a1a1a" stroke-width="0.6"/>
<circle cx="426.64" cy="757.84" r="1.5" fill="#e6bf58" stroke="#1a1a1a" stroke-width="0.6"/>
<circle cx="428.36" cy="757.84" r="1.5" fill="#e6bf58" stroke="#1a1a1a" stroke-width="0.6"/>
<circle cx="430.08" cy="757.84" r="1.5" fill="#e6bf58" stroke="#1a1a1a" stroke-width="0.6"/>
<circle cx="431.8" cy="757.84" r="1.5" fill="#e6bf58" stroke="#1a1a1a" stroke-width="0.6"/>
<circle cx="409" cy="754.48" r="1.5" fill="#e6bf58" stroke="#1a1a1a" stroke-width="0.6"/>
<circle cx="410.69" cy="754.48" r="1.5" fill="#e6bf58" stroke="#1a1a1a" stroke-width="0.6"/>
<circle cx="412.38" cy="754.48" r="1.5" fill="#e6bf58" stroke="#1a1a1a" stroke-width="0.6"/>
<circle cx="414.08" cy="754.48" r="1.5" fill="#e6bf58" stroke="#1a1a1a" stroke-width="0.6"/>
<circle cx="415.77" cy="754.48" r="1.5" fill="#e6bf58" stroke="#1a1a1a" stroke-width="0.6"/>
<circle cx="417.46" cy="754.48" r="1.5" fill="#e6bf58" stroke="#1a1a1a" stroke-width="0.6"/>
<circle cx="419.15" cy="754.48" r="1.5" fill="#e6bf58" stroke="#1a1a1a" stroke-width="0.6"/>
<circle cx="420.85" cy="754.48" r="1.5" fill="#e6bf58" stroke="#1a1a1a" stroke-width="0.6"/>
<circle cx="422.54" cy="754.48" r="1.5" fill="#e6bf58" stroke="#1a1a1a" stroke-width="0.6"/>
<circle cx="424.23" cy="754.48" r="1.5" fill="#e6bf58" stroke="#1a1a1a" stroke-width="0.6"/>
<circle cx="425.92" cy="754.48" r="1.5" fill="#e6bf58" stroke="#1a1a1a" stroke-width="0.6"/>
<circle cx="427.62" cy="754.48" r="1.5" fill="#e6bf58" stroke="#1a1a1a" stroke-width="0.6"/>
<circle cx="429.31" cy="754.48" r="1.5" fill="#e6bf58" stroke="#1a1a1a" stroke-width="0.6"/>
<circle cx="431" cy="754.48" r="1.5" fill="#e6bf58" stroke="#1a1a1a" stroke-width="0.6"/>
<circle cx="409" cy="751.12" r="1.5" fill="#e6bf58" stroke="#1a1a1a" stroke-width="0.6"/>
<circle cx="413.6" cy="751.12" r="1.5" fill="#e6bf58" stroke="#1a1a1a" stroke-width="0.6"/>
<circle cx="417.5" cy="751.12" r="1.5" fill="#e6bf58" stroke="#1a1a1a" stroke-width="0.6"/>
<circle cx="425.1" cy="751.12" r="1.5" fill="#e6bf58" stroke="#1a1a1a" stroke-width="0.6"/>
<circle cx="407.5" cy="747.76" r="1.5" fill="#e6bf58" stroke="#1a1a1a" stroke-width="0.6"/>
<circle cx="416.7" cy="747.76" r="1.5" fill="#e6bf58" stroke="#1a1a1a" stroke-width="0.6"/>
<circle cx="423.6" cy="747.76" r="1.5" fill="#e6bf58" stroke="#1a1a1a" stroke-width="0.6"/>
<circle cx="430.5" cy="747.76" r="1.5" fill="#e6bf58" stroke="#1a1a1a" stroke-width="0.6"/>
<circle cx="411.3" cy="744.4" r="1.5" fill="#e6bf58" stroke="#1a1a1a" stroke-width="0.6"/>
<circle cx="424.4" cy="744.4" r="1.5" fill="#e6bf58" stroke="#1a1a1a" stroke-width="0.6"/>
<circle cx="427.4" cy="741.04" r="1.5" fill="#e6bf58" stroke="#1a1a1a" stroke-width="0.6"/>
<circle cx="429" cy="741.04" r="1.5" fill="#e6bf58" stroke="#1a1a1a" stroke-width="0.6"/>
<circle cx="421" cy="737.68" r="1.5" fill="#e6bf58" stroke="#1a1a1a" stroke-width="0.6"/>
<circle cx="426.4" cy="737.68" r="1.5" fill="#e6bf58" stroke="#1a1a1a" stroke-width="0.6"/>
<circle cx="428.2" cy="734.32" r="1.5" fill="#e6bf58" stroke="#1a1a1a" stroke-width="0.6"/>
<circle cx="430.8" cy="734.32" r="1.5" fill="#e6bf58" stroke="#1a1a1a" stroke-width="0.6"/>
<circle cx="426.4" cy="717.52" r="1.5" fill="#e6bf58" stroke="#1a1a1a" stroke-width="0.6"/>
<circle cx="414.9" cy="714.16" r="1.5" fill="#e6bf58" stroke="#1a1a1a" stroke-width="0.6"/>
<line x1="341.3" y1="712.3" x2="341.3" y2="763.3" stroke="#333" stroke-width="0.8"/>
<line x1="438" y1="712.3" x2="438" y2="763.3" stroke="#333" stroke-width="0.8"/>
<line x1="340.9" y1="763.3" x2="438.4" y2="763.3" stroke="#333" stroke-width="0.8"/>
<line x1="341.3" y1="712.3" x2="438" y2="712.3" stroke="#a6a6a6" stroke-width="1"/>
<line x1="359.7" y1="763.3" x2="359.7" y2="765.7" stroke="#333" stroke-width="0.6"/>
<text x="359.7" y="774.8" font-size="7.5" text-anchor="middle" fill="#222">Ctrl</text>
<line x1="389.6" y1="763.3" x2="389.6" y2="765.7" stroke="#333" stroke-width="0.6"/>
<text x="389.6" y="774.8" font-size="7.5" text-anchor="middle" fill="#222">ALS-</text>
<text x="389.6" y="782.2" font-size="7.5" text-anchor="middle" fill="#222">non-</text>
<text x="389.6" y="789.6" font-size="7.5" text-anchor="middle" fill="#222">TDP</text>
<line x1="419.5" y1="763.3" x2="419.5" y2="765.7" stroke="#333" stroke-width="0.6"/>
<text x="419.5" y="774.8" font-size="7.5" text-anchor="middle" fill="#222">ALS-</text>
<text x="419.5" y="782.2" font-size="7.5" text-anchor="middle" fill="#222">TDP</text>
<rect x="240.3" y="796.2" width="96.1" height="14.2" fill="#d9d9d9"/>
<line x1="239.95" y1="796.2" x2="336.75" y2="796.2" stroke="#333" stroke-width="0.7"/>
<line x1="240.3" y1="796.2" x2="240.3" y2="810.4" stroke="#333" stroke-width="0.7"/>
<line x1="336.4" y1="796.2" x2="336.4" y2="810.4" stroke="#333" stroke-width="0.7"/>
<text x="288.35" y="805.72" font-size="8.4" text-anchor="middle" fill="#1a1a1a">Motor cortex</text>
<rect x="240.3" y="810.4" width="96.1" height="50.9" fill="#ffffff"/>
<line x1="240.3" y1="851" x2="336.4" y2="851" stroke="#f0f0f0" stroke-width="0.5"/>
<line x1="240.3" y1="834.2" x2="336.4" y2="834.2" stroke="#f0f0f0" stroke-width="0.5"/>
<line x1="240.3" y1="817.4" x2="336.4" y2="817.4" stroke="#f0f0f0" stroke-width="0.5"/>
<line x1="240.3" y1="859.4" x2="336.4" y2="859.4" stroke="#e6e6e6" stroke-width="0.8"/>
<line x1="240.3" y1="842.6" x2="336.4" y2="842.6" stroke="#e6e6e6" stroke-width="0.8"/>
<line x1="240.3" y1="825.8" x2="336.4" y2="825.8" stroke="#e6e6e6" stroke-width="0.8"/>
<line x1="258.7" y1="810.4" x2="258.7" y2="861.3" stroke="#e6e6e6" stroke-width="0.8"/>
<line x1="288.6" y1="810.4" x2="288.6" y2="861.3" stroke="#e6e6e6" stroke-width="0.8"/>
<line x1="318.5" y1="810.4" x2="318.5" y2="861.3" stroke="#e6e6e6" stroke-width="0.8"/>
<circle cx="247.4" cy="859.4" r="1.5" fill="#22a8a0" stroke="#1a1a1a" stroke-width="0.6"/>
<circle cx="249.06" cy="859.4" r="1.5" fill="#22a8a0" stroke="#1a1a1a" stroke-width="0.6"/>
<circle cx="250.71" cy="859.4" r="1.5" fill="#22a8a0" stroke="#1a1a1a" stroke-width="0.6"/>
<circle cx="252.37" cy="859.4" r="1.5" fill="#22a8a0" stroke="#1a1a1a" stroke-width="0.6"/>
<circle cx="254.03" cy="859.4" r="1.5" fill="#22a8a0" stroke="#1a1a1a" stroke-width="0.6"/>
<circle cx="255.69" cy="859.4" r="1.5" fill="#22a8a0" stroke="#1a1a1a" stroke-width="0.6"/>
<circle cx="257.34" cy="859.4" r="1.5" fill="#22a8a0" stroke="#1a1a1a" stroke-width="0.6"/>
<circle cx="259" cy="859.4" r="1.5" fill="#22a8a0" stroke="#1a1a1a" stroke-width="0.6"/>
<circle cx="260.66" cy="859.4" r="1.5" fill="#22a8a0" stroke="#1a1a1a" stroke-width="0.6"/>
<circle cx="262.31" cy="859.4" r="1.5" fill="#22a8a0" stroke="#1a1a1a" stroke-width="0.6"/>
<circle cx="263.97" cy="859.4" r="1.5" fill="#22a8a0" stroke="#1a1a1a" stroke-width="0.6"/>
<circle cx="265.63" cy="859.4" r="1.5" fill="#22a8a0" stroke="#1a1a1a" stroke-width="0.6"/>
<circle cx="267.29" cy="859.4" r="1.5" fill="#22a8a0" stroke="#1a1a1a" stroke-width="0.6"/>
<circle cx="268.94" cy="859.4" r="1.5" fill="#22a8a0" stroke="#1a1a1a" stroke-width="0.6"/>
<circle cx="270.6" cy="859.4" r="1.5" fill="#22a8a0" stroke="#1a1a1a" stroke-width="0.6"/>
<circle cx="260.5" cy="856.04" r="1.5" fill="#22a8a0" stroke="#1a1a1a" stroke-width="0.6"/>
<circle cx="262.8" cy="856.04" r="1.5" fill="#22a8a0" stroke="#1a1a1a" stroke-width="0.6"/>
<circle cx="265.1" cy="856.04" r="1.5" fill="#22a8a0" stroke="#1a1a1a" stroke-width="0.6"/>
<circle cx="281.2" cy="859.4" r="1.5" fill="#2d8a34" stroke="#1a1a1a" stroke-width="0.6"/>
<circle cx="283.5" cy="859.4" r="1.5" fill="#2d8a34" stroke="#1a1a1a" stroke-width="0.6"/>
<circle cx="286" cy="859.4" r="1.5" fill="#2d8a34" stroke="#1a1a1a" stroke-width="0.6"/>
<circle cx="288.2" cy="859.4" r="1.5" fill="#2d8a34" stroke="#1a1a1a" stroke-width="0.6"/>
<circle cx="290.4" cy="859.4" r="1.5" fill="#2d8a34" stroke="#1a1a1a" stroke-width="0.6"/>
<circle cx="294.2" cy="859.4" r="1.5" fill="#2d8a34" stroke="#1a1a1a" stroke-width="0.6"/>
<circle cx="296.9" cy="859.4" r="1.5" fill="#2d8a34" stroke="#1a1a1a" stroke-width="0.6"/>
<circle cx="299.6" cy="859.4" r="1.5" fill="#2d8a34" stroke="#1a1a1a" stroke-width="0.6"/>
<circle cx="306.7" cy="859.4" r="1.5" fill="#e6bf58" stroke="#1a1a1a" stroke-width="0.6"/>
<circle cx="308.36" cy="859.4" r="1.5" fill="#e6bf58" stroke="#1a1a1a" stroke-width="0.6"/>
<circle cx="310.03" cy="859.4" r="1.5" fill="#e6bf58" stroke="#1a1a1a" stroke-width="0.6"/>
<circle cx="311.69" cy="859.4" r="1.5" fill="#e6bf58" stroke="#1a1a1a" stroke-width="0.6"/>
<circle cx="313.36" cy="859.4" r="1.5" fill="#e6bf58" stroke="#1a1a1a" stroke-width="0.6"/>
<circle cx="315.02" cy="859.4" r="1.5" fill="#e6bf58" stroke="#1a1a1a" stroke-width="0.6"/>
<circle cx="316.69" cy="859.4" r="1.5" fill="#e6bf58" stroke="#1a1a1a" stroke-width="0.6"/>
<circle cx="318.35" cy="859.4" r="1.5" fill="#e6bf58" stroke="#1a1a1a" stroke-width="0.6"/>
<circle cx="320.01" cy="859.4" r="1.5" fill="#e6bf58" stroke="#1a1a1a" stroke-width="0.6"/>
<circle cx="321.68" cy="859.4" r="1.5" fill="#e6bf58" stroke="#1a1a1a" stroke-width="0.6"/>
<circle cx="323.34" cy="859.4" r="1.5" fill="#e6bf58" stroke="#1a1a1a" stroke-width="0.6"/>
<circle cx="325.01" cy="859.4" r="1.5" fill="#e6bf58" stroke="#1a1a1a" stroke-width="0.6"/>
<circle cx="326.67" cy="859.4" r="1.5" fill="#e6bf58" stroke="#1a1a1a" stroke-width="0.6"/>
<circle cx="328.34" cy="859.4" r="1.5" fill="#e6bf58" stroke="#1a1a1a" stroke-width="0.6"/>
<circle cx="330" cy="859.4" r="1.5" fill="#e6bf58" stroke="#1a1a1a" stroke-width="0.6"/>
<circle cx="306.7" cy="856.04" r="1.5" fill="#e6bf58" stroke="#1a1a1a" stroke-width="0.6"/>
<circle cx="308.36" cy="856.04" r="1.5" fill="#e6bf58" stroke="#1a1a1a" stroke-width="0.6"/>
<circle cx="310.03" cy="856.04" r="1.5" fill="#e6bf58" stroke="#1a1a1a" stroke-width="0.6"/>
<circle cx="311.69" cy="856.04" r="1.5" fill="#e6bf58" stroke="#1a1a1a" stroke-width="0.6"/>
<circle cx="313.36" cy="856.04" r="1.5" fill="#e6bf58" stroke="#1a1a1a" stroke-width="0.6"/>
<circle cx="315.02" cy="856.04" r="1.5" fill="#e6bf58" stroke="#1a1a1a" stroke-width="0.6"/>
<circle cx="316.69" cy="856.04" r="1.5" fill="#e6bf58" stroke="#1a1a1a" stroke-width="0.6"/>
<circle cx="318.35" cy="856.04" r="1.5" fill="#e6bf58" stroke="#1a1a1a" stroke-width="0.6"/>
<circle cx="320.01" cy="856.04" r="1.5" fill="#e6bf58" stroke="#1a1a1a" stroke-width="0.6"/>
<circle cx="321.68" cy="856.04" r="1.5" fill="#e6bf58" stroke="#1a1a1a" stroke-width="0.6"/>
<circle cx="323.34" cy="856.04" r="1.5" fill="#e6bf58" stroke="#1a1a1a" stroke-width="0.6"/>
<circle cx="325.01" cy="856.04" r="1.5" fill="#e6bf58" stroke="#1a1a1a" stroke-width="0.6"/>
<circle cx="326.67" cy="856.04" r="1.5" fill="#e6bf58" stroke="#1a1a1a" stroke-width="0.6"/>
<circle cx="328.34" cy="856.04" r="1.5" fill="#e6bf58" stroke="#1a1a1a" stroke-width="0.6"/>
<circle cx="330" cy="856.04" r="1.5" fill="#e6bf58" stroke="#1a1a1a" stroke-width="0.6"/>
<circle cx="307" cy="852.68" r="1.5" fill="#e6bf58" stroke="#1a1a1a" stroke-width="0.6"/>
<circle cx="308.65" cy="852.68" r="1.5" fill="#e6bf58" stroke="#1a1a1a" stroke-width="0.6"/>
<circle cx="310.31" cy="852.68" r="1.5" fill="#e6bf58" stroke="#1a1a1a" stroke-width="0.6"/>
<circle cx="311.96" cy="852.68" r="1.5" fill="#e6bf58" stroke="#1a1a1a" stroke-width="0.6"/>
<circle cx="313.62" cy="852.68" r="1.5" fill="#e6bf58" stroke="#1a1a1a" stroke-width="0.6"/>
<circle cx="315.27" cy="852.68" r="1.5" fill="#e6bf58" stroke="#1a1a1a" stroke-width="0.6"/>
<circle cx="316.92" cy="852.68" r="1.5" fill="#e6bf58" stroke="#1a1a1a" stroke-width="0.6"/>
<circle cx="318.58" cy="852.68" r="1.5" fill="#e6bf58" stroke="#1a1a1a" stroke-width="0.6"/>
<circle cx="320.23" cy="852.68" r="1.5" fill="#e6bf58" stroke="#1a1a1a" stroke-width="0.6"/>
<circle cx="321.88" cy="852.68" r="1.5" fill="#e6bf58" stroke="#1a1a1a" stroke-width="0.6"/>
<circle cx="323.54" cy="852.68" r="1.5" fill="#e6bf58" stroke="#1a1a1a" stroke-width="0.6"/>
<circle cx="325.19" cy="852.68" r="1.5" fill="#e6bf58" stroke="#1a1a1a" stroke-width="0.6"/>
<circle cx="326.85" cy="852.68" r="1.5" fill="#e6bf58" stroke="#1a1a1a" stroke-width="0.6"/>
<circle cx="328.5" cy="852.68" r="1.5" fill="#e6bf58" stroke="#1a1a1a" stroke-width="0.6"/>
<circle cx="313.4" cy="849.32" r="1.5" fill="#e6bf58" stroke="#1a1a1a" stroke-width="0.6"/>
<circle cx="317" cy="849.32" r="1.5" fill="#e6bf58" stroke="#1a1a1a" stroke-width="0.6"/>
<circle cx="323.1" cy="849.32" r="1.5" fill="#e6bf58" stroke="#1a1a1a" stroke-width="0.6"/>
<circle cx="330.6" cy="849.32" r="1.5" fill="#e6bf58" stroke="#1a1a1a" stroke-width="0.6"/>
<circle cx="326.4" cy="845.96" r="1.5" fill="#e6bf58" stroke="#1a1a1a" stroke-width="0.6"/>
<circle cx="315" cy="842.6" r="1.5" fill="#e6bf58" stroke="#1a1a1a" stroke-width="0.6"/>
<circle cx="309.6" cy="839.24" r="1.5" fill="#e6bf58" stroke="#1a1a1a" stroke-width="0.6"/>
<circle cx="318.8" cy="832.52" r="1.5" fill="#e6bf58" stroke="#1a1a1a" stroke-width="0.6"/>
<line x1="240.3" y1="810.4" x2="240.3" y2="861.3" stroke="#333" stroke-width="0.8"/>
<line x1="336.4" y1="810.4" x2="336.4" y2="861.3" stroke="#333" stroke-width="0.8"/>
<line x1="239.9" y1="861.3" x2="336.8" y2="861.3" stroke="#333" stroke-width="0.8"/>
<line x1="240.3" y1="810.4" x2="336.4" y2="810.4" stroke="#a6a6a6" stroke-width="1"/>
<line x1="237.9" y1="859.4" x2="240.3" y2="859.4" stroke="#333" stroke-width="0.6"/>
<text x="235.3" y="862.14" font-size="7.6" text-anchor="end" fill="#222">0</text>
<line x1="237.9" y1="842.6" x2="240.3" y2="842.6" stroke="#333" stroke-width="0.6"/>
<text x="235.3" y="845.34" font-size="7.6" text-anchor="end" fill="#222">5</text>
<line x1="237.9" y1="825.8" x2="240.3" y2="825.8" stroke="#333" stroke-width="0.6"/>
<text x="235.3" y="828.54" font-size="7.6" text-anchor="end" fill="#222">10</text>
<line x1="258.7" y1="861.3" x2="258.7" y2="863.7" stroke="#333" stroke-width="0.6"/>
<text x="258.7" y="872.8" font-size="7.5" text-anchor="middle" fill="#222">Ctrl</text>
<line x1="288.6" y1="861.3" x2="288.6" y2="863.7" stroke="#333" stroke-width="0.6"/>
<text x="288.6" y="872.8" font-size="7.5" text-anchor="middle" fill="#222">ALS-</text>
<text x="288.6" y="880.2" font-size="7.5" text-anchor="middle" fill="#222">non-</text>
<text x="288.6" y="887.6" font-size="7.5" text-anchor="middle" fill="#222">TDP</text>
<line x1="318.5" y1="861.3" x2="318.5" y2="863.7" stroke="#333" stroke-width="0.6"/>
<text x="318.5" y="872.8" font-size="7.5" text-anchor="middle" fill="#222">ALS-</text>
<text x="318.5" y="880.2" font-size="7.5" text-anchor="middle" fill="#222">TDP</text>
<rect x="341.3" y="796.2" width="96.7" height="14.2" fill="#d9d9d9"/>
<line x1="340.95" y1="796.2" x2="438.35" y2="796.2" stroke="#333" stroke-width="0.7"/>
<line x1="341.3" y1="796.2" x2="341.3" y2="810.4" stroke="#333" stroke-width="0.7"/>
<line x1="438" y1="796.2" x2="438" y2="810.4" stroke="#333" stroke-width="0.7"/>
<text x="389.65" y="805.72" font-size="8.4" text-anchor="middle" fill="#1a1a1a">Frontal cortex</text>
<rect x="341.3" y="810.4" width="96.7" height="50.9" fill="#ffffff"/>
<line x1="341.3" y1="851" x2="438" y2="851" stroke="#f0f0f0" stroke-width="0.5"/>
<line x1="341.3" y1="834.2" x2="438" y2="834.2" stroke="#f0f0f0" stroke-width="0.5"/>
<line x1="341.3" y1="817.4" x2="438" y2="817.4" stroke="#f0f0f0" stroke-width="0.5"/>
<line x1="341.3" y1="859.4" x2="438" y2="859.4" stroke="#e6e6e6" stroke-width="0.8"/>
<line x1="341.3" y1="842.6" x2="438" y2="842.6" stroke="#e6e6e6" stroke-width="0.8"/>
<line x1="341.3" y1="825.8" x2="438" y2="825.8" stroke="#e6e6e6" stroke-width="0.8"/>
<line x1="352.3" y1="810.4" x2="352.3" y2="861.3" stroke="#e6e6e6" stroke-width="0.8"/>
<line x1="371" y1="810.4" x2="371" y2="861.3" stroke="#e6e6e6" stroke-width="0.8"/>
<line x1="389.6" y1="810.4" x2="389.6" y2="861.3" stroke="#e6e6e6" stroke-width="0.8"/>
<line x1="408.3" y1="810.4" x2="408.3" y2="861.3" stroke="#e6e6e6" stroke-width="0.8"/>
<line x1="426.7" y1="810.4" x2="426.7" y2="861.3" stroke="#e6e6e6" stroke-width="0.8"/>
<circle cx="345.4" cy="859.4" r="1.5" fill="#22a8a0" stroke="#1a1a1a" stroke-width="0.6"/>
<circle cx="347.1" cy="859.4" r="1.5" fill="#22a8a0" stroke="#1a1a1a" stroke-width="0.6"/>
<circle cx="348.8" cy="859.4" r="1.5" fill="#22a8a0" stroke="#1a1a1a" stroke-width="0.6"/>
<circle cx="350.5" cy="859.4" r="1.5" fill="#22a8a0" stroke="#1a1a1a" stroke-width="0.6"/>
<circle cx="352.2" cy="859.4" r="1.5" fill="#22a8a0" stroke="#1a1a1a" stroke-width="0.6"/>
<circle cx="353.9" cy="859.4" r="1.5" fill="#22a8a0" stroke="#1a1a1a" stroke-width="0.6"/>
<circle cx="355.6" cy="859.4" r="1.5" fill="#22a8a0" stroke="#1a1a1a" stroke-width="0.6"/>
<circle cx="357.3" cy="859.4" r="1.5" fill="#22a8a0" stroke="#1a1a1a" stroke-width="0.6"/>
<circle cx="359" cy="859.4" r="1.5" fill="#22a8a0" stroke="#1a1a1a" stroke-width="0.6"/>
<circle cx="345.4" cy="856.04" r="1.5" fill="#22a8a0" stroke="#1a1a1a" stroke-width="0.6"/>
<circle cx="350" cy="856.04" r="1.5" fill="#22a8a0" stroke="#1a1a1a" stroke-width="0.6"/>
<circle cx="363.8" cy="859.4" r="1.5" fill="#2d8a34" stroke="#1a1a1a" stroke-width="0.6"/>
<circle cx="372.3" cy="859.4" r="1.5" fill="#2d8a34" stroke="#1a1a1a" stroke-width="0.6"/>
<circle cx="377.6" cy="859.4" r="1.5" fill="#2d8a34" stroke="#1a1a1a" stroke-width="0.6"/>
<circle cx="383.2" cy="859.4" r="1.5" fill="#e6bf58" stroke="#1a1a1a" stroke-width="0.6"/>
<circle cx="384.86" cy="859.4" r="1.5" fill="#e6bf58" stroke="#1a1a1a" stroke-width="0.6"/>
<circle cx="386.52" cy="859.4" r="1.5" fill="#e6bf58" stroke="#1a1a1a" stroke-width="0.6"/>
<circle cx="388.19" cy="859.4" r="1.5" fill="#e6bf58" stroke="#1a1a1a" stroke-width="0.6"/>
<circle cx="389.85" cy="859.4" r="1.5" fill="#e6bf58" stroke="#1a1a1a" stroke-width="0.6"/>
<circle cx="391.51" cy="859.4" r="1.5" fill="#e6bf58" stroke="#1a1a1a" stroke-width="0.6"/>
<circle cx="393.18" cy="859.4" r="1.5" fill="#e6bf58" stroke="#1a1a1a" stroke-width="0.6"/>
<circle cx="394.84" cy="859.4" r="1.5" fill="#e6bf58" stroke="#1a1a1a" stroke-width="0.6"/>
<circle cx="396.5" cy="859.4" r="1.5" fill="#e6bf58" stroke="#1a1a1a" stroke-width="0.6"/>
<circle cx="383" cy="856.04" r="1.5" fill="#e6bf58" stroke="#1a1a1a" stroke-width="0.6"/>
<circle cx="387" cy="856.04" r="1.5" fill="#e6bf58" stroke="#1a1a1a" stroke-width="0.6"/>
<circle cx="390" cy="856.04" r="1.5" fill="#e6bf58" stroke="#1a1a1a" stroke-width="0.6"/>
<circle cx="393" cy="856.04" r="1.5" fill="#e6bf58" stroke="#1a1a1a" stroke-width="0.6"/>
<circle cx="395.5" cy="856.04" r="1.5" fill="#e6bf58" stroke="#1a1a1a" stroke-width="0.6"/>
<circle cx="383" cy="852.68" r="1.5" fill="#e6bf58" stroke="#1a1a1a" stroke-width="0.6"/>
<circle cx="392.5" cy="849.32" r="1.5" fill="#e6bf58" stroke="#1a1a1a" stroke-width="0.6"/>
<circle cx="401.6" cy="859.4" r="1.5" fill="#2d8a34" stroke="#1a1a1a" stroke-width="0.6"/>
<circle cx="403.28" cy="859.4" r="1.5" fill="#2d8a34" stroke="#1a1a1a" stroke-width="0.6"/>
<circle cx="404.95" cy="859.4" r="1.5" fill="#2d8a34" stroke="#1a1a1a" stroke-width="0.6"/>
<circle cx="406.62" cy="859.4" r="1.5" fill="#2d8a34" stroke="#1a1a1a" stroke-width="0.6"/>
<circle cx="408.3" cy="859.4" r="1.5" fill="#2d8a34" stroke="#1a1a1a" stroke-width="0.6"/>
<circle cx="409.98" cy="859.4" r="1.5" fill="#2d8a34" stroke="#1a1a1a" stroke-width="0.6"/>
<circle cx="411.65" cy="859.4" r="1.5" fill="#2d8a34" stroke="#1a1a1a" stroke-width="0.6"/>
<circle cx="413.32" cy="859.4" r="1.5" fill="#2d8a34" stroke="#1a1a1a" stroke-width="0.6"/>
<circle cx="415" cy="859.4" r="1.5" fill="#2d8a34" stroke="#1a1a1a" stroke-width="0.6"/>
<circle cx="402.9" cy="856.04" r="1.5" fill="#2d8a34" stroke="#1a1a1a" stroke-width="0.6"/>
<circle cx="420" cy="859.4" r="1.5" fill="#e6bf58" stroke="#1a1a1a" stroke-width="0.6"/>
<circle cx="421.66" cy="859.4" r="1.5" fill="#e6bf58" stroke="#1a1a1a" stroke-width="0.6"/>
<circle cx="423.32" cy="859.4" r="1.5" fill="#e6bf58" stroke="#1a1a1a" stroke-width="0.6"/>
<circle cx="424.99" cy="859.4" r="1.5" fill="#e6bf58" stroke="#1a1a1a" stroke-width="0.6"/>
<circle cx="426.65" cy="859.4" r="1.5" fill="#e6bf58" stroke="#1a1a1a" stroke-width="0.6"/>
<circle cx="428.31" cy="859.4" r="1.5" fill="#e6bf58" stroke="#1a1a1a" stroke-width="0.6"/>
<circle cx="429.98" cy="859.4" r="1.5" fill="#e6bf58" stroke="#1a1a1a" stroke-width="0.6"/>
<circle cx="431.64" cy="859.4" r="1.5" fill="#e6bf58" stroke="#1a1a1a" stroke-width="0.6"/>
<circle cx="433.3" cy="859.4" r="1.5" fill="#e6bf58" stroke="#1a1a1a" stroke-width="0.6"/>
<circle cx="420.5" cy="856.04" r="1.5" fill="#e6bf58" stroke="#1a1a1a" stroke-width="0.6"/>
<circle cx="426.7" cy="856.04" r="1.5" fill="#e6bf58" stroke="#1a1a1a" stroke-width="0.6"/>
<circle cx="428" cy="856.04" r="1.5" fill="#e6bf58" stroke="#1a1a1a" stroke-width="0.6"/>
<circle cx="429.7" cy="856.04" r="1.5" fill="#e6bf58" stroke="#1a1a1a" stroke-width="0.6"/>
<circle cx="433.6" cy="856.04" r="1.5" fill="#e6bf58" stroke="#1a1a1a" stroke-width="0.6"/>
<circle cx="420.5" cy="852.68" r="1.5" fill="#e6bf58" stroke="#1a1a1a" stroke-width="0.6"/>
<circle cx="427.4" cy="852.68" r="1.5" fill="#e6bf58" stroke="#1a1a1a" stroke-width="0.6"/>
<circle cx="425.6" cy="849.32" r="1.5" fill="#e6bf58" stroke="#1a1a1a" stroke-width="0.6"/>
<circle cx="420.5" cy="845.96" r="1.5" fill="#e6bf58" stroke="#1a1a1a" stroke-width="0.6"/>
<circle cx="433.3" cy="845.96" r="1.5" fill="#e6bf58" stroke="#1a1a1a" stroke-width="0.6"/>
<line x1="341.3" y1="810.4" x2="341.3" y2="861.3" stroke="#333" stroke-width="0.8"/>
<line x1="438" y1="810.4" x2="438" y2="861.3" stroke="#333" stroke-width="0.8"/>
<line x1="340.9" y1="861.3" x2="438.4" y2="861.3" stroke="#333" stroke-width="0.8"/>
<line x1="341.3" y1="810.4" x2="438" y2="810.4" stroke="#a6a6a6" stroke-width="1"/>
<line x1="352.3" y1="861.3" x2="352.3" y2="863.7" stroke="#333" stroke-width="0.6"/>
<text x="352.3" y="872.8" font-size="7.5" text-anchor="middle" fill="#222">Ctrl</text>
<line x1="371" y1="861.3" x2="371" y2="863.7" stroke="#333" stroke-width="0.6"/>
<text x="371" y="872.8" font-size="7.5" text-anchor="middle" fill="#222">ALS-</text>
<text x="371" y="880.2" font-size="7.5" text-anchor="middle" fill="#222">non-</text>
<text x="371" y="887.6" font-size="7.5" text-anchor="middle" fill="#222">TDP</text>
<line x1="389.6" y1="861.3" x2="389.6" y2="863.7" stroke="#333" stroke-width="0.6"/>
<text x="389.6" y="872.8" font-size="7.5" text-anchor="middle" fill="#222">ALS-</text>
<text x="389.6" y="880.2" font-size="7.5" text-anchor="middle" fill="#222">TDP</text>
<line x1="408.3" y1="861.3" x2="408.3" y2="863.7" stroke="#333" stroke-width="0.6"/>
<text x="408.3" y="872.8" font-size="7.5" text-anchor="middle" fill="#222">FTD-</text>
<text x="408.3" y="880.2" font-size="7.5" text-anchor="middle" fill="#222">non-</text>
<text x="408.3" y="887.6" font-size="7.5" text-anchor="middle" fill="#222">TDP</text>
<line x1="426.7" y1="861.3" x2="426.7" y2="863.7" stroke="#333" stroke-width="0.6"/>
<text x="426.7" y="872.8" font-size="7.5" text-anchor="middle" fill="#222">FTD-</text>
<text x="426.7" y="880.2" font-size="7.5" text-anchor="middle" fill="#222">TDP</text>
<rect x="240.3" y="894.1" width="96.1" height="14.1" fill="#d9d9d9"/>
<line x1="239.95" y1="894.1" x2="336.75" y2="894.1" stroke="#333" stroke-width="0.7"/>
<line x1="240.3" y1="894.1" x2="240.3" y2="908.2" stroke="#333" stroke-width="0.7"/>
<line x1="336.4" y1="894.1" x2="336.4" y2="908.2" stroke="#333" stroke-width="0.7"/>
<text x="288.35" y="903.57" font-size="8.4" text-anchor="middle" fill="#1a1a1a">Cerebellum</text>
<rect x="240.3" y="908.2" width="96.1" height="50.8" fill="#ffffff"/>
<line x1="240.3" y1="949.3" x2="336.4" y2="949.3" stroke="#f0f0f0" stroke-width="0.5"/>
<line x1="240.3" y1="932.5" x2="336.4" y2="932.5" stroke="#f0f0f0" stroke-width="0.5"/>
<line x1="240.3" y1="915.7" x2="336.4" y2="915.7" stroke="#f0f0f0" stroke-width="0.5"/>
<line x1="240.3" y1="957.7" x2="336.4" y2="957.7" stroke="#e6e6e6" stroke-width="0.8"/>
<line x1="240.3" y1="940.9" x2="336.4" y2="940.9" stroke="#e6e6e6" stroke-width="0.8"/>
<line x1="240.3" y1="924.1" x2="336.4" y2="924.1" stroke="#e6e6e6" stroke-width="0.8"/>
<line x1="251.3" y1="908.2" x2="251.3" y2="959" stroke="#e6e6e6" stroke-width="0.8"/>
<line x1="269.7" y1="908.2" x2="269.7" y2="959" stroke="#e6e6e6" stroke-width="0.8"/>
<line x1="288.6" y1="908.2" x2="288.6" y2="959" stroke="#e6e6e6" stroke-width="0.8"/>
<line x1="307" y1="908.2" x2="307" y2="959" stroke="#e6e6e6" stroke-width="0.8"/>
<line x1="325.7" y1="908.2" x2="325.7" y2="959" stroke="#e6e6e6" stroke-width="0.8"/>
<circle cx="244.4" cy="957.7" r="1.5" fill="#22a8a0" stroke="#1a1a1a" stroke-width="0.6"/>
<circle cx="246.2" cy="957.7" r="1.5" fill="#22a8a0" stroke="#1a1a1a" stroke-width="0.6"/>
<circle cx="248" cy="957.7" r="1.5" fill="#22a8a0" stroke="#1a1a1a" stroke-width="0.6"/>
<circle cx="249.8" cy="957.7" r="1.5" fill="#22a8a0" stroke="#1a1a1a" stroke-width="0.6"/>
<circle cx="251.6" cy="957.7" r="1.5" fill="#22a8a0" stroke="#1a1a1a" stroke-width="0.6"/>
<circle cx="253.4" cy="957.7" r="1.5" fill="#22a8a0" stroke="#1a1a1a" stroke-width="0.6"/>
<circle cx="255.2" cy="957.7" r="1.5" fill="#22a8a0" stroke="#1a1a1a" stroke-width="0.6"/>
<circle cx="257" cy="957.7" r="1.5" fill="#22a8a0" stroke="#1a1a1a" stroke-width="0.6"/>
<circle cx="258.8" cy="957.7" r="1.5" fill="#22a8a0" stroke="#1a1a1a" stroke-width="0.6"/>
<circle cx="265.5" cy="957.7" r="1.5" fill="#2d8a34" stroke="#1a1a1a" stroke-width="0.6"/>
<circle cx="268.5" cy="957.7" r="1.5" fill="#2d8a34" stroke="#1a1a1a" stroke-width="0.6"/>
<circle cx="272.3" cy="957.7" r="1.5" fill="#2d8a34" stroke="#1a1a1a" stroke-width="0.6"/>
<circle cx="275" cy="957.7" r="1.5" fill="#2d8a34" stroke="#1a1a1a" stroke-width="0.6"/>
<circle cx="277" cy="957.7" r="1.5" fill="#2d8a34" stroke="#1a1a1a" stroke-width="0.6"/>
<circle cx="281.5" cy="957.7" r="1.5" fill="#e6bf58" stroke="#1a1a1a" stroke-width="0.6"/>
<circle cx="283.25" cy="957.7" r="1.5" fill="#e6bf58" stroke="#1a1a1a" stroke-width="0.6"/>
<circle cx="285" cy="957.7" r="1.5" fill="#e6bf58" stroke="#1a1a1a" stroke-width="0.6"/>
<circle cx="286.75" cy="957.7" r="1.5" fill="#e6bf58" stroke="#1a1a1a" stroke-width="0.6"/>
<circle cx="288.5" cy="957.7" r="1.5" fill="#e6bf58" stroke="#1a1a1a" stroke-width="0.6"/>
<circle cx="290.25" cy="957.7" r="1.5" fill="#e6bf58" stroke="#1a1a1a" stroke-width="0.6"/>
<circle cx="292" cy="957.7" r="1.5" fill="#e6bf58" stroke="#1a1a1a" stroke-width="0.6"/>
<circle cx="293.75" cy="957.7" r="1.5" fill="#e6bf58" stroke="#1a1a1a" stroke-width="0.6"/>
<circle cx="295.5" cy="957.7" r="1.5" fill="#e6bf58" stroke="#1a1a1a" stroke-width="0.6"/>
<circle cx="283.2" cy="954.34" r="1.5" fill="#e6bf58" stroke="#1a1a1a" stroke-width="0.6"/>
<circle cx="289.3" cy="954.34" r="1.5" fill="#e6bf58" stroke="#1a1a1a" stroke-width="0.6"/>
<circle cx="301.7" cy="957.7" r="1.5" fill="#2d8a34" stroke="#1a1a1a" stroke-width="0.6"/>
<circle cx="303.3" cy="957.7" r="1.5" fill="#2d8a34" stroke="#1a1a1a" stroke-width="0.6"/>
<circle cx="304.9" cy="957.7" r="1.5" fill="#2d8a34" stroke="#1a1a1a" stroke-width="0.6"/>
<circle cx="306.5" cy="957.7" r="1.5" fill="#2d8a34" stroke="#1a1a1a" stroke-width="0.6"/>
<circle cx="308.1" cy="957.7" r="1.5" fill="#2d8a34" stroke="#1a1a1a" stroke-width="0.6"/>
<circle cx="309.7" cy="957.7" r="1.5" fill="#2d8a34" stroke="#1a1a1a" stroke-width="0.6"/>
<circle cx="311.3" cy="957.7" r="1.5" fill="#2d8a34" stroke="#1a1a1a" stroke-width="0.6"/>
<circle cx="312.9" cy="957.7" r="1.5" fill="#2d8a34" stroke="#1a1a1a" stroke-width="0.6"/>
<circle cx="318.2" cy="957.7" r="1.5" fill="#e6bf58" stroke="#1a1a1a" stroke-width="0.6"/>
<circle cx="319.82" cy="957.7" r="1.5" fill="#e6bf58" stroke="#1a1a1a" stroke-width="0.6"/>
<circle cx="321.44" cy="957.7" r="1.5" fill="#e6bf58" stroke="#1a1a1a" stroke-width="0.6"/>
<circle cx="323.07" cy="957.7" r="1.5" fill="#e6bf58" stroke="#1a1a1a" stroke-width="0.6"/>
<circle cx="324.69" cy="957.7" r="1.5" fill="#e6bf58" stroke="#1a1a1a" stroke-width="0.6"/>
<circle cx="326.31" cy="957.7" r="1.5" fill="#e6bf58" stroke="#1a1a1a" stroke-width="0.6"/>
<circle cx="327.93" cy="957.7" r="1.5" fill="#e6bf58" stroke="#1a1a1a" stroke-width="0.6"/>
<circle cx="329.56" cy="957.7" r="1.5" fill="#e6bf58" stroke="#1a1a1a" stroke-width="0.6"/>
<circle cx="331.18" cy="957.7" r="1.5" fill="#e6bf58" stroke="#1a1a1a" stroke-width="0.6"/>
<circle cx="332.8" cy="957.7" r="1.5" fill="#e6bf58" stroke="#1a1a1a" stroke-width="0.6"/>
<circle cx="326.1" cy="954.34" r="1.5" fill="#e6bf58" stroke="#1a1a1a" stroke-width="0.6"/>
<line x1="240.3" y1="908.2" x2="240.3" y2="959" stroke="#333" stroke-width="0.8"/>
<line x1="336.4" y1="908.2" x2="336.4" y2="959" stroke="#333" stroke-width="0.8"/>
<line x1="239.9" y1="959" x2="336.8" y2="959" stroke="#333" stroke-width="0.8"/>
<line x1="240.3" y1="908.2" x2="336.4" y2="908.2" stroke="#a6a6a6" stroke-width="1"/>
<line x1="237.9" y1="957.7" x2="240.3" y2="957.7" stroke="#333" stroke-width="0.6"/>
<text x="235.3" y="960.44" font-size="7.6" text-anchor="end" fill="#222">0</text>
<line x1="237.9" y1="940.9" x2="240.3" y2="940.9" stroke="#333" stroke-width="0.6"/>
<text x="235.3" y="943.64" font-size="7.6" text-anchor="end" fill="#222">5</text>
<line x1="237.9" y1="924.1" x2="240.3" y2="924.1" stroke="#333" stroke-width="0.6"/>
<text x="235.3" y="926.84" font-size="7.6" text-anchor="end" fill="#222">10</text>
<line x1="251.3" y1="959" x2="251.3" y2="961.4" stroke="#333" stroke-width="0.6"/>
<text x="251.3" y="970.5" font-size="7.5" text-anchor="middle" fill="#222">Ctrl</text>
<line x1="269.7" y1="959" x2="269.7" y2="961.4" stroke="#333" stroke-width="0.6"/>
<text x="269.7" y="970.5" font-size="7.5" text-anchor="middle" fill="#222">ALS-</text>
<text x="269.7" y="977.9" font-size="7.5" text-anchor="middle" fill="#222">non-</text>
<text x="269.7" y="985.3" font-size="7.5" text-anchor="middle" fill="#222">TDP</text>
<line x1="288.6" y1="959" x2="288.6" y2="961.4" stroke="#333" stroke-width="0.6"/>
<text x="288.6" y="970.5" font-size="7.5" text-anchor="middle" fill="#222">ALS-</text>
<text x="288.6" y="977.9" font-size="7.5" text-anchor="middle" fill="#222">TDP</text>
<line x1="307" y1="959" x2="307" y2="961.4" stroke="#333" stroke-width="0.6"/>
<text x="307" y="970.5" font-size="7.5" text-anchor="middle" fill="#222">FTD-</text>
<text x="307" y="977.9" font-size="7.5" text-anchor="middle" fill="#222">non-</text>
<text x="307" y="985.3" font-size="7.5" text-anchor="middle" fill="#222">TDP</text>
<line x1="325.7" y1="959" x2="325.7" y2="961.4" stroke="#333" stroke-width="0.6"/>
<text x="325.7" y="970.5" font-size="7.5" text-anchor="middle" fill="#222">FTD-</text>
<text x="325.7" y="977.9" font-size="7.5" text-anchor="middle" fill="#222">TDP</text>
</svg></body></html>
